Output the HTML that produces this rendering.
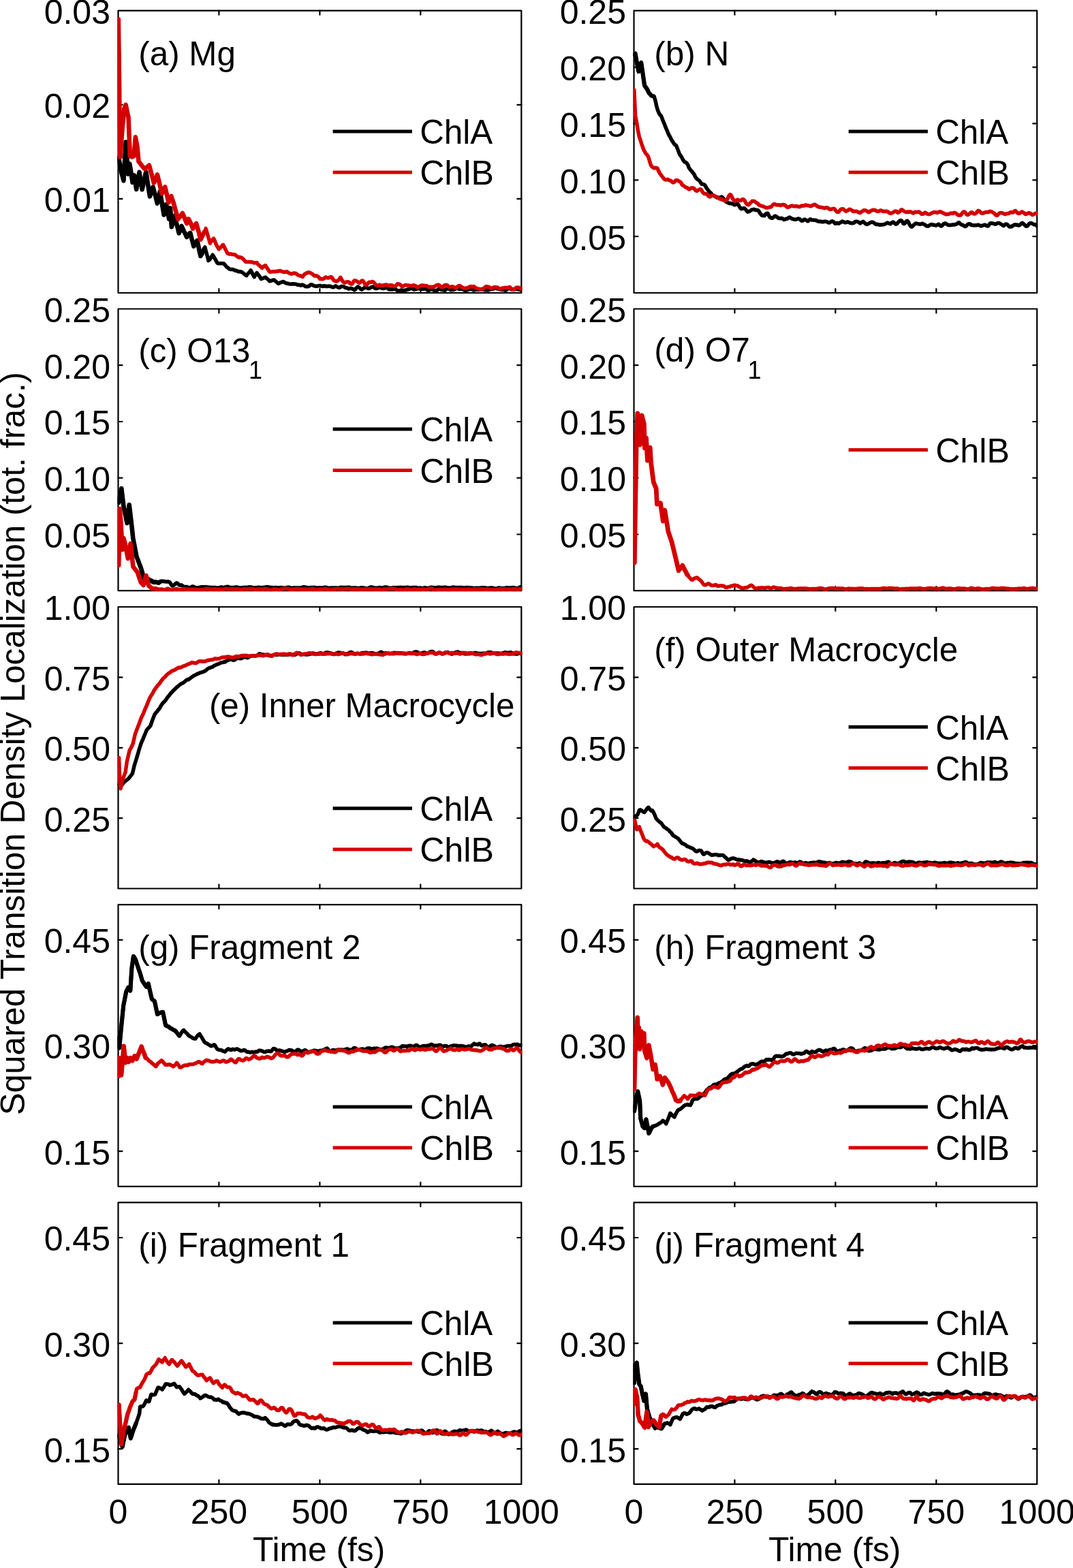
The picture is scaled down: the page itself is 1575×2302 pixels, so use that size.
<!DOCTYPE html><html><head><meta charset="utf-8"><title>Squared Transition Density Localization</title>
<style>html,body{margin:0;padding:0;background:#fff;}svg{display:block;}text{font-family:'Liberation Sans', Arial, Helvetica, sans-serif;}</style></head><body>
<svg xmlns="http://www.w3.org/2000/svg" width="1575" height="2302" viewBox="0 0 1575 2302">
<rect width="1575" height="2302" fill="#fff"/>
<g stroke="#000" stroke-width="2.2" fill="none" stroke-linecap="round">
<rect x="173.5" y="15.7" width="591.8" height="414.3" stroke-linejoin="round"/>
<path d="M321.4 430V424 M321.4 15.7V21.7 M469.4 430V424 M469.4 15.7V21.7 M617.3 430V424 M617.3 15.7V21.7 M173.5 291.9H179.5 M765.3 291.9H759.3 M173.5 153.8H179.5 M765.3 153.8H759.3"/>
</g>
<clipPath id="c0"><rect x="172.5" y="14.7" width="593.8" height="416.3"/></clipPath>
<g clip-path="url(#c0)" fill="none" stroke-width="5.5" stroke-linejoin="round" stroke-linecap="round">
<path stroke="#000" d="M173.8 232.2 L174.8 235.6 L175 236 L175.8 240.2 L176.8 245.8 L177.5 249.9 L177.8 251.3 L178.8 255.2 L179.8 259 L180.8 262.9 L181.4 265.3 L181.8 258.3 L182.8 241.1 L183.8 224 L184.7 208.6 L184.8 210 L185.8 224 L186.8 237.8 L187.8 251.5 L188.1 255.6 L188.8 250.8 L189.8 244.1 L190.3 240.6 L190.8 243.4 L191.8 249.6 L192.8 256.1 L193.8 262.8 L194.5 267.7 L194.8 266.7 L195.8 262.8 L196.8 258.7 L197.1 257.4 L197.8 262.3 L198.8 269.1 L199.8 275.7 L200.2 278 L200.8 274.3 L201.8 268.3 L202.8 262.5 L203.8 256.9 L204.6 252.7 L204.8 254.3 L205.8 260.8 L206.8 267.2 L207.8 273.3 L208.6 278.2 L208.8 277.4 L209.8 272.9 L210.8 268.5 L211.8 263.9 L212.8 259.2 L213.8 254.5 L214.3 252.3 L214.8 255.4 L215.8 261.7 L216.8 268.6 L217.8 275.2 L218.8 281.6 L219.8 287.6 L220 288.4 L220.8 285.8 L221.8 282.6 L222.8 279.4 L223.8 276.6 L224.6 274.6 L224.8 275.4 L225.8 279 L226.8 282.7 L227.8 286.4 L228.8 290.2 L229.8 294.2 L230.8 298.2 L230.9 298.6 L231.8 294.7 L232.8 290.1 L233.8 285.5 L234.8 281.2 L234.9 280.9 L235.8 286.4 L236.8 292.5 L237.8 298.5 L238.8 304.7 L239.8 310.7 L240.6 315.5 L240.8 314.7 L241.8 310.3 L242.8 305.8 L243.8 301.2 L244 300.1 L244.8 304.1 L245.8 309.1 L246.8 314.3 L247.8 319.9 L248 321.4 L248.8 315 L249.8 306.9 L250 305.4 L250.8 317.4 L251.8 332 L251.9 333.2 L252.8 329.8 L253.8 325.9 L254.8 322.4 L255.8 318.7 L256.3 317 L256.8 319.2 L257.8 323.1 L258.8 327.1 L259.8 330.8 L260.8 334.5 L261.8 338.6 L262.7 342.4 L262.8 342.3 L263.8 339.5 L264.8 336.7 L265.8 333.8 L266.5 331.9 L266.8 332.5 L267.8 334.6 L268.8 336.9 L269.8 339.3 L270.8 341.2 L271.8 343 L272.8 345.2 L273.8 347.4 L274.1 348 L274.8 347.2 L275.8 345.7 L276.8 344.3 L277.8 343.1 L278.8 342.1 L279.2 341.9 L279.8 344.2 L280.8 348.2 L281.8 352.1 L282.8 355.6 L283.8 359.4 L284.3 361.6 L284.8 360.8 L285.8 359.3 L286.8 357.4 L287.8 355.4 L288.8 353.9 L289.4 353.2 L289.8 354.8 L290.8 359.3 L291.8 364.1 L292.8 368.8 L293.8 373.4 L294.4 376 L294.8 375.1 L295.8 373.7 L296.8 372 L297.8 369.8 L298.8 367.4 L299.8 365.2 L300.8 362.8 L301.8 366.7 L302.8 370.4 L303.8 374 L304.8 377.9 L305.8 382.1 L305.9 382.6 L306.8 381.9 L307.8 381.1 L308.8 379.7 L309.8 378 L310.8 376.4 L311.8 374.9 L312.2 374.1 L312.8 375.1 L313.8 376.8 L314.8 378.5 L315.8 380.3 L316.8 382.1 L317.8 384 L318.6 385.6 L318.8 386 L319.8 386.5 L320.8 386.7 L321.8 386.7 L322.8 386.8 L323.8 386.8 L324.8 386.7 L325.8 386.8 L326.8 386.7 L327.8 386.8 L328.7 387.1 L328.8 387.3 L329.8 388.4 L330.8 389.6 L331.8 390.8 L332.8 391.9 L333.8 392.6 L334.8 393.3 L335.8 394.4 L336.3 394.9 L336.8 394.9 L337.8 395.1 L338.8 395.6 L339.8 395.6 L340.8 395.6 L341.8 395.6 L342.8 396 L343.8 396.4 L344.8 397 L345.2 397.3 L345.8 397.2 L346.8 397.3 L347.8 397.8 L348.8 398.3 L349.8 398.7 L350.8 398.9 L351.6 398.5 L351.8 398.6 L352.8 399.1 L353.8 399 L354.8 399.3 L355.8 400.1 L356.8 400.9 L357.8 401.7 L358.8 402.5 L359.8 403.3 L360.8 404.1 L361.7 404.6 L361.8 404.2 L362.8 403.1 L363.8 402.1 L364.8 400.9 L365.8 399.8 L366.8 398.5 L367.8 397.4 L368.1 396.9 L368.8 398.2 L369.8 400.1 L370.8 402.2 L371.8 404.1 L372.8 406 L373.2 406.7 L373.8 405.5 L374.8 403.8 L375.8 402.3 L376.8 400.9 L377 400.6 L377.8 401.7 L378.8 403 L379.8 404.3 L380.8 405.5 L381.8 407.2 L382.8 409 L383.3 409.6 L383.8 409.3 L384.8 408.9 L385.8 408.6 L386.8 408.1 L387.8 407.6 L388.8 407.4 L389.7 407 L389.8 407.2 L390.8 408.3 L391.8 409.1 L392.8 409.9 L393.8 410.7 L394.8 411.8 L395.8 412.8 L396 412.6 L396.8 412.3 L397.8 412.3 L398.8 412 L399.8 411.5 L400.8 411.1 L401.8 410.9 L402.4 410.9 L402.8 411.3 L403.8 412.2 L404.8 413.2 L405.8 413.9 L406.8 414.8 L407.8 415.9 L408.7 416.3 L408.8 416.2 L409.8 416 L410.8 415.3 L411.8 414.7 L412.8 414.4 L413.8 414.1 L414.8 413.7 L415.8 413.4 L416.8 413.9 L417.8 414.6 L418.8 415.2 L419.8 415.8 L420.8 415.9 L421.4 415.9 L421.8 416 L422.8 416.2 L423.8 416.6 L424.8 416.9 L425.8 417.1 L426.8 417.1 L427.8 416.9 L428.8 417 L429.8 416.7 L430.8 416.8 L431.8 417.1 L432.8 417.1 L433.8 417.1 L434.1 417.1 L434.8 417.2 L435.8 417.8 L436.8 418.2 L437.8 418.2 L438.8 418.1 L439.8 418.3 L440.8 418.9 L441.8 419.1 L442.8 418.3 L443.8 418.1 L444.8 418.5 L445.8 418.9 L446.8 419.6 L447.8 420.3 L448.8 420.6 L449.8 420.7 L450.8 420.7 L451.8 420.6 L452.8 420.5 L453.8 420 L454.8 418.9 L455.8 417.9 L456.8 417.7 L457.8 418 L458.8 418.3 L459.8 419.2 L460.8 419.5 L461.8 419.8 L462.8 420.1 L463.8 420.2 L464.8 420.2 L465.8 420 L466.8 419.8 L467.8 419.8 L468.8 419.4 L469.8 419.3 L470 419.5 L470.8 420 L471.8 420.1 L472.8 420.1 L473.8 420.4 L474.8 420.3 L475.8 419.7 L476.8 419.8 L477.8 420 L478.8 420.4 L479.8 420.5 L480.8 420.2 L481.8 420 L482.8 420.3 L483.8 420.2 L484.8 420.3 L485.8 420.8 L486.8 421 L487.8 421.6 L488.8 421.7 L489.8 421.5 L490.8 421 L491.8 420.1 L492.8 419.8 L493.8 420.4 L494.8 421.1 L495.8 421.6 L496.8 422 L497.8 422.3 L498.8 422.1 L499 421.8 L499.8 421.3 L500.8 420.5 L501.8 420.4 L502.8 420.6 L503.8 420.8 L504.8 420.8 L505.8 421.6 L506.8 422.4 L507.8 422.5 L508.8 422.6 L509.8 423 L510.8 423.5 L511.8 424.1 L512.8 423.9 L513.8 423.3 L514.8 423.2 L515.8 423.4 L516.8 424 L517.8 424.2 L518.8 424.7 L519.8 425.7 L520.8 425.7 L521.8 424.5 L522.8 423.1 L523.8 422.1 L524.8 421.2 L525.8 421.1 L526.8 421.7 L527.8 422.6 L528.8 423.4 L529.8 424.6 L530.8 425.2 L531.8 424.5 L532.8 423.8 L533.8 423.4 L534.8 422.4 L535.8 421.5 L536.8 421.4 L537.8 422.1 L538.7 422.9 L538.8 422.9 L539.8 423.2 L540.8 423.6 L541.8 423.5 L542.8 423 L543.8 422.4 L544.8 421.7 L545.8 421.4 L546.8 421.2 L547.8 421.1 L548.8 421.9 L549.8 423.1 L550.8 423.3 L551.8 423.4 L552.8 423.4 L553.8 423.2 L554.8 422.8 L555.8 422.5 L556.8 422.1 L557.8 422 L558.8 422.6 L559.8 423.1 L560.8 423.1 L561.8 423.1 L562.8 423.5 L563.8 423.3 L564.8 422.9 L565.8 422.7 L566.8 422.3 L567.8 422.3 L568.8 423 L569.8 424 L570.8 424.5 L571.8 425.1 L572.8 424.9 L573.8 424.5 L574.8 424.7 L575.8 425.1 L576.8 424.6 L577.8 424.3 L578 424.4 L578.8 424.1 L579.8 424 L580.8 424.8 L581.8 425.6 L582.8 426.1 L583.8 426.7 L584.8 427 L585.8 426.7 L586.8 426.6 L587.8 426.3 L588.8 425.9 L589.8 426 L590.8 426.3 L591.8 426.6 L592.8 426.5 L593.8 426.2 L594.8 426 L595.8 426.1 L596.8 425.7 L597.8 425.1 L598.8 425 L599.8 424.9 L600.8 424.4 L601.8 423.8 L602.8 423.4 L603.8 423 L604.8 423.1 L605.8 424 L606.8 424.9 L607.8 425.4 L608.8 424.9 L609.8 424.6 L610.8 424.5 L611.8 424.1 L612.8 423.6 L613.8 423.8 L614.8 423.7 L615.8 423.4 L616.8 424.1 L617.5 424.5 L617.8 424.4 L618.8 424.5 L619.8 424.4 L620.8 424.3 L621.8 424.2 L622.8 423.9 L623.8 423.6 L624.8 424 L625.8 424.7 L626.8 425.4 L627.8 426.4 L628.8 426.7 L629.8 426.2 L630.8 425.5 L631.8 424.8 L632.8 424.7 L633.8 424.9 L634.8 425.3 L635.8 425.5 L636.8 426.2 L637.8 426.8 L638.8 426.8 L639.8 426.4 L640.8 426.3 L641.8 426.2 L642.8 425 L643.8 424.1 L644.8 423.9 L645.8 424.2 L646.8 424.8 L647.8 425.5 L648.8 425.6 L649.8 425.4 L650.8 425.5 L651.8 426 L652.8 426.2 L653.8 426 L654.8 424.9 L655.8 423.8 L656.8 422.9 L657 422.9 L657.8 423.3 L658.8 423.9 L659.8 424.7 L660.8 425.5 L661.8 425.7 L662.8 425.5 L663.8 425.2 L664.8 425.5 L665.8 425.4 L666.8 425 L667.8 424.6 L668.8 423.7 L669.8 423.3 L670.8 423 L671.8 423 L672.8 423.8 L673.8 424.5 L674.8 424.5 L675.8 424.2 L676.8 424.2 L677.8 424.1 L678.8 424.2 L679.8 424.7 L680.8 425.7 L681.8 426.1 L682.8 426.2 L683.8 426.2 L684.8 426.1 L685.8 425.8 L686.8 425.5 L687.8 425.1 L688.8 424.9 L689.8 424.5 L690.8 424.3 L691.8 424.3 L692.8 424.7 L693.8 425.3 L694.8 426 L695.8 426.1 L696 425.7 L696.8 425.5 L697.8 425.5 L698.8 425.2 L699.8 425 L700.8 425.1 L701.8 425.3 L702.8 425.4 L703.8 425.1 L704.8 424.8 L705.8 425 L706.8 425.2 L707.8 424.9 L708.8 424.9 L709.8 425 L710.8 425.5 L711.8 425.7 L712.8 425.7 L713.8 425.6 L714.8 426.1 L715.8 426.1 L716.8 426 L717.8 425.6 L718.8 425.2 L719.8 424.7 L720.8 424 L721.8 424.1 L722.8 424.4 L723.8 424.2 L724.8 423.8 L725.8 423.2 L726.8 422.8 L727.8 423 L728.8 423.6 L729.8 423.9 L730.8 424.1 L731.8 424.3 L732.8 424.7 L733.8 425 L734.8 424.7 L735.6 424.9 L735.8 425.2 L736.8 425.4 L737.8 425.4 L738.8 425.5 L739.8 425.3 L740.8 425.8 L741.8 426.3 L742.8 426.1 L743.8 425.2 L744.8 424.5 L745.8 423.8 L746.8 423.3 L747.8 423.2 L748.8 423.4 L749.8 424.3 L750.8 425 L751.8 425.3 L752.8 425.1 L753.8 424.6 L754.8 424.3 L755.8 424.3 L756.8 424.4 L757.8 424.6 L758.8 424.5 L759.8 424.7 L760.8 425.1 L761.8 425.1 L762.8 425.4 L763.8 425.5 L764.8 425.2 L765 424.9"/>
<path stroke="#000" stroke-width="6.6" d="M173.8 232.2 L174.8 235.6 L175 236 L175.8 240.2 L176.8 245.8 L177.5 249.9 L177.8 251.3 L178.8 255.2 L179.8 259 L180.8 262.9 L181.4 265.3 L181.8 258.3 L182.8 241.1 L183.8 224 L184.7 208.6 L184.8 210 L185.8 224 L186.8 237.8 L187.8 251.5 L188.1 255.6 L188.8 250.8 L189.8 244.1 L190.3 240.6 L190.8 243.4 L191.8 249.6 L192.8 256.1 L193.8 262.8 L194.5 267.7 L194.8 266.7 L195.8 262.8 L196.8 258.7 L197.1 257.4 L197.8 262.3 L198.8 269.1 L199.8 275.7 L200.2 278 L200.8 274.3 L201.8 268.3 L202.8 262.5 L203.8 256.9 L204.6 252.7 L204.8 254.3 L205.8 260.8 L206.8 267.2 L207.8 273.3 L208.6 278.2 L208.8 277.4 L209.8 272.9 L210.8 268.5 L211.8 263.9 L212.8 259.2 L213.8 254.5 L214.3 252.3 L214.8 255.4 L215.8 261.7 L216.8 268.6 L217.8 275.2 L218.8 281.6 L219.8 287.6 L220 288.4 L220.8 285.8 L221.8 282.6 L222.8 279.4 L223.8 276.6 L224.6 274.6 L224.8 275.4 L225.8 279 L226.8 282.7 L227.8 286.4 L228.8 290.2 L229.8 294.2 L230.8 298.2 L230.9 298.6 L231.8 294.7 L232.8 290.1 L233.8 285.5 L234.8 281.2 L234.9 280.9 L235.8 286.4 L236.8 292.5 L237.8 298.5 L238.8 304.7 L239.8 310.7 L240.6 315.5 L240.8 314.7 L241.8 310.3 L242.8 305.8 L243.8 301.2 L244 300.1 L244.8 304.1 L245.8 309.1 L246.8 314.3 L247.8 319.9 L248 321.4 L248.8 315 L249.8 306.9 L250 305.4 L250.8 317.4 L251.8 332 L251.9 333.2 L252.8 329.8 L253.8 325.9 L254.8 322.4 L255.8 318.7 L256.3 317 L256.8 319.2 L257.8 323.1 L258.8 327.1 L259.8 330.8 L260.8 334.5 L261.8 338.6 L262.7 342.4 L262.8 342.3 L263.8 339.5 L264.8 336.7 L265.8 333.8 L266.5 331.9 L266.8 332.5 L267.8 334.6 L268.8 336.9 L269.8 339.3 L270.8 341.2 L271.8 343 L272.8 345.2 L273.8 347.4 L274.1 348 L274.8 347.2 L275.8 345.7 L276.8 344.3 L277.8 343.1 L278.8 342.1 L279.2 341.9 L279.8 344.2 L280.8 348.2 L281.8 352.1 L282.8 355.6 L283.8 359.4 L284.3 361.6 L284.8 360.8 L285.8 359.3 L286.8 357.4 L287.8 355.4 L288.8 353.9 L289.4 353.2 L289.8 354.8 L290.8 359.3 L291.8 364.1 L292.8 368.8 L293.8 373.4 L294.4 376 L294.8 375.1 L295.8 373.7 L296.8 372 L297.8 369.8 L298.8 367.4 L299.8 365.2"/>
<path stroke="#d40000" d="M173.8 28.2 L174.8 106.2 L175.1 129.8 L175.7 190.1 L175.8 195.5 L176.5 230.7 L176.8 226.5 L177.8 212.6 L178.8 198.8 L179.4 190.4 L179.8 186.2 L180.8 176.2 L181.8 166.3 L182.5 159.3 L182.8 158.4 L183.8 155.8 L184.6 153.8 L184.8 154.9 L185.8 159.6 L186.8 164.4 L187.8 169 L188.5 172 L188.8 179.4 L189.8 204.2 L190.8 228.9 L191.8 229.4 L192.8 230 L193.5 230.4 L193.8 230.3 L194.8 229.8 L195.8 229.5 L196.5 229.3 L196.8 225.8 L197.8 214.1 L198.8 202.4 L198.9 201.4 L199.8 206.3 L200.8 211.7 L201.5 215.5 L201.8 218.7 L202.8 229.6 L203.5 237.1 L203.8 237.4 L204.8 238.7 L205.8 239.9 L206.8 241.2 L207.8 242.6 L208 243 L208.8 244 L209.8 245.1 L210.8 246.3 L211.8 247.3 L212.8 248 L213.8 246.8 L214.8 245.9 L215.8 245.1 L216.8 244.4 L217.8 243.8 L218.8 242.9 L218.9 242.5 L219.8 245.7 L220.8 249.5 L221.8 253.2 L222.8 256.8 L223.8 260.6 L224.8 264.6 L225.7 268.3 L225.8 268.4 L226.8 266.3 L227.8 264.1 L228.8 261.8 L229.8 259.4 L230.8 256.8 L230.9 256.4 L231.8 260 L232.8 264 L233.8 268.1 L234.8 272.2 L235.8 276.2 L236.8 280.3 L237.7 284.2 L237.8 284.1 L238.8 282.1 L239.8 280 L240.8 278 L241.8 275.7 L242.3 274.4 L242.8 276.5 L243.8 281 L244.8 285.3 L245.8 289.7 L246.8 294.5 L247.4 297.4 L247.8 296.4 L248.8 294.1 L249.8 291.9 L250.8 289.4 L251.4 287.9 L251.8 289.2 L252.8 292.4 L253.8 295.2 L254.8 298.1 L255.1 299.4 L255.8 301.9 L256.8 305.6 L257.8 309.2 L258.8 312.7 L259.8 316.1 L260.8 319.7 L261.4 321.8 L261.8 321.1 L262.8 319.8 L263.8 318.6 L264.8 317.3 L265.8 315.9 L266.8 314.5 L267.8 313 L268.8 315.2 L269.8 317.4 L270.8 319.8 L271.8 322.4 L272.8 324.8 L273.8 327.1 L274.1 328.1 L274.8 326.6 L275.8 324.1 L276.7 321.5 L276.8 321.6 L277.8 323.6 L278.8 325.6 L279.8 327.6 L280.8 329.7 L281.8 332.1 L282.8 334.9 L283 335.7 L283.8 334.6 L284.8 333.2 L285.8 331.6 L286.8 330 L287.8 328.4 L288.1 327.9 L288.8 330.3 L289.8 333.7 L290.8 337.3 L291.8 341 L292.8 345.1 L293.8 349.2 L294.4 351.6 L294.8 351 L295.8 348.9 L296.8 346.9 L297.8 344.8 L298.8 342.8 L299.8 340.8 L300.8 338.6 L301.8 336.2 L302.1 335.4 L302.8 337.8 L303.8 341.3 L304.8 344.7 L305.8 348.2 L306.8 351.7 L307.8 355.1 L308.4 357.1 L308.8 356.3 L309.8 354.6 L310.8 353.2 L311.8 351.9 L312.8 350.8 L313.5 350.2 L313.8 350.6 L314.8 352.5 L315.8 355.1 L316.8 357.7 L317.8 359.9 L318.8 361.7 L319.8 363.5 L320.8 365.1 L321.1 365.7 L321.8 365.2 L322.8 364.2 L323.8 363.2 L324.8 362 L325.8 360.9 L326.8 360 L327.5 359.3 L327.8 359.9 L328.8 361.8 L329.8 363.8 L330.8 365.8 L331.8 367.8 L332.8 369.7 L333.8 371.7 L334.8 372.1 L335.8 372.7 L336.8 373.1 L337.8 373.1 L338.8 372.8 L339.8 373.1 L340.8 373.6 L341.8 373.6 L342.8 373.5 L343.8 373.7 L344.8 373.9 L345.2 374 L345.8 374.6 L346.8 375.4 L347.8 376.1 L348.8 377 L349.8 377.5 L350.8 377.9 L351.6 378 L351.8 377.5 L352.8 377.8 L353.8 378.1 L354.8 378.4 L355.8 379.3 L356.8 380.3 L357.8 381.2 L358.8 382.3 L359.8 383.5 L360.5 384.4 L360.8 384.5 L361.8 384.5 L362.8 384.4 L363.8 384.4 L364.8 384.4 L365.8 384.6 L366.8 384.7 L367.8 384.6 L368.8 384.7 L369.8 384.8 L370.6 384.9 L370.8 385 L371.8 385.6 L372.8 385.9 L373.8 385.8 L374.8 385.8 L375.8 386 L376.8 385.8 L377 385.7 L377.8 386.8 L378.8 388.1 L379.8 389.1 L380.8 389.9 L381.8 390.8 L382.8 391.9 L383.8 393 L384.6 393.5 L384.8 393.1 L385.8 392.3 L386.8 391.3 L387.8 390.5 L388.8 389.9 L389.7 389.7 L389.8 390.3 L390.8 391.8 L391.8 393.1 L392.8 394.5 L393.8 396.1 L394.8 397.6 L395.8 399.1 L396 399.3 L396.8 399.1 L397.8 399 L398.8 398.9 L399.8 398.8 L400.8 398.6 L401.8 398.6 L402.8 398.8 L403.8 398.7 L404.8 398.5 L405.8 398.5 L406.8 398.2 L407.8 398 L408.7 398.2 L408.8 398.2 L409.8 397.6 L410.8 397.4 L411.8 397.8 L412.8 398.3 L413.8 398.6 L414.8 398.8 L415.8 399.3 L416.8 399.6 L417.8 399.3 L418.8 399.2 L419.8 399 L420.8 398.9 L421.4 398.7 L421.8 399.4 L422.8 400.3 L423.8 400.6 L424.8 401 L425.8 401.6 L426.8 401.9 L427.8 402.2 L428.8 401.9 L429.8 401.4 L430.8 401.1 L431.8 401 L432.8 401.3 L433.8 401.2 L434.1 401.2 L434.8 401.7 L435.8 402.6 L436.8 403.6 L437.8 404 L438.8 404.4 L439.8 404.8 L440.8 404.9 L441.8 405.2 L442.8 405.6 L443.8 406.3 L444.3 406.4 L444.8 405.3 L445.8 403.8 L446.8 402.7 L447.8 402 L448.8 401.6 L449.8 400.8 L450 400.8 L450.8 400.6 L451.8 400.2 L452.8 399.8 L453.8 400 L454.8 400.4 L455.8 400.8 L456.8 401.3 L457.8 401.9 L458.8 402.5 L459.8 403.3 L460.8 404.4 L461.8 405.1 L462.8 404.8 L463.8 404.6 L464.8 405 L465.8 405.4 L466.8 406.1 L467.8 407 L468.8 408.3 L469.8 409.5 L470 408.9 L470.8 409 L471.8 409.5 L472.8 409.7 L473.8 409.6 L474.8 409.2 L475.8 408.7 L476.8 407.9 L477.8 407 L478.8 407.1 L479.8 407.8 L480.8 407.9 L481.8 408 L482.8 407.7 L483.8 407.2 L484.8 406.9 L485.8 406.6 L486.8 406.9 L487.8 408.1 L488.8 410 L489.8 411.3 L490.8 412.3 L491.8 412.4 L492.8 412.7 L493.8 413 L494.8 412.7 L495.8 412.1 L496.8 411.3 L497.8 410.2 L498.8 408.7 L499.4 407.5 L499.8 407.3 L500.8 408.9 L501.8 410.9 L502.8 412.7 L503.8 413.9 L504.8 414.7 L505.8 415.1 L506.8 414.8 L507.8 414.3 L508.8 414.1 L509.8 413.6 L510.8 413.8 L511.8 413.9 L512.8 414.6 L513.8 416.1 L514.8 416.6 L515.8 417 L516.8 416.9 L517.8 415.5 L518.8 413.4 L519.8 412.2 L520.8 411.7 L521.8 412.1 L522.8 412.5 L523.8 412.8 L524.8 413.4 L525.8 414.3 L526.8 415.3 L527.8 415.2 L528.8 414.6 L529.8 413.5 L530.8 412.3 L531.8 412 L532.8 412.4 L533.8 413.7 L534.8 415.5 L535.8 417.4 L536.8 418.5 L537.8 418.6 L538.7 418 L538.8 417.2 L539.8 416.5 L540.8 415.2 L541.8 414.2 L542.8 414.3 L543.8 414.4 L544.8 414.2 L545.8 413.7 L546.8 413.4 L547.8 413.9 L548.8 414.7 L549.8 415.9 L550.8 417.4 L551.8 418.6 L552.8 419.1 L553.8 419.3 L554.8 419 L555.8 418.6 L556.8 418.1 L557.8 418.5 L558.8 419 L559.8 419 L560.8 419.3 L561.8 419.3 L562.8 418.8 L563.8 418.5 L564.8 418.3 L565.8 418.2 L566.8 417.9 L567.8 418.2 L568.8 418.9 L569.8 419.3 L570.8 419.4 L571.8 419.1 L572.8 418.4 L573.8 418.6 L574.8 418.9 L575.8 419 L576.8 419.5 L577.8 420.2 L578 420.2 L578.8 420.5 L579.8 420.6 L580.8 420.1 L581.8 418.8 L582.8 417.3 L583.8 416.7 L584.8 416.9 L585.8 417.1 L586.8 417.5 L587.8 418.3 L588.8 419.4 L589.8 420.5 L590.8 420.5 L591.8 420 L592.8 419.6 L593.8 419 L594.8 418.4 L595.8 418.4 L596.8 418.6 L597.8 419 L598.8 419 L599.8 418.9 L600.8 419.1 L601.8 419.4 L602.8 419.6 L603.8 419.7 L604.8 419.5 L605.8 419.3 L606.8 418.8 L607.8 418.8 L608.8 419.3 L609.8 419.6 L610.8 420.3 L611.8 421.5 L612.8 421.9 L613.8 421.5 L614.8 420.9 L615.8 420.2 L616.8 419.8 L617.5 419.6 L617.8 419.3 L618.8 419 L619.8 419.2 L620.8 419.1 L621.8 419.1 L622.8 419.3 L623.8 419.4 L624.8 419.5 L625.8 419.5 L626.8 419.9 L627.8 420.6 L628.8 421 L629.8 421.2 L630.8 421.3 L631.8 421.1 L632.8 421.5 L633.8 421.5 L634.8 421.2 L635.8 421.3 L636.8 421 L637.8 420.3 L638.8 420 L639.8 419.4 L640.8 418.6 L641.8 418.4 L642.8 418.2 L643.8 418.2 L644.8 418.8 L645.8 419.7 L646.8 420.6 L647.8 421.4 L648.8 421.8 L649.8 421.5 L650.8 420.6 L651.8 419.3 L652.8 418.6 L653.8 418.4 L654.8 418.5 L655.8 418.5 L656.8 418.8 L657 419.7 L657.8 420.5 L658.8 421 L659.8 421.3 L660.8 421.4 L661.8 421.1 L662.8 420.7 L663.8 420.7 L664.8 420.9 L665.8 421.4 L666.8 421.8 L667.8 422.1 L668.8 422.5 L669.8 422.4 L670.8 421.5 L671.8 420.6 L672.8 419.8 L673.8 419.4 L674.8 419.5 L675.8 420 L676.8 420.7 L677.8 421.4 L678.8 422 L679.8 422.5 L680.8 423.1 L681.8 423.3 L682.8 423.2 L683.8 423 L684.8 422.8 L685.8 422.7 L686.8 422.6 L687.8 422.1 L688.8 421.1 L689.8 420.7 L690.8 420.6 L691.8 420.5 L692.8 420.9 L693.8 420.9 L694.8 420.6 L695.8 420.4 L696 420.9 L696.8 421.7 L697.8 422.3 L698.8 422.9 L699.8 423.3 L700.8 423.8 L701.8 423.9 L702.8 424.1 L703.8 424.5 L704.8 424.7 L705.8 424.6 L706.8 424.8 L707.8 424.4 L708.8 423.8 L709.8 423.4 L710.8 422.7 L711.8 422 L712.8 421 L713.8 420.6 L714.8 420.7 L715.8 420.9 L716.8 421 L717.8 421.4 L718.8 422.1 L719.8 422.8 L720.8 423.2 L721.8 423.3 L722.8 423 L723.8 422.2 L724.8 421.9 L725.8 421.6 L726.8 421.5 L727.8 421.7 L728.8 421.8 L729.8 421.9 L730.8 422.2 L731.8 423.1 L732.8 423.8 L733.8 424.2 L734.8 424.3 L735.6 424 L735.8 423.6 L736.8 423 L737.8 422.9 L738.8 422.9 L739.8 422.6 L740.8 422.4 L741.8 422.3 L742.8 422.2 L743.8 422.4 L744.8 422.4 L745.8 422.2 L746.8 421.7 L747.8 421.4 L748.8 421.8 L749.8 422.9 L750.8 423.9 L751.8 424.7 L752.8 425.3 L753.8 425.5 L754.8 425.3 L755.8 424.1 L756.8 422.9 L757.8 422.2 L758.8 422.1 L759.8 422 L760.8 422.1 L761.8 422.4 L762.8 422.9 L763.8 423.8 L764.8 424.1 L765 424"/>
<path stroke="#d40000" stroke-width="6.6" d="M173.8 28.2 L174.8 106.2 L175.1 129.8 L175.7 190.1 L175.8 195.5 L176.5 230.7 L176.8 226.5 L177.8 212.6 L178.8 198.8 L179.4 190.4 L179.8 186.2 L180.8 176.2 L181.8 166.3 L182.5 159.3 L182.8 158.4 L183.8 155.8 L184.6 153.8 L184.8 154.9 L185.8 159.6 L186.8 164.4 L187.8 169 L188.5 172 L188.8 179.4 L189.8 204.2 L190.8 228.9 L191.8 229.4 L192.8 230 L193.5 230.4 L193.8 230.3 L194.8 229.8 L195.8 229.5 L196.5 229.3 L196.8 225.8 L197.8 214.1 L198.8 202.4 L198.9 201.4 L199.8 206.3 L200.8 211.7 L201.5 215.5 L201.8 218.7 L202.8 229.6 L203.5 237.1 L203.8 237.4 L204.8 238.7 L205.8 239.9 L206.8 241.2 L207.8 242.6 L208 243 L208.8 244 L209.8 245.1 L210.8 246.3 L211.8 247.3 L212.8 248 L213.8 246.8 L214.8 245.9 L215.8 245.1 L216.8 244.4 L217.8 243.8 L218.8 242.9 L218.9 242.5 L219.8 245.7 L220.8 249.5 L221.8 253.2 L222.8 256.8 L223.8 260.6 L224.8 264.6 L225.7 268.3 L225.8 268.4 L226.8 266.3 L227.8 264.1 L228.8 261.8 L229.8 259.4 L230.8 256.8 L230.9 256.4 L231.8 260 L232.8 264 L233.8 268.1 L234.8 272.2 L235.8 276.2 L236.8 280.3 L237.7 284.2 L237.8 284.1 L238.8 282.1 L239.8 280 L240.8 278 L241.8 275.7 L242.3 274.4 L242.8 276.5 L243.8 281 L244.8 285.3 L245.8 289.7 L246.8 294.5 L247.4 297.4 L247.8 296.4 L248.8 294.1 L249.8 291.9 L250.8 289.4 L251.4 287.9 L251.8 289.2 L252.8 292.4 L253.8 295.2 L254.8 298.1 L255.1 299.4 L255.8 301.9 L256.8 305.6 L257.8 309.2 L258.8 312.7 L259.8 316.1 L260.8 319.7 L261.4 321.8 L261.8 321.1 L262.8 319.8 L263.8 318.6 L264.8 317.3 L265.8 315.9 L266.8 314.5 L267.8 313 L268.8 315.2 L269.8 317.4 L270.8 319.8 L271.8 322.4 L272.8 324.8 L273.8 327.1 L274.1 328.1 L274.8 326.6 L275.8 324.1 L276.7 321.5 L276.8 321.6 L277.8 323.6 L278.8 325.6 L279.8 327.6 L280.8 329.7 L281.8 332.1 L282.8 334.9 L283 335.7 L283.8 334.6 L284.8 333.2 L285.8 331.6 L286.8 330 L287.8 328.4 L288.1 327.9 L288.8 330.3 L289.8 333.7 L290.8 337.3 L291.8 341 L292.8 345.1 L293.8 349.2 L294.4 351.6 L294.8 351 L295.8 348.9 L296.8 346.9 L297.8 344.8 L298.8 342.8 L299.8 340.8"/>
</g>
<g font-size="50" text-anchor="end" fill="#000">
<text x="162" y="311.3">0.01</text>
<text x="162" y="173.2">0.02</text>
<text x="162" y="35.1">0.03</text>
</g>
<text x="203.24" y="96.00" font-size="50" textLength="142.64" lengthAdjust="spacingAndGlyphs">(a) Mg</text>
<path d="M488.6 192.9H604.9" stroke="#000" stroke-width="5.0"/>
<text x="616.19" y="211.30" font-size="50" textLength="107.00" lengthAdjust="spacingAndGlyphs">ChlA</text>
<path d="M488.6 253.1H604.9" stroke="#d40000" stroke-width="5.0"/>
<text x="616.15" y="271.30" font-size="50" textLength="108.69" lengthAdjust="spacingAndGlyphs">ChlB</text>
<g stroke="#000" stroke-width="2.2" fill="none" stroke-linecap="round">
<rect x="930.5" y="15.7" width="591.7" height="414.3" stroke-linejoin="round"/>
<path d="M1078.4 430V424 M1078.4 15.7V21.7 M1226.3 430V424 M1226.3 15.7V21.7 M1374.3 430V424 M1374.3 15.7V21.7 M930.5 347.1H936.5 M1522.2 347.1H1516.2 M930.5 264.3H936.5 M1522.2 264.3H1516.2 M930.5 181.4H936.5 M1522.2 181.4H1516.2 M930.5 98.6H936.5 M1522.2 98.6H1516.2"/>
</g>
<clipPath id="c1"><rect x="929.5" y="14.7" width="593.7" height="416.3"/></clipPath>
<g clip-path="url(#c1)" fill="none" stroke-width="5.5" stroke-linejoin="round" stroke-linecap="round">
<path stroke="#000" d="M930.8 80 L931.8 79.2 L932.5 78.6 L932.8 80.3 L933.8 86 L934.5 90 L934.8 91.6 L935.8 96.7 L936.8 101.9 L937.4 105 L937.8 103.6 L938.8 100.2 L939.8 96.8 L940.8 93.4 L941.2 92 L941.8 96.1 L942.8 103 L943.8 109.9 L944.8 116.7 L945.8 123.8 L946 125.3 L946.8 126.6 L947.8 128 L948.8 129.3 L949.8 130.8 L950.8 132.7 L951.8 134.9 L952.8 136.7 L953.6 137.5 L953.8 137.6 L954.8 139.1 L955.8 140.3 L956.8 140.6 L957.8 140.8 L958.8 141.1 L959.8 141.8 L960.8 143.8 L961.8 147.3 L962.8 151.1 L963 152.6 L963.8 156 L964.8 159.7 L965.8 162.6 L966.8 165 L967.8 167.1 L968.8 168.6 L969.8 169.4 L970.8 171 L971.8 173.5 L972.8 176.2 L973.8 178.7 L974.5 180.5 L974.8 180.8 L975.8 183.6 L976.8 186.4 L977.8 188.7 L978.8 190.9 L979.8 193.2 L980.8 195.9 L981.8 198.1 L982 198.5 L982.8 199.5 L983.8 201.3 L984.8 203.5 L985.8 205.5 L986.8 207.2 L987.8 208.5 L988.8 210.2 L989.8 211.6 L990.8 212.6 L991.7 213.2 L991.8 212.8 L992.8 214.3 L993.8 216.7 L994.8 219.4 L995.8 222.1 L996.8 224.6 L997.8 226.8 L998.8 228.2 L999.8 229.5 L1000.8 230.9 L1001 231.5 L1001.8 233.3 L1002.8 235 L1003.8 236.3 L1004.8 237.7 L1005.8 238.2 L1006.8 238.5 L1007.8 239.4 L1008.8 240.6 L1009.8 242.3 L1010.7 244.3 L1010.8 245.4 L1011.8 247 L1012.8 248.4 L1013.8 249.7 L1014.8 250.7 L1015.8 251.9 L1016.8 253.4 L1017.8 254.4 L1018.8 255.7 L1019.8 257.7 L1020 258.5 L1020.8 259.9 L1021.8 261.3 L1022.8 262.4 L1023.8 263.4 L1024.8 264.1 L1025.8 264.6 L1026.8 265.7 L1027.8 266.9 L1028.8 268.5 L1029.8 270 L1030.8 270.3 L1031.8 270.5 L1032.8 270.7 L1033.8 271.2 L1034.8 272 L1035.8 273.8 L1036.8 275.6 L1037.8 277.1 L1038.8 278.4 L1039.8 279.7 L1040.8 281 L1041.8 282.1 L1042.8 282.8 L1043 282.9 L1043.8 283.8 L1044.8 285.1 L1045.8 286.1 L1046.8 286.7 L1047.8 287.4 L1048.8 287.9 L1049.8 288.6 L1050.8 289.1 L1051.8 289.7 L1052.8 290.2 L1053.8 290.2 L1054.8 290 L1055.8 290.2 L1056.8 290.1 L1057.8 289.8 L1058.3 289.3 L1058.8 289 L1059.8 289.2 L1060.8 290.1 L1061.8 291.5 L1062.8 292.7 L1063.8 293.7 L1064.8 295.2 L1065.8 296.2 L1066.8 296.6 L1067.8 297 L1068.8 297.7 L1069.8 298.1 L1070.8 298.7 L1071.8 298.6 L1072.8 298.5 L1073.8 298.9 L1074.8 299.1 L1075.8 299.3 L1076.8 299.9 L1077.4 300.5 L1077.8 300.7 L1078.8 300.8 L1079.8 300.3 L1080.8 299.7 L1081.8 299.3 L1082.8 299.5 L1083.8 300.6 L1084.8 302.3 L1085.8 304 L1086.8 305.5 L1087.8 306.5 L1088.8 306.7 L1089.8 306.1 L1090.8 305.8 L1091.8 305.7 L1092.8 305.8 L1093.8 306.9 L1094.8 308 L1095.8 309.1 L1096.4 310 L1096.8 310.6 L1097.8 311 L1098.8 310.8 L1099.8 310.4 L1100.8 309.9 L1101.8 309.1 L1102.8 308.3 L1103.8 307.9 L1104.8 307.7 L1105.8 307.5 L1106.8 307.2 L1107.8 307.6 L1108.8 308.4 L1109.8 308.3 L1110.8 308.4 L1111.8 308.5 L1112.8 308.8 L1113.8 309.8 L1114.8 311.5 L1115.5 312.7 L1115.8 313.3 L1116.8 314.4 L1117.8 315.7 L1118.8 316.4 L1119.8 316.2 L1120.8 316.5 L1121.8 316.8 L1122.8 315.7 L1123.8 314.5 L1124.8 313.6 L1125.8 313.2 L1126.8 313.3 L1127.8 314.6 L1128.8 316.9 L1129.8 318.6 L1130.8 319.4 L1131.8 320 L1132.8 320.3 L1133.8 320.2 L1134.5 319.6 L1134.8 319.2 L1135.8 318.5 L1136.8 317.6 L1137.8 317 L1138.8 317.4 L1139.8 318.2 L1140.8 318.7 L1141.8 319.6 L1142.8 320.5 L1143.8 320.5 L1144.8 320.6 L1145.8 320.7 L1146.8 320.3 L1147.8 320.4 L1148.8 321 L1149.8 321.7 L1150.8 322.4 L1151.8 322.2 L1152.8 321.7 L1153.6 321.5 L1153.8 321.3 L1154.8 321.3 L1155.8 321.1 L1156.8 320 L1157.8 319.4 L1158.8 319.1 L1159.8 319.2 L1160.8 320.1 L1161.8 320.9 L1162.8 321.3 L1163.8 321.5 L1164.8 321.8 L1165.8 322.1 L1166.8 322.2 L1167.8 322.3 L1168.8 322 L1169.8 321.6 L1170.8 321.2 L1171.8 321.1 L1172.8 321.2 L1173.8 321.4 L1174.8 322.4 L1175.8 323.6 L1176.8 324.2 L1177.8 324.1 L1178.8 323.9 L1179.8 322.8 L1180.8 322.1 L1181.8 322.3 L1182.8 322.9 L1183.8 323.4 L1184.8 324.3 L1185.8 324.8 L1186.8 324.1 L1187.8 323 L1188.8 322.1 L1189.8 321.7 L1190.8 322.4 L1191.7 323.1 L1191.8 323.1 L1192.8 323 L1193.8 323.1 L1194.8 323.2 L1195.8 323.3 L1196.8 323.2 L1197.8 323.5 L1198.8 324 L1199.8 324.5 L1200.8 324.8 L1201.8 325.1 L1202.8 325.2 L1203.8 325.1 L1204.8 325.2 L1205.8 325.5 L1206.8 325.8 L1207.8 325.8 L1208.8 325.5 L1209.8 325.3 L1210.8 325.1 L1211.8 325.2 L1212.8 325.5 L1213.8 325.6 L1214.8 326.1 L1215.8 326.8 L1216.8 327.1 L1217.8 326.9 L1218.8 326.4 L1219.8 325.4 L1220 325.3 L1220.8 324.9 L1221.8 324.8 L1222.8 325.2 L1223.8 326 L1224.8 327.2 L1225.8 328.1 L1226.8 328.3 L1227.8 327.8 L1228.8 327.2 L1229.8 327.6 L1230.8 328.2 L1231.8 327.7 L1232.8 327 L1233.8 326.6 L1234.8 326.1 L1235.8 325.1 L1236.8 325.1 L1237.8 325.7 L1238.8 326 L1239.8 326.5 L1240.8 326.8 L1241.8 326.6 L1242.8 326.1 L1243.8 325.7 L1244.8 326 L1245.8 326.4 L1246.8 326.9 L1247.8 327.3 L1248.8 327.5 L1249.8 327.6 L1250.8 327.7 L1251.8 327.7 L1252.8 327.4 L1253.8 327 L1254.8 325.8 L1255.8 325.3 L1256.8 325.2 L1257.8 325.2 L1258.8 325.4 L1259.8 325.8 L1260.8 326.6 L1261.8 327.3 L1262.8 327.9 L1262.9 327.7 L1263.8 326.9 L1264.8 326.4 L1265.8 325.7 L1266.8 325.3 L1267.8 325.8 L1268.8 326.7 L1269.8 328.1 L1270.8 328.9 L1271.8 329.2 L1272.8 329.4 L1273.8 328.9 L1274.8 328.3 L1275.8 327.7 L1276.8 327.2 L1277.8 326.6 L1278.8 326.1 L1279.8 326.3 L1280.8 326.1 L1281.8 326.4 L1282.8 327.2 L1283.8 328 L1284.8 328.8 L1285.8 329.3 L1286.8 329.4 L1287.8 329.3 L1288.8 329.5 L1289.8 329.8 L1290.8 330 L1291.8 330.2 L1292.8 330.1 L1293.8 330.1 L1294.8 329.8 L1295.8 329.8 L1296.8 329.8 L1297.8 329.4 L1298.8 329.1 L1299.8 328.6 L1300.8 328.1 L1301.8 327.3 L1302.8 327.1 L1303.8 327.5 L1304.8 327.9 L1305.8 328.4 L1306.8 328.7 L1307.8 328 L1308.8 327.2 L1309.8 326.3 L1310.8 326 L1311.8 326.4 L1312.8 327.4 L1313.8 328.6 L1314.8 329.1 L1315.8 328.9 L1316.8 328.3 L1317.8 326.9 L1318.8 325.8 L1319.8 325 L1320.8 324 L1321.8 323.6 L1322.8 323.7 L1323.8 324.5 L1324.8 325.9 L1325.7 327.4 L1325.8 328 L1326.8 328.5 L1327.8 328.3 L1328.8 327.1 L1329.8 325.7 L1330.8 324.5 L1331.8 324.3 L1332.8 325.3 L1333.8 326.8 L1334.8 329 L1335.8 330.8 L1336.8 332.1 L1337.8 333.1 L1338.8 332.9 L1339.8 331.7 L1340.8 330.8 L1341.8 329.7 L1342.8 328.9 L1343.8 328.2 L1344.8 327.9 L1345.8 328.2 L1346.8 328.6 L1347.8 328.8 L1348.8 328.8 L1349.8 329.1 L1350.8 329.2 L1351.8 329.1 L1352.8 328.4 L1353.8 328.2 L1354.8 328.5 L1355.8 329.1 L1356.8 329.7 L1357.8 330.1 L1358.8 330.7 L1359.8 331.7 L1360.8 331.9 L1361.8 331.9 L1362.8 331.9 L1363.8 331.1 L1364.8 330.3 L1365.8 330 L1366.8 329.4 L1367.8 329.4 L1368.8 330 L1369.8 330.3 L1370.8 330.2 L1371.8 330.4 L1372.8 330.8 L1373.8 331 L1374.8 330.8 L1375.8 330.1 L1376.8 329.5 L1377.8 329.2 L1378.8 329.8 L1379.8 330.9 L1380.8 331.8 L1381.8 331.9 L1382.8 331.4 L1383.8 330 L1384.8 329 L1385.8 328.5 L1386.8 327.9 L1387.8 327.8 L1388.6 328.3 L1388.8 328.7 L1389.8 329.2 L1390.8 329.7 L1391.8 330.4 L1392.8 330.6 L1393.8 330.4 L1394.8 330.3 L1395.8 330.4 L1396.8 330.3 L1397.8 330 L1398.8 329.8 L1399.8 330.1 L1400.8 330.1 L1401.8 329.5 L1402.8 329.4 L1403.8 329 L1404.8 328.6 L1405.8 327.8 L1406.8 326.8 L1407.8 326.7 L1408.8 327.6 L1409.8 328.7 L1410.8 329.6 L1411.8 330.1 L1412.8 330.3 L1413.8 330.6 L1414.8 331.4 L1415.8 332.2 L1416.8 332.5 L1417.8 332.1 L1418.8 331.3 L1419.8 330 L1420.8 329.1 L1421.8 328.8 L1422.8 328.6 L1423.8 328.9 L1424.8 329.8 L1425.8 330.4 L1426.8 330.3 L1427.8 330.6 L1428.8 330.9 L1429.8 330.9 L1430.8 330.7 L1431.8 330.7 L1432.8 330.7 L1433.8 330.7 L1434.8 330.3 L1435.8 330.2 L1436.8 330.3 L1437.8 330.9 L1438.8 331.6 L1439.8 331.7 L1440.8 331.7 L1441.8 331.3 L1442.8 330.8 L1443.8 330.6 L1444.8 330.2 L1445.8 330.1 L1446.8 330.7 L1447.8 331.3 L1448.8 331.6 L1449.8 332 L1450.8 331.5 L1451.4 330.5 L1451.8 329.6 L1452.8 328.6 L1453.8 327.7 L1454.8 327.6 L1455.8 327.9 L1456.8 328.1 L1457.8 328 L1458.8 328.4 L1459.8 328.9 L1460.8 329.2 L1461.8 329 L1462.8 328.3 L1463.8 327.8 L1464.8 327.6 L1465.8 327.5 L1466.8 327.6 L1467.8 328.1 L1468.8 328.8 L1469.8 329.4 L1470.8 330 L1471.8 330.6 L1472.8 331.5 L1473.8 331.2 L1474.8 330 L1475.8 329.1 L1476.8 328.9 L1477.8 329.2 L1478.8 329.7 L1479.8 330.9 L1480.8 332 L1481.8 332.8 L1482.8 332.9 L1483.8 332.6 L1484.8 332.7 L1485.8 332 L1486.8 331.2 L1487.8 330.8 L1488.8 330.1 L1489.8 329.7 L1490.8 330 L1491.8 330.2 L1492.8 330 L1493.8 330.2 L1494.8 330.9 L1495.8 330.8 L1496.8 330.5 L1497.8 329.8 L1498.8 328.5 L1499.8 327.7 L1500.8 327.3 L1501.8 328.1 L1502.8 328.9 L1503.8 330 L1504.8 331 L1505.8 331.9 L1506.8 332.3 L1507.8 331.9 L1508.8 330.8 L1509.8 329.7 L1510.8 328.4 L1511.8 327.8 L1512.8 327.4 L1513.8 327.4 L1514.8 328.1 L1515.8 328.6 L1516.8 329 L1517.8 329.7 L1518.8 329.8 L1519.8 329.7 L1520.8 330.3 L1521.8 331.3 L1522 331.7"/>
<path stroke="#000" stroke-width="6.2" d="M930.8 80 L931.8 79.2 L932.5 78.6 L932.8 80.3 L933.8 86 L934.5 90 L934.8 91.6 L935.8 96.7 L936.8 101.9 L937.4 105 L937.8 103.6 L938.8 100.2 L939.8 96.8 L940.8 93.4 L941.2 92 L941.8 96.1 L942.8 103 L943.8 109.9 L944.8 116.7 L945.8 123.8 L946 125.3 L946.8 126.6 L947.8 128 L948.8 129.3 L949.8 130.8 L950.8 132.7 L951.8 134.9 L952.8 136.7 L953.6 137.5 L953.8 137.6 L954.8 139.1 L955.8 140.3 L956.8 140.6 L957.8 140.8 L958.8 141.1 L959.8 141.8"/>
<path stroke="#d40000" d="M930.8 132 L931.8 153.1 L932.6 170 L932.8 171 L933.8 176.2 L934.8 182 L935.8 187.8 L936.8 193.4 L937.8 198.4 L938.3 200.9 L938.8 202.2 L939.8 205.1 L940.8 208.1 L941.8 211.3 L942.8 214.2 L943.8 217.3 L944 217.8 L944.8 219.8 L945.8 221.6 L946.8 223.3 L947.8 225.1 L948.8 226.4 L949.8 227.4 L950.8 228.6 L951.8 230.7 L952.8 234 L953.8 237.5 L954.8 240.7 L955.5 242.6 L955.8 243.2 L956.8 244.4 L957.8 245.5 L958.8 246.1 L959.8 246.7 L960.8 246.8 L961.8 246.5 L962.8 246.2 L963.8 246.6 L964.8 247.1 L965 247.1 L965.8 249.1 L966.8 251.2 L967.8 253.3 L968.8 255 L969.8 256.1 L970.7 257.2 L970.8 257.9 L971.8 258.9 L972.8 260.2 L973.8 261.6 L974.8 262.8 L975.8 263.6 L976.8 263.8 L977.8 263.9 L978.8 263.6 L979.8 263.2 L980.8 263.7 L981.8 264.3 L982 264.6 L982.8 264.6 L983.8 265 L984.8 265.5 L985.8 266.2 L986.8 267.3 L987.8 267.9 L988.8 267.8 L989.8 267.3 L990.8 266.2 L991.7 265.1 L991.8 264.7 L992.8 264.6 L993.8 264.7 L994.8 265 L995.8 265.7 L996.8 266.3 L997.8 266.6 L998.8 267.3 L999.8 268.5 L1000.8 269.8 L1001 271 L1001.8 271.8 L1002.8 272.5 L1003.8 272.9 L1004.8 273.7 L1005.8 274.5 L1006.8 275.1 L1007.8 275.4 L1008.8 275.7 L1009.8 276.6 L1010.8 277.8 L1011.8 277.9 L1012.8 277.4 L1013.8 276.5 L1014.8 276 L1015.8 275.9 L1016.8 275.8 L1017.8 276.1 L1018.8 276.7 L1019.8 277.6 L1020 278.5 L1020.8 279.4 L1021.8 280.1 L1022.8 280.4 L1023.8 279.8 L1024.8 279.1 L1025.8 278.6 L1026.8 278.1 L1027.8 277.7 L1028.8 278.2 L1029.8 279.2 L1030.8 281.1 L1031.8 282.7 L1032.8 283.7 L1033.8 284.3 L1034.8 284.4 L1035.8 284.4 L1036.8 284.6 L1037.8 285.4 L1038.8 286.4 L1039.3 287.2 L1039.8 287.8 L1040.8 288.5 L1041.8 289 L1042.8 288.6 L1043.8 287.5 L1044.8 287 L1045.8 286.9 L1046.8 287.2 L1047.8 287.6 L1048.8 287.9 L1049.8 288.2 L1050.8 288.5 L1051.8 288.8 L1052.8 289.5 L1053.8 290.4 L1054.8 291 L1055.8 291.7 L1056.8 291.9 L1057.8 292 L1058.3 292.4 L1058.8 292.6 L1059.8 293 L1060.8 293.5 L1061.8 293.8 L1062.8 294 L1063.8 294.6 L1064.8 294.6 L1065.8 293.9 L1066.8 293.2 L1067.8 292 L1068.8 290 L1069.8 287.8 L1070.8 286.5 L1071.8 285.6 L1072.8 286.1 L1073.8 288 L1074.8 290.4 L1075.8 292.3 L1076.8 293.7 L1077.4 294.6 L1077.8 294.8 L1078.8 294.7 L1079.8 294.7 L1080.8 294.2 L1081.8 293.5 L1082.8 293.1 L1083.8 293.6 L1084.8 294.4 L1085.8 294.6 L1086.8 294.6 L1087.8 294.2 L1088.8 293.2 L1089.8 292.7 L1090.8 292.6 L1091.8 293.2 L1092.8 294.2 L1093.8 296 L1094.8 297.8 L1095.8 299.2 L1096.8 300.3 L1097.8 300.8 L1098.8 300.7 L1099.8 299.7 L1100.8 298.4 L1101.8 297.7 L1102.8 296.6 L1103.8 295.5 L1104.8 295.2 L1105.8 295.2 L1106.8 295.3 L1107.8 295.7 L1108.8 296.6 L1109.8 297.4 L1110.8 298 L1111.8 298.3 L1112.8 299.4 L1113.8 300.7 L1114.8 301.3 L1115.5 301.5 L1115.8 301.6 L1116.8 302.1 L1117.8 302.4 L1118.8 302.5 L1119.8 303 L1120.8 303.3 L1121.8 303.7 L1122.8 304.1 L1123.8 304.6 L1124.8 305 L1125.8 305.1 L1126.8 304.8 L1127.8 304.6 L1128.8 304.4 L1129.8 304 L1130.8 303.9 L1131.8 303.7 L1132.8 302.8 L1133.8 301.4 L1134.8 300.4 L1135.8 299.8 L1136.8 299.5 L1137.8 299.9 L1138.8 300.5 L1139.8 300.8 L1140.8 300.9 L1141.8 300.9 L1142.8 300.7 L1143.8 301 L1144.8 301.3 L1145.8 301.5 L1146.8 301.2 L1147.8 300.7 L1148.8 300.6 L1149.8 300.7 L1150.8 300.5 L1151.8 300.9 L1152.8 301.6 L1153.6 302.2 L1153.8 302.9 L1154.8 303.9 L1155.8 304.4 L1156.8 304.2 L1157.8 303.7 L1158.8 303.4 L1159.8 303 L1160.8 302.5 L1161.8 301.9 L1162.8 302 L1163.8 302.4 L1164.8 302.9 L1165.8 302.9 L1166.8 302.7 L1167.8 302.7 L1168.8 302.5 L1169.8 302.6 L1170.8 303.1 L1171.8 303.4 L1172.8 303.7 L1173.8 303.6 L1174.8 303.2 L1175.8 302.5 L1176.8 301.9 L1177.8 301.9 L1178.8 302.3 L1179.8 302.1 L1180.8 301.7 L1181.8 301.2 L1182.8 301 L1183.8 301.3 L1184.8 301.6 L1185.8 301.8 L1186.8 301.8 L1187.8 302.1 L1188.8 302.5 L1189.8 302.7 L1190.8 302.7 L1191.8 301.9 L1192.8 301.2 L1193.8 301 L1194.8 300.3 L1195.8 300.3 L1196.8 300.8 L1197.8 301.3 L1198.8 302.1 L1199.8 302.5 L1200 303.2 L1200.8 303.7 L1201.8 303.9 L1202.8 303.9 L1203.8 304.2 L1204.8 304.3 L1205.8 304.4 L1206.8 304.6 L1207.8 304.8 L1208.8 305.1 L1209.8 305.6 L1210.8 305.7 L1211.8 305.1 L1212.8 304.7 L1213.8 304.7 L1214.8 305.1 L1215.8 305.7 L1216.8 306.5 L1217.8 307.3 L1218.8 307.4 L1219.8 307.2 L1220.8 307 L1221.8 306.7 L1222.8 306.4 L1223.8 306.3 L1224.8 306.8 L1225.8 307.8 L1226.8 309.3 L1227.8 310.5 L1228.8 311.2 L1229.8 311.3 L1230.8 311.1 L1231.8 310.2 L1232.8 308.9 L1233.8 307.6 L1234.8 306.9 L1235.8 306.8 L1236.8 306.7 L1237.8 307 L1238.8 307.8 L1239.8 308.8 L1240.8 309.6 L1241.8 310.1 L1242.8 309.7 L1243.8 309.3 L1244.8 308.7 L1245.8 307.8 L1246.8 307.3 L1247.8 307.4 L1248.8 307.7 L1249.8 308.4 L1250.8 309.1 L1251.8 310.1 L1252.8 310.4 L1253.8 310.1 L1254.8 310.2 L1255.8 310.2 L1256.8 310.2 L1257.8 310.3 L1258.8 310.9 L1259.8 311.6 L1260.8 311.9 L1261.8 312.5 L1262.8 312.4 L1262.9 311.6 L1263.8 311.1 L1264.8 310.8 L1265.8 310.4 L1266.8 309.4 L1267.8 308.7 L1268.8 308.6 L1269.8 308.8 L1270.8 309.1 L1271.8 309.4 L1272.8 310.1 L1273.8 311.2 L1274.8 311.5 L1275.8 311.4 L1276.8 310.9 L1277.8 309.8 L1278.8 309.1 L1279.8 308.9 L1280.8 308.5 L1281.8 308.2 L1282.8 308.2 L1283.8 308.6 L1284.8 308.6 L1285.8 309.3 L1286.8 310 L1287.8 310.2 L1288.8 310.2 L1289.8 310 L1290.8 309.8 L1291.8 309.1 L1292.8 308.8 L1293.8 309.2 L1294.8 309.7 L1295.8 310 L1296.8 310.3 L1297.8 310.3 L1298.8 310.5 L1299.8 310.4 L1300.8 310.1 L1301.8 310.3 L1302.8 310.6 L1303.8 311.2 L1304.8 312.2 L1305.8 312.8 L1306.8 313 L1307.8 313.2 L1308.8 313.1 L1309.8 312.4 L1310.8 311.9 L1311.8 311.2 L1312.8 310.5 L1313.8 310.2 L1314.8 309.9 L1315.8 310.3 L1316.8 311.2 L1317.8 312.2 L1318.8 312.1 L1319.8 311.1 L1320.8 310.4 L1321.8 309.3 L1322.8 307.9 L1323.8 307.8 L1324.8 308.5 L1325.7 309.1 L1325.8 309.3 L1326.8 309.9 L1327.8 310.6 L1328.8 311 L1329.8 311.4 L1330.8 311.6 L1331.8 311.3 L1332.8 311 L1333.8 311.1 L1334.8 311.2 L1335.8 310.8 L1336.8 310.9 L1337.8 311.4 L1338.8 312 L1339.8 312.7 L1340.8 312.7 L1341.8 312 L1342.8 311.3 L1343.8 311.4 L1344.8 311.3 L1345.8 311.4 L1346.8 311.3 L1347.8 311 L1348.8 310.9 L1349.8 311.4 L1350.8 312.4 L1351.8 313.5 L1352.8 314.2 L1353.8 314.3 L1354.8 314.2 L1355.8 313.5 L1356.8 312.6 L1357.8 312.1 L1358.8 312.4 L1359.8 313.1 L1360.8 313.9 L1361.8 314.4 L1362.8 314.6 L1363.8 314.6 L1364.8 314.4 L1365.8 313.9 L1366.8 313.3 L1367.8 312.7 L1368.8 312.4 L1369.8 312 L1370.8 311.6 L1371.8 311.6 L1372.8 311.5 L1373.8 311.7 L1374.8 312 L1375.8 312.2 L1376.8 312 L1377.8 311.3 L1378.8 311.1 L1379.8 310.6 L1380.8 311.1 L1381.8 311.5 L1382.8 311.8 L1383.8 312.6 L1384.8 313 L1385.8 313.4 L1386.8 314 L1387.8 314.2 L1388.6 314.3 L1388.8 314.7 L1389.8 314.5 L1390.8 314.4 L1391.8 314.5 L1392.8 314.1 L1393.8 313.8 L1394.8 313.4 L1395.8 313 L1396.8 313 L1397.8 313.3 L1398.8 313.4 L1399.8 312.8 L1400.8 312.2 L1401.8 312.4 L1402.8 312.9 L1403.8 313.7 L1404.8 314.5 L1405.8 315.3 L1406.8 316 L1407.8 316.1 L1408.8 316 L1409.8 316 L1410.8 315.3 L1411.8 313.7 L1412.8 312.2 L1413.8 311.4 L1414.8 310.8 L1415.8 310.9 L1416.8 311.9 L1417.8 313.5 L1418.8 314.8 L1419.8 315.3 L1420.8 315.4 L1421.8 314.6 L1422.8 313.9 L1423.8 313.2 L1424.8 312.3 L1425.8 311.6 L1426.8 311.8 L1427.8 312.7 L1428.8 313.6 L1429.8 313.9 L1430.8 313.9 L1431.8 313.5 L1432.8 312.9 L1433.8 311.5 L1434.8 310.2 L1435.8 309.3 L1436.8 309.4 L1437.8 310.2 L1438.8 311.1 L1439.8 312.3 L1440.8 313 L1441.8 313.1 L1442.8 313 L1443.8 312.7 L1444.8 312.2 L1445.8 311.9 L1446.8 311.4 L1447.8 311.6 L1448.8 311.4 L1449.8 311.4 L1450.8 311.5 L1451.4 311.2 L1451.8 310.7 L1452.8 310.5 L1453.8 310.3 L1454.8 310.6 L1455.8 311 L1456.8 311.6 L1457.8 312.2 L1458.8 312.6 L1459.8 313.5 L1460.8 314.8 L1461.8 315.9 L1462.8 316.4 L1463.8 316.2 L1464.8 315.2 L1465.8 314 L1466.8 313.1 L1467.8 312.5 L1468.8 312.4 L1469.8 312.5 L1470.8 312.5 L1471.8 312.9 L1472.8 313.4 L1473.8 313.9 L1474.8 314.5 L1475.8 314.4 L1476.8 313.8 L1477.8 313.5 L1478.8 313.4 L1479.8 313.4 L1480.8 313.2 L1481.8 312.7 L1482.8 311.8 L1483.8 311.5 L1484.8 311.7 L1485.8 311.9 L1486.8 312 L1487.8 311.2 L1488.8 310.2 L1489.8 309.4 L1490.8 309.4 L1491.8 310.6 L1492.8 312.1 L1493.8 312.9 L1494.8 313.3 L1495.8 313.5 L1496.8 313.1 L1497.8 312.4 L1498.8 311.5 L1499.8 311 L1500.8 311.2 L1501.8 311.8 L1502.8 312.5 L1503.8 313.3 L1504.8 314.3 L1505.8 314.5 L1506.8 314 L1507.8 313.7 L1508.8 313.4 L1509.8 312.6 L1510.8 312.5 L1511.8 313 L1512.8 313.5 L1513.8 314.4 L1514.8 315.2 L1515.8 315.5 L1516.8 314.9 L1517.8 314.4 L1518.8 313.7 L1519.8 313.2 L1520.8 313.3 L1521.8 313.8 L1522 313.7"/>
</g>
<g font-size="50" text-anchor="end" fill="#000">
<text x="919" y="366.5">0.05</text>
<text x="919" y="283.7">0.10</text>
<text x="919" y="200.8">0.15</text>
<text x="919" y="118">0.20</text>
<text x="919" y="35.1">0.25</text>
</g>
<text x="960.23" y="96.20" font-size="50" textLength="110.01" lengthAdjust="spacingAndGlyphs">(b) N</text>
<path d="M1245.6 192.9H1361.9" stroke="#000" stroke-width="5.0"/>
<text x="1373.19" y="211.30" font-size="50" textLength="107.00" lengthAdjust="spacingAndGlyphs">ChlA</text>
<path d="M1245.6 253.1H1361.9" stroke="#d40000" stroke-width="5.0"/>
<text x="1373.15" y="271.30" font-size="50" textLength="108.69" lengthAdjust="spacingAndGlyphs">ChlB</text>
<g stroke="#000" stroke-width="2.2" fill="none" stroke-linecap="round">
<rect x="173.5" y="453.5" width="591.8" height="413.7" stroke-linejoin="round"/>
<path d="M321.4 867.2V861.2 M321.4 453.5V459.5 M469.4 867.2V861.2 M469.4 453.5V459.5 M617.3 867.2V861.2 M617.3 453.5V459.5 M173.5 784.5H179.5 M765.3 784.5H759.3 M173.5 701.7H179.5 M765.3 701.7H759.3 M173.5 619H179.5 M765.3 619H759.3 M173.5 536.2H179.5 M765.3 536.2H759.3"/>
</g>
<clipPath id="c2"><rect x="172.5" y="452.5" width="593.8" height="415.7"/></clipPath>
<g clip-path="url(#c2)" fill="none" stroke-width="5.5" stroke-linejoin="round" stroke-linecap="round">
<path stroke="#000" d="M174 738 L175 733.1 L176 728.2 L177 723.3 L178 718.5 L178.3 717 L179 722.9 L180 731.3 L181 739.6 L181.4 743 L182 745.9 L183 750.8 L184 755.7 L185 760.6 L186 765.5 L186.5 768 L187 763.8 L188 755.3 L189 746.9 L189.7 741 L190 743.5 L191 752 L192 760.4 L192.9 768 L193 768.9 L194 778.1 L195 787.3 L195.4 791 L196 794 L197 799 L198 804.2 L199 809.5 L200 814.7 L200.5 817.5 L201 818.6 L202 821 L203 823.5 L204 826.4 L205 829 L205.6 830.6 L206 831.4 L207 834.4 L208 837.8 L209 841.2 L210 844.9 L210.6 847.5 L211 848.2 L212 848.9 L213 849.2 L214 849.5 L215 850 L216 850.5 L217 851.1 L218 851 L218.3 850.5 L219 851 L220 851.9 L221 852.3 L222 852.4 L223 853.3 L224 854.1 L225 854.6 L225.9 854.8 L226 854.3 L227 854.2 L228 854.6 L229 854.6 L230 854.7 L231 855.2 L232 855.5 L233 855.6 L233.5 855.2 L234 854.6 L235 854.1 L236 853.6 L237 853 L238 853.2 L239 853.5 L240 853.6 L241 853.7 L241.1 853.4 L242 853.7 L243 853.9 L244 854.1 L245 854.1 L246 853.7 L247 854 L248 854.3 L249 854.8 L250 855.9 L251 857.8 L252 859.3 L252.5 859.8 L253 860.1 L254 860 L255 859.1 L256 858.2 L257 857.5 L258 856.5 L259 855.8 L260 856.1 L261 856.8 L262 857.7 L262.7 858.6 L263 858.9 L264 859.3 L265 859.2 L266 858.9 L267 859.1 L268 860.1 L269 861 L270 861.6 L271 861.6 L272 861.5 L273 861.4 L274 861.4 L275 861.8 L276 862.4 L277 862.8 L278 862.9 L279 862.6 L280 862.1 L281 861.6 L282 861 L283 861 L284 861.2 L285 861.7 L286 862.2 L287 862.6 L288 863 L289 863 L290 862.7 L291 862.7 L292 862.6 L293 862.3 L294 862.3 L295 862 L296 861.8 L297 861.9 L298 861.7 L299 861.7 L300 862 L301 862 L302 861.8 L303 861.8 L304 861.9 L305 862.1 L306 862.2 L307 862.2 L308 862.3 L309 862.6 L310 862.7 L311 862.5 L312 862.4 L313 862.4 L314 862.4 L315 862.4 L316 862.5 L317 862.8 L318 863.1 L319 863.2 L320 863 L321 862.9 L322 862.6 L323 862.3 L324 862.1 L325 862 L326 862.3 L327 862.5 L328 862.6 L329 862.5 L330 862.1 L331 862 L332 861.8 L333 861.5 L334 861.3 L335 861.5 L336 861.9 L337 862.3 L338 862.4 L339 862.4 L340 862.4 L341 862.5 L342 862.6 L343 862.5 L344 862.4 L345 862.2 L346 862.1 L347 862 L348 862.1 L349 862.3 L350 862.6 L351 862.8 L352 863 L353 863.1 L354 863 L355 862.9 L356 862.7 L357 862.6 L358 862.6 L359 862.4 L360 862.3 L361 862.4 L362 862.5 L363 862.5 L364 862.2 L365 861.9 L366 861.8 L367 861.9 L368 862.1 L369 862.1 L370 862.2 L371 862.6 L372 862.9 L373 862.9 L374 862.8 L375 862.9 L376 862.8 L377 862.7 L378 862.5 L379 862.3 L380 862.3 L381 862.4 L382 862.4 L383 862.7 L384 862.8 L385 862.7 L386 862.5 L387 862.4 L388 862.3 L389 862.2 L390 862 L391 861.8 L392 861.7 L393 861.6 L394 861.9 L395 862.1 L396 862.2 L397 862.3 L398 862.4 L399 862.5 L400 862.6 L401 862.7 L402 862.7 L403 862.7 L404 862.5 L405 862.6 L406 862.7 L407 862.9 L408 862.9 L409 862.8 L410 862.8 L411 862.6 L412 862.4 L413 862.5 L414 862.8 L415 862.9 L416 863.1 L417 863.2 L418 863.1 L419 863.1 L420 862.9 L421 862.6 L422 862.3 L423 862.3 L424 862.3 L425 862.5 L426 862.9 L427 863.3 L428 863.3 L429 863.3 L430 863.2 L431 863 L432 862.8 L433 862.9 L434 863 L435 862.9 L436 862.9 L437 863 L438 863 L439 863 L440 863 L441 862.9 L442 862.7 L443 862.5 L444 862.3 L445 862 L446 861.8 L447 861.8 L448 862.1 L449 862.3 L450 862.5 L451 862.6 L452 862.9 L453 863 L454 862.9 L455 862.7 L456 862.4 L457 862.4 L458 862.4 L459 862.4 L460 862.4 L461 862.3 L462 862.4 L463 862.6 L464 862.9 L465 862.9 L466 863 L467 863.1 L468 863.1 L469 863 L470 863 L471 863 L472 863 L473 863 L474 862.8 L475 862.5 L476 862.4 L477 862.3 L478 862.3 L479 862.4 L480 862.7 L481 862.9 L482 863.1 L483 863.3 L484 863.3 L485 863.2 L486 863.1 L487 863.1 L488 863 L489 863 L490 863.1 L491 863 L492 863 L493 862.9 L494 863 L495 863.3 L496 863.3 L497 863.1 L498 862.8 L499 862.5 L500 862.4 L501 862.3 L502 862.4 L503 862.5 L504 862.6 L505 862.6 L506 862.6 L507 862.6 L508 862.5 L509 862.5 L510 862.4 L511 862.2 L512 862.2 L513 862.3 L514 862.7 L515 863.1 L516 863.2 L517 863.2 L518 863 L519 863 L520 863 L521 862.9 L522 863 L523 863.1 L524 863.3 L525 863.5 L526 863.5 L527 863.4 L528 863.3 L529 863 L530 862.8 L531 862.7 L532 862.7 L533 863 L534 863.2 L535 863.3 L536 863.5 L537 863.8 L538 863.9 L539 863.9 L540 863.6 L541 863.2 L542 862.8 L543 862.3 L544 862 L545 862 L546 862.1 L547 862.3 L548 862.7 L549 863 L550 863.1 L551 863.2 L552 863.3 L553 863.2 L554 863.1 L555 862.9 L556 862.8 L557 862.5 L558 862.5 L559 863 L560 863.3 L561 863.2 L562 863 L563 862.5 L564 862.2 L565 862.1 L566 862.1 L567 862 L568 862.3 L569 862.7 L570 862.8 L571 863.1 L572 863.2 L573 863.2 L574 863.2 L575 863.2 L576 863 L577 862.8 L578 862.6 L579 862.7 L580 862.7 L581 862.7 L582 862.7 L583 862.7 L584 862.6 L585 862.5 L586 862.5 L587 862.4 L588 862.3 L589 862.5 L590 862.9 L591 862.9 L592 862.5 L593 862.4 L594 862.7 L595 862.7 L596 862.4 L597 862.3 L598 862.3 L599 862.5 L600 862.6 L601 862.7 L602 863.1 L603 863.2 L604 863 L605 862.7 L606 862.5 L607 862.6 L608 862.6 L609 862.5 L610 862.5 L611 862.5 L612 862.8 L613 863.1 L614 863.2 L615 863.3 L616 863.4 L617 863.5 L618 863.5 L619 863.6 L620 863.6 L621 863.5 L622 863.1 L623 862.8 L624 862.8 L625 862.9 L626 863.2 L627 863.4 L628 863.4 L629 863.3 L630 863 L631 862.8 L632 862.4 L633 862.2 L634 862.3 L635 862.4 L636 862.5 L637 862.6 L638 862.8 L639 863.1 L640 863 L641 862.7 L642 862.3 L643 862.2 L644 862.2 L645 862.3 L646 862.5 L647 862.6 L648 862.6 L649 862.5 L650 862.4 L651 862.4 L652 862.3 L653 862.2 L654 862.3 L655 862.5 L656 862.8 L657 863 L658 863.1 L659 863.1 L660 863.1 L661 863.1 L662 863.1 L663 862.8 L664 862.3 L665 862.1 L666 862.1 L667 862.3 L668 862.4 L669 862.6 L670 862.7 L671 862.6 L672 862.7 L673 862.6 L674 862.6 L675 862.5 L676 862.5 L677 862.6 L678 862.6 L679 862.7 L680 862.9 L681 862.9 L682 863.1 L683 863 L684 862.7 L685 862.5 L686 862.5 L687 862.7 L688 862.8 L689 862.8 L690 863 L691 863 L692 863 L693 863.1 L694 863.2 L695 863.4 L696 863.5 L697 863.6 L698 863.3 L699 863.2 L700 863.3 L701 863.2 L702 863.2 L703 863.2 L704 863.3 L705 863.1 L706 862.9 L707 862.8 L708 862.8 L709 862.8 L710 862.9 L711 862.9 L712 862.8 L713 863.1 L714 863.3 L715 863.4 L716 863.4 L717 863.4 L718 863.3 L719 863.1 L720 862.9 L721 862.9 L722 863 L723 863.1 L724 863.4 L725 863.8 L726 864 L727 864.2 L728 864.1 L729 863.9 L730 863.6 L731 863.2 L732 862.9 L733 863 L734 863.2 L735 863.4 L736 863.6 L737 863.5 L738 863.6 L739 863.7 L740 863.5 L741 863.4 L742 863.1 L743 862.8 L744 862.7 L745 862.8 L746 863 L747 863.1 L748 863.1 L749 863.1 L750 863 L751 862.8 L752 862.7 L753 862.6 L754 862.6 L755 862.9 L756 863.2 L757 863.5 L758 863.8 L759 863.7 L760 863.5 L761 863.1 L762 862.6 L763 862 L764 861.6 L765 861.4"/>
<path stroke="#000" stroke-width="6.6" d="M174 738 L175 733.1 L176 728.2 L177 723.3 L178 718.5 L178.3 717 L179 722.9 L180 731.3 L181 739.6 L181.4 743 L182 745.9 L183 750.8 L184 755.7 L185 760.6 L186 765.5 L186.5 768 L187 763.8 L188 755.3 L189 746.9 L189.7 741 L190 743.5 L191 752 L192 760.4 L192.9 768 L193 768.9 L194 778.1 L195 787.3 L195.4 791 L196 794 L197 799 L198 804.2 L199 809.5 L200 814.7 L200.5 817.5 L201 818.6 L202 821 L203 823.5 L204 826.4 L205 829 L205.6 830.6 L206 831.4 L207 834.4 L208 837.8 L209 841.2 L210 844.9 L210.6 847.5 L211 848.2 L212 848.9 L213 849.2 L214 849.5 L215 850 L216 850.5 L217 851.1 L218 851 L218.3 850.5 L219 851 L220 851.9 L221 852.3 L222 852.4 L223 853.3 L224 854.1 L225 854.6 L225.9 854.8 L226 854.3 L227 854.2 L228 854.6 L229 854.6 L230 854.7 L231 855.2 L232 855.5 L233 855.6 L233.5 855.2 L234 854.6 L235 854.1"/>
<path stroke="#d40000" d="M174.2 830 L175.2 774.7 L175.7 747 L176.2 752.8 L177.2 764.4 L177.6 769 L178.2 781 L179.2 801 L179.5 807 L180.2 800.7 L181.2 791.8 L181.4 790 L182.2 793.1 L183.2 796.9 L184 800 L184.2 801.1 L185.2 806.3 L186.2 811.6 L187.2 816.8 L187.8 820 L188.2 817.7 L189.2 811.9 L190.2 806.1 L191.2 800.3 L191.6 798 L192.2 803.4 L193.2 812.3 L194.2 821.3 L195.2 830.2 L195.4 832 L196.2 833 L197.2 834.3 L198.2 835.6 L199.2 836.8 L200.2 838.1 L201.2 839.4 L201.7 840 L202.2 841.5 L203.2 844.4 L204.2 847.4 L205.2 850.3 L206.2 853.2 L206.8 855 L207.2 855.4 L208.2 856.5 L209.2 857.5 L210.2 858.6 L210.6 859 L211.2 856.8 L212.2 853.1 L213.2 849.4 L214.2 845.7 L214.4 845 L215.2 848.1 L216.2 851.9 L217.2 855.8 L218.2 859.6 L218.3 860 L219.2 860.7 L220.2 861.5 L221.2 862.3 L222.2 863.1 L223.2 863.9 L223.3 864 L224.2 864.1 L225.2 864.2 L226.2 864.2 L227.2 864.3 L228.2 864.4 L229.2 864.5 L230.2 864.7 L231.2 864.7 L232.2 864.9 L233.2 865.1 L234.2 865.2 L235 865.2 L235.2 865.1 L236.2 864.9 L237.2 865.1 L238.2 865.2 L239.2 865.5 L240.2 865.8 L241.2 865.8 L242.2 865.7 L243.2 865.4 L244.2 864.9 L245.2 864.4 L246.2 864.2 L247.2 864.5 L248.2 864.9 L249.2 865.3 L250.2 866 L251.2 866.1 L252.2 866.2 L253.2 866.1 L254.2 865.6 L255.2 865.2 L256.2 865.2 L257.2 865.2 L258.2 864.7 L259.2 864.4 L260.2 864.7 L261.2 865.1 L262.2 865.5 L263.2 865.6 L264.2 865.6 L265.2 865.6 L266.2 865.5 L267.2 865.2 L268.2 864.7 L269.2 864.4 L270.2 864.5 L271.2 864.7 L272.2 864.8 L273.2 864.9 L274.2 865.1 L275.2 865.3 L276.2 865.3 L277.2 865.3 L278.2 865.5 L279.2 865.5 L280.2 865.3 L281.2 865.3 L282.2 865.2 L283.2 865.2 L284.2 865.3 L285.2 865.3 L286.2 865.5 L287.2 865.6 L288.2 865.7 L289.2 865.8 L290.2 865.8 L291.2 865.7 L292.2 865.8 L293.2 865.9 L294.2 865.8 L295.2 865.7 L296.2 865.9 L297.2 865.8 L298.2 865.7 L299.2 865.6 L300.2 865.1 L301.2 864.7 L302.2 864.5 L303.2 864.3 L304.2 864.4 L305.2 864.7 L306.2 864.8 L307.2 865 L308.2 865.2 L309.2 865.2 L310.2 865.1 L311.2 865 L312.2 865 L313.2 864.9 L314.2 865 L315.2 865.1 L316.2 865.1 L317.2 865.1 L318.2 865.2 L319.2 865.5 L320.2 865.6 L321.2 865.4 L322.2 865.1 L323.2 864.9 L324.2 865 L325.2 865.3 L326.2 865.4 L327.2 865.4 L328.2 865.3 L329.2 864.9 L330.2 864.5 L331.2 864.3 L332.2 864.4 L333.2 864.5 L334.2 864.7 L335.2 864.9 L336.2 864.9 L337.2 864.7 L338.2 864.8 L339.2 864.8 L340.2 864.7 L341.2 864.8 L342.2 864.9 L343.2 864.8 L344.2 864.8 L345.2 864.9 L346.2 864.9 L347.2 864.8 L348.2 864.7 L349.2 864.7 L350.2 864.9 L351.2 865.2 L352.2 865.5 L353.2 865.5 L354.2 865.5 L355.2 865.4 L356.2 865.2 L357.2 864.9 L358.2 864.8 L359.2 864.7 L360.2 864.9 L361.2 864.9 L362.2 864.8 L363.2 864.9 L364.2 864.9 L365.2 864.7 L366.2 864.4 L367.2 864.3 L368.2 864.6 L369.2 864.9 L370.2 864.8 L371.2 864.8 L372.2 864.8 L373.2 865.1 L374.2 865.3 L375.2 865.4 L376.2 865.3 L377.2 865.1 L378.2 864.9 L379.2 865 L380.2 864.9 L381.2 864.7 L382.2 864.9 L383.2 865.1 L384.2 865.2 L385.2 865.2 L386.2 865 L387.2 864.7 L388.2 864.7 L389.2 864.7 L390.2 864.7 L391.2 864.7 L392.2 864.7 L393.2 865.1 L394.2 865.5 L395.2 865.9 L396.2 866.1 L397.2 866.2 L398.2 866 L399.2 865.7 L400.2 865.3 L401.2 865.1 L402.2 864.9 L403.2 865 L404.2 865.1 L405.2 865.2 L406.2 865.4 L407.2 865.5 L408.2 865.7 L409.2 865.9 L410.2 865.7 L411.2 865.6 L412.2 865.3 L413.2 865 L414.2 864.7 L415.2 864.4 L416.2 864.2 L417.2 864 L418.2 863.9 L419.2 864 L420.2 864.1 L421.2 864.2 L422.2 864.3 L423.2 864.5 L424.2 864.8 L425.2 865.1 L426.2 865.2 L427.2 865.3 L428.2 865.4 L429.2 865.6 L430.2 865.3 L431.2 864.9 L432.2 864.9 L433.2 865 L434.2 864.9 L435.2 864.8 L436.2 864.8 L437.2 864.7 L438.2 864.7 L439.2 864.6 L440.2 864.6 L441.2 864.9 L442.2 865 L443.2 865.3 L444.2 865.3 L445.2 865.1 L446.2 865 L447.2 865 L448.2 865 L449.2 865.1 L450.2 865.2 L451.2 865.3 L452.2 865.3 L453.2 865.2 L454.2 865.1 L455.2 865.1 L456.2 865.2 L457.2 865 L458.2 864.8 L459.2 864.6 L460.2 864.7 L461.2 865 L462.2 865.3 L463.2 865.4 L464.2 865.5 L465.2 865.5 L466.2 865.5 L467.2 865.5 L468.2 865.3 L469.2 865.2 L470.2 865.2 L471.2 865.3 L472.2 865.2 L473.2 865.1 L474.2 865.1 L475.2 865 L476.2 864.7 L477.2 864.4 L478.2 864.3 L479.2 864.5 L480.2 864.8 L481.2 865.2 L482.2 865.4 L483.2 865.6 L484.2 865.7 L485.2 865.8 L486.2 865.7 L487.2 865.3 L488.2 865 L489.2 864.9 L490.2 864.9 L491.2 864.8 L492.2 864.9 L493.2 864.8 L494.2 864.6 L495.2 864.6 L496.2 864.5 L497.2 864.5 L498.2 864.8 L499.2 864.9 L500.2 864.8 L501.2 864.8 L502.2 865 L503.2 865.1 L504.2 865.1 L505.2 864.9 L506.2 864.7 L507.2 864.7 L508.2 864.6 L509.2 864.5 L510.2 864.4 L511.2 864.3 L512.2 864.4 L513.2 864.5 L514.2 864.8 L515.2 865.1 L516.2 865.1 L517.2 865.1 L518.2 865 L519.2 864.8 L520.2 864.7 L521.2 864.7 L522.2 864.7 L523.2 864.8 L524.2 864.9 L525.2 865 L526.2 865.1 L527.2 865.1 L528.2 865 L529.2 865.1 L530.2 865.3 L531.2 865.3 L532.2 865.1 L533.2 864.9 L534.2 865 L535.2 865 L536.2 864.9 L537.2 864.8 L538.2 864.9 L539.2 864.9 L540.2 864.9 L541.2 864.8 L542.2 864.8 L543.2 864.9 L544.2 864.9 L545.2 864.7 L546.2 864.7 L547.2 864.9 L548.2 865 L549.2 865 L550.2 865 L551.2 865.1 L552.2 865.2 L553.2 865.3 L554.2 865.2 L555.2 865 L556.2 865 L557.2 865 L558.2 865.3 L559.2 865.7 L560.2 865.9 L561.2 865.8 L562.2 865.6 L563.2 865.5 L564.2 865.3 L565.2 864.9 L566.2 864.9 L567.2 864.9 L568.2 864.9 L569.2 864.7 L570.2 864.6 L571.2 864.4 L572.2 864.3 L573.2 864.5 L574.2 864.6 L575.2 864.5 L576.2 864.3 L577.2 864.2 L578.2 864.4 L579.2 864.7 L580.2 865 L581.2 865.4 L582.2 865.6 L583.2 865.8 L584.2 865.8 L585.2 865.9 L586.2 865.8 L587.2 865.7 L588.2 865.5 L589.2 865.6 L590.2 865.8 L591.2 865.9 L592.2 865.9 L593.2 865.8 L594.2 865.5 L595.2 865.2 L596.2 864.9 L597.2 864.7 L598.2 864.7 L599.2 864.9 L600.2 865.2 L601.2 865.4 L602.2 865.7 L603.2 865.8 L604.2 865.8 L605.2 865.5 L606.2 865.2 L607.2 865 L608.2 864.9 L609.2 864.9 L610.2 865.2 L611.2 865.3 L612.2 865.4 L613.2 865.4 L614.2 865.3 L615.2 865.4 L616.2 865.4 L617.2 865.4 L618.2 865.3 L619.2 865.3 L620.2 865.3 L621.2 865.1 L622.2 865.1 L623.2 865.4 L624.2 865.6 L625.2 865.8 L626.2 865.6 L627.2 865.2 L628.2 865 L629.2 864.6 L630.2 864.2 L631.2 863.9 L632.2 863.8 L633.2 864.1 L634.2 864.4 L635.2 864.8 L636.2 865.4 L637.2 866 L638.2 866.4 L639.2 866.3 L640.2 866.2 L641.2 866.1 L642.2 865.9 L643.2 865.7 L644.2 865.5 L645.2 865.5 L646.2 865.5 L647.2 865.6 L648.2 865.8 L649.2 865.7 L650.2 865.5 L651.2 865.3 L652.2 865.3 L653.2 865.4 L654.2 865.4 L655.2 865.5 L656.2 865.6 L657.2 865.7 L658.2 865.7 L659.2 865.9 L660.2 865.9 L661.2 865.6 L662.2 865.2 L663.2 864.9 L664.2 865.1 L665.2 865.1 L666.2 865.2 L667.2 865.2 L668.2 865.1 L669.2 865.1 L670.2 865 L671.2 865 L672.2 865.1 L673.2 865.2 L674.2 865.4 L675.2 865.4 L676.2 865.5 L677.2 865.4 L678.2 865.3 L679.2 865.5 L680.2 865.4 L681.2 865.3 L682.2 865.3 L683.2 865.4 L684.2 865.5 L685.2 865.4 L686.2 865.3 L687.2 865 L688.2 865 L689.2 865.2 L690.2 865.5 L691.2 865.7 L692.2 865.5 L693.2 865.3 L694.2 865.4 L695.2 865.2 L696.2 865 L697.2 864.9 L698.2 865 L699.2 865.1 L700.2 865.3 L701.2 865.3 L702.2 865.1 L703.2 865 L704.2 864.9 L705.2 864.9 L706.2 864.9 L707.2 865 L708.2 865.2 L709.2 865.1 L710.2 865.1 L711.2 865.2 L712.2 865.3 L713.2 865.3 L714.2 865.2 L715.2 865.1 L716.2 865.2 L717.2 865.4 L718.2 865.5 L719.2 865.5 L720.2 865.4 L721.2 865.4 L722.2 865.5 L723.2 865.4 L724.2 865.5 L725.2 865.7 L726.2 866 L727.2 865.9 L728.2 865.8 L729.2 865.7 L730.2 865.5 L731.2 865.3 L732.2 865 L733.2 864.7 L734.2 864.6 L735.2 864.7 L736.2 864.8 L737.2 865.1 L738.2 865.2 L739.2 865.1 L740.2 865 L741.2 864.9 L742.2 864.9 L743.2 865.1 L744.2 865 L745.2 865 L746.2 865 L747.2 865.2 L748.2 865.2 L749.2 865.2 L750.2 865.3 L751.2 865.1 L752.2 865 L753.2 864.8 L754.2 864.8 L755.2 864.5 L756.2 864.6 L757.2 864.9 L758.2 865.1 L759.2 865.2 L760.2 865.2 L761.2 865.1 L762.2 865 L763.2 864.8 L764.2 864.6 L765 864.5"/>
<path stroke="#d40000" stroke-width="6.6" d="M174.2 830 L175.2 774.7 L175.7 747 L176.2 752.8 L177.2 764.4 L177.6 769 L178.2 781 L179.2 801 L179.5 807 L180.2 800.7 L181.2 791.8 L181.4 790 L182.2 793.1 L183.2 796.9 L184 800 L184.2 801.1 L185.2 806.3 L186.2 811.6 L187.2 816.8 L187.8 820 L188.2 817.7 L189.2 811.9 L190.2 806.1 L191.2 800.3 L191.6 798 L192.2 803.4 L193.2 812.3 L194.2 821.3 L195.2 830.2 L195.4 832 L196.2 833 L197.2 834.3 L198.2 835.6 L199.2 836.8 L200.2 838.1 L201.2 839.4 L201.7 840 L202.2 841.5 L203.2 844.4 L204.2 847.4 L205.2 850.3 L206.2 853.2 L206.8 855 L207.2 855.4 L208.2 856.5 L209.2 857.5 L210.2 858.6 L210.6 859 L211.2 856.8 L212.2 853.1 L213.2 849.4 L214.2 845.7 L214.4 845 L215.2 848.1 L216.2 851.9 L217.2 855.8 L218.2 859.6 L218.3 860 L219.2 860.7 L220.2 861.5 L221.2 862.3 L222.2 863.1 L223.2 863.9 L223.3 864 L224.2 864.1 L225.2 864.2 L226.2 864.2 L227.2 864.3 L228.2 864.4 L229.2 864.5"/>
</g>
<g font-size="50" text-anchor="end" fill="#000">
<text x="162" y="803.9">0.05</text>
<text x="162" y="721.1">0.10</text>
<text x="162" y="638.4">0.15</text>
<text x="162" y="555.6">0.20</text>
<text x="162" y="472.9">0.25</text>
</g>
<text x="203.35" y="531.70" font-size="50" textLength="164.01" lengthAdjust="spacingAndGlyphs">(c) O13</text>
<text x="365.10" y="555.80" font-size="36" textLength="20.02" lengthAdjust="spacingAndGlyphs">1</text>
<path d="M488.6 629.9H604.9" stroke="#000" stroke-width="5.0"/>
<text x="616.19" y="648.30" font-size="50" textLength="107.00" lengthAdjust="spacingAndGlyphs">ChlA</text>
<path d="M488.6 690.6H604.9" stroke="#d40000" stroke-width="5.0"/>
<text x="616.15" y="708.80" font-size="50" textLength="108.69" lengthAdjust="spacingAndGlyphs">ChlB</text>
<g stroke="#000" stroke-width="2.2" fill="none" stroke-linecap="round">
<rect x="930.5" y="453.5" width="591.7" height="413.7" stroke-linejoin="round"/>
<path d="M1078.4 867.2V861.2 M1078.4 453.5V459.5 M1226.3 867.2V861.2 M1226.3 453.5V459.5 M1374.3 867.2V861.2 M1374.3 453.5V459.5 M930.5 784.5H936.5 M1522.2 784.5H1516.2 M930.5 701.7H936.5 M1522.2 701.7H1516.2 M930.5 619H936.5 M1522.2 619H1516.2 M930.5 536.2H936.5 M1522.2 536.2H1516.2"/>
</g>
<clipPath id="c3"><rect x="929.5" y="452.5" width="593.7" height="415.7"/></clipPath>
<g clip-path="url(#c3)" fill="none" stroke-width="5.5" stroke-linejoin="round" stroke-linecap="round">
<path stroke="#d40000" d="M931.3 826 L932.3 761.4 L932.6 742 L933.3 701.8 L934.2 650 L934.3 647.3 L935.3 620.4 L935.8 607 L936.3 617.5 L937.3 638.6 L937.7 647 L938.3 648.9 L939.3 652.1 L939.6 653 L940.3 641 L941.3 623.8 L942.1 610 L942.3 610.7 L943.3 614.5 L944.3 618.2 L945.3 622 L946.3 652 L946.5 658 L947.3 652 L948.3 644.5 L948.5 643 L949.3 656.9 L950.3 674.3 L950.4 676 L951.3 671.5 L952.3 666.5 L953.3 661.5 L954.2 657 L954.3 658.7 L955.3 675.6 L955.5 679 L956.3 685.1 L957.3 692.7 L958.3 700.4 L959.3 708 L960.3 710.4 L961.3 712.7 L962.3 715.1 L963.1 717 L963.3 720.5 L964.3 738.2 L964.4 740 L965.3 739.7 L966.3 739.5 L967.3 739.2 L968.3 738.9 L969.3 738.6 L969.4 738.6 L970.3 744.7 L971.3 751.5 L972.3 758.2 L973.3 765 L974.3 758.6 L975.3 752.2 L975.8 749 L976.3 752.1 L977.3 758.3 L978.3 764.4 L979.3 770.6 L980.3 776.8 L980.9 780.5 L981.3 781.7 L982.3 784.7 L983.3 787.7 L984.3 790.6 L985.3 793.6 L986 795.7 L986.3 796.9 L987.3 801 L988.3 805 L989.3 809.1 L990.3 813.2 L991 816 L991.3 817.3 L992.3 821.5 L993.3 825.7 L994.3 830 L995.3 834.2 L996.1 837.6 L996.3 837.3 L997.3 836 L998.3 834.7 L999.3 833.3 L1000.3 832 L1001.3 830.7 L1001.8 830.1 L1002.3 831.2 L1003.3 833.2 L1004.3 835.2 L1005.3 837 L1006.3 838.7 L1007.3 840.7 L1008.3 843 L1008.8 843.8 L1009.3 844.1 L1010.3 845.5 L1011.3 846.9 L1012.3 848 L1013.3 849.2 L1014.3 850.3 L1015.3 851.2 L1016.3 851.5 L1016.4 851.1 L1017.3 850.4 L1018.3 849.8 L1019.3 849.1 L1020.3 848.7 L1021.3 848.5 L1022.3 848.1 L1023.3 847.9 L1024 848.5 L1024.3 849.2 L1025.3 849.9 L1026.3 850.5 L1027.3 851.4 L1028.3 852.3 L1029.3 853.2 L1030.3 854.6 L1031.3 856 L1032.3 857.4 L1033 858.1 L1033.3 858.6 L1034.3 858.7 L1035.3 858.7 L1036.3 858.7 L1037.3 858.1 L1038.3 857.3 L1039.3 856.9 L1040.3 856.9 L1041.3 857.3 L1042.3 858 L1043.3 859 L1044.3 859.5 L1045.3 859.6 L1046.3 859.6 L1047.3 859.5 L1048.3 859.3 L1049.3 859 L1050.3 858.5 L1051.3 858.8 L1052.3 859.7 L1053.3 860.2 L1054.3 860.4 L1055.3 860.2 L1056.3 860.1 L1057.3 860.1 L1058.3 860 L1059.3 860 L1060.3 860 L1061.3 860.2 L1062.3 860.5 L1063.3 860.9 L1064.3 861.8 L1064.7 862.2 L1065.3 862.3 L1066.3 862.4 L1067.3 862.3 L1068.3 861.9 L1069.3 861.4 L1070.3 861.5 L1071.3 861.4 L1072.3 860.8 L1073.3 860.2 L1074.3 860.3 L1075.3 860 L1076.3 859.6 L1077.3 859.4 L1077.4 859.2 L1078.3 859.1 L1079.3 859.5 L1080.3 859.8 L1081.3 859.7 L1082.3 859.7 L1083.3 860.2 L1084.3 861.3 L1085.3 861.8 L1086.3 862 L1087.3 862.7 L1088.3 863.3 L1089.3 863.3 L1090 863.4 L1090.3 863.5 L1091.3 863.3 L1092.3 863.1 L1093.3 863 L1094.3 862.6 L1095.3 862.7 L1096.3 862.5 L1097.3 862.1 L1098.3 861.4 L1099.3 860.9 L1100.3 860.3 L1101.3 859.7 L1102.3 859.4 L1102.8 859.3 L1103.3 859.4 L1104.3 860.2 L1105.3 861 L1106.3 862.1 L1107.3 863.1 L1108.3 863.6 L1109.3 863.6 L1110.3 863.9 L1111.3 864.2 L1112.3 863.5 L1113.3 863 L1114.3 863.1 L1115.3 863.4 L1115.5 863.4 L1116.3 862.9 L1117.3 862.8 L1118.3 862.8 L1119.3 863.1 L1120.3 862.9 L1121.3 863.1 L1122.3 863.5 L1123.3 863.3 L1124.3 862.9 L1125.3 862.7 L1126.3 862.6 L1127.3 862.4 L1128.3 862.5 L1129.3 863 L1130.3 863.4 L1131.3 863.8 L1132.3 863.9 L1133.3 863.1 L1134.3 862.4 L1135.3 862.1 L1136.3 862.2 L1137.3 862.4 L1138.3 862.8 L1139.3 863.4 L1140 863.6 L1140.3 863.3 L1141.3 863.3 L1142.3 863.4 L1143.3 863.6 L1144.3 863.6 L1145.3 863.4 L1146.3 863.5 L1147.3 864 L1148.3 864.4 L1149.3 864.4 L1150.3 864.5 L1151.3 864.7 L1152.3 864.6 L1153.3 864.5 L1154.3 864.3 L1155.3 864.2 L1156.3 864.4 L1157.3 864.3 L1158.3 864 L1159.3 863.8 L1160.3 863.6 L1161.3 863.6 L1162.3 863.9 L1163.3 864.2 L1164.3 864.4 L1165.3 864.6 L1166.3 864.5 L1167.3 864.5 L1168.3 864.5 L1169.3 864.4 L1170.3 864.2 L1171.3 864.1 L1172.3 864.1 L1173.3 864.2 L1174.3 863.9 L1175.3 863.8 L1176.3 863.9 L1177.3 863.9 L1178.3 864.1 L1179.3 864.1 L1180.3 863.9 L1181.3 863.7 L1182.3 863.9 L1183.3 864.1 L1184.3 864.2 L1185.3 864.3 L1186.3 864.4 L1187.3 864.5 L1188.3 864.7 L1189.3 864.8 L1190.3 864.7 L1191.3 864.6 L1192.3 864.4 L1193.3 864.5 L1194.3 864.6 L1195.3 864.5 L1196.3 864.4 L1197.3 864.4 L1198.3 864.5 L1199.3 864.4 L1200.3 864.1 L1201.3 864 L1202.3 863.9 L1203.3 863.6 L1204.3 863.4 L1205.3 863.5 L1206.3 863.8 L1207.3 863.9 L1208.3 864.3 L1209.3 864.8 L1210.3 865 L1211.3 865.1 L1212.3 865.1 L1213.3 864.9 L1214.3 864.5 L1215.3 864.1 L1216.3 863.8 L1217.3 863.8 L1218.3 863.7 L1219.3 863.6 L1220.3 863.5 L1221.3 863.5 L1222.3 863.6 L1223.3 863.7 L1224.3 863.9 L1225.3 863.9 L1226.3 864 L1227.3 864.1 L1228.3 864.2 L1229.3 864 L1230.3 863.9 L1231.3 863.8 L1232.3 863.9 L1233.3 864.1 L1234.3 864 L1235.3 864 L1236.3 864.1 L1237.3 864.1 L1238.3 864.3 L1239.3 864.6 L1240.3 864.8 L1241.3 865 L1242.3 865 L1243.3 864.8 L1244.3 864.4 L1245.3 864.1 L1246.3 864.1 L1247.3 864.5 L1248.3 864.6 L1249.3 864.4 L1250.3 864.3 L1251.3 864.4 L1252.3 864.5 L1253.3 864.6 L1254.3 864.5 L1255.3 864.5 L1256.3 864.5 L1257.3 864.4 L1258.3 864.2 L1259.3 864.1 L1260.3 864 L1261.3 863.9 L1262.3 863.9 L1263.3 863.8 L1264.3 863.8 L1265.3 863.9 L1266.3 863.9 L1267.3 864.3 L1268.3 864.6 L1269.3 864.7 L1270.3 864.6 L1271.3 864.5 L1272.3 864.4 L1273.3 864.5 L1274.3 864.7 L1275.3 864.7 L1276.3 864.7 L1277.3 864.6 L1278.3 864.5 L1279.3 864.6 L1280.3 864.6 L1281.3 864.5 L1282.3 864.5 L1283.3 864.5 L1284.3 864.6 L1285.3 864.6 L1286.3 864.5 L1287.3 864.4 L1288.3 864.6 L1289.3 864.6 L1290.3 864.6 L1291.3 864.4 L1292.3 864.3 L1293.3 864.2 L1294.3 864.2 L1295.3 863.8 L1296.3 863.5 L1297.3 863.5 L1298.3 863.5 L1299.3 863.6 L1300.3 863.8 L1301.3 864.1 L1302.3 864.1 L1303.3 863.8 L1304.3 863.5 L1305.3 863.5 L1306.3 863.5 L1307.3 863.4 L1308.3 863.5 L1309.3 863.6 L1310.3 863.8 L1311.3 863.8 L1312.3 863.9 L1313.3 864.1 L1314.3 864.2 L1315.3 864 L1316.3 863.9 L1317.3 863.9 L1318.3 864.1 L1319.3 864.6 L1320.3 865 L1321.3 865.1 L1322.3 865 L1323.3 864.8 L1324.3 864.7 L1325.3 864.4 L1326.3 864.5 L1327.3 864.7 L1328.3 864.6 L1329.3 864.5 L1330.3 864.3 L1331.3 864.3 L1332.3 864.4 L1333.3 864.5 L1334.3 864.3 L1335.3 864.1 L1336.3 864 L1337.3 864 L1338.3 864 L1339.3 864 L1340.3 863.9 L1341.3 863.9 L1342.3 863.9 L1343.3 864 L1344.3 864.1 L1345.3 864.2 L1346.3 864.1 L1347.3 863.9 L1348.3 863.7 L1349.3 863.4 L1350.3 863.5 L1351.3 863.8 L1352.3 864.1 L1353.3 864.3 L1354.3 864.6 L1355.3 864.6 L1356.3 864.5 L1357.3 864.5 L1358.3 864.5 L1359.3 864.4 L1360.3 864.1 L1361.3 863.8 L1362.3 863.7 L1363.3 863.6 L1364.3 863.6 L1365.3 863.6 L1366.3 863.6 L1367.3 863.7 L1368.3 863.8 L1369.3 863.9 L1370.3 864.1 L1371.3 864 L1372.3 863.9 L1373.3 863.9 L1374.3 864 L1375.3 864 L1376.3 864.1 L1377.3 864.3 L1378.3 864.4 L1379.3 864.2 L1380.3 863.9 L1381.3 863.7 L1382.3 863.4 L1383.3 863.1 L1384.3 863.1 L1385.3 863.4 L1386.3 863.7 L1387.3 864 L1388.3 864.2 L1389.3 864.3 L1390.3 864.4 L1391.3 864.2 L1392.3 863.9 L1393.3 863.9 L1394.3 863.9 L1395.3 864.1 L1396.3 864.1 L1397.3 864.4 L1398.3 864.6 L1399.3 864.7 L1400.3 864.7 L1401.3 864.7 L1402.3 864.7 L1403.3 864.5 L1404.3 864.2 L1405.3 863.9 L1406.3 863.6 L1407.3 863.6 L1408.3 863.8 L1409.3 863.9 L1410.3 864 L1411.3 864.2 L1412.3 864.2 L1413.3 864 L1414.3 864 L1415.3 864.1 L1416.3 864.2 L1417.3 864.4 L1418.3 864.5 L1419.3 864.7 L1420.3 864.9 L1421.3 864.9 L1422.3 864.7 L1423.3 864.2 L1424.3 863.6 L1425.3 863.3 L1426.3 863.4 L1427.3 863.7 L1428.3 863.9 L1429.3 864.1 L1430.3 864.4 L1431.3 864.6 L1432.3 864.4 L1433.3 864.1 L1434.3 863.9 L1435.3 863.8 L1436.3 863.8 L1437.3 864 L1438.3 864.2 L1439.3 864.5 L1440.3 864.9 L1441.3 865.1 L1442.3 865.2 L1443.3 864.9 L1444.3 864.9 L1445.3 864.9 L1446.3 864.6 L1447.3 864.4 L1448.3 864.5 L1449.3 864.6 L1450.3 864.7 L1451.3 864.6 L1452.3 864.6 L1453.3 864.4 L1454.3 864.1 L1455.3 863.7 L1456.3 863.5 L1457.3 863.4 L1458.3 863.4 L1459.3 863.6 L1460.3 863.8 L1461.3 863.9 L1462.3 864 L1463.3 864 L1464.3 864.1 L1465.3 864.2 L1466.3 864.1 L1467.3 864 L1468.3 863.8 L1469.3 863.6 L1470.3 863.6 L1471.3 863.5 L1472.3 863.7 L1473.3 863.6 L1474.3 863.6 L1475.3 863.8 L1476.3 864 L1477.3 864.2 L1478.3 864.2 L1479.3 864.1 L1480.3 864.2 L1481.3 864.4 L1482.3 864.6 L1483.3 864.7 L1484.3 864.6 L1485.3 864.7 L1486.3 864.8 L1487.3 864.8 L1488.3 864.8 L1489.3 864.7 L1490.3 864.6 L1491.3 864.6 L1492.3 864.5 L1493.3 864.4 L1494.3 864.2 L1495.3 864 L1496.3 864.1 L1497.3 864.2 L1498.3 864.2 L1499.3 864 L1500.3 863.9 L1501.3 863.8 L1502.3 863.6 L1503.3 863.5 L1504.3 863.9 L1505.3 864.3 L1506.3 864.5 L1507.3 864.5 L1508.3 864.4 L1509.3 864.3 L1510.3 864.1 L1511.3 863.9 L1512.3 863.8 L1513.3 863.8 L1514.3 863.7 L1515.3 863.4 L1516.3 863.4 L1517.3 863.7 L1518.3 863.9 L1519.3 864 L1520.3 864 L1521.3 863.9 L1522 864.1"/>
<path stroke="#d40000" stroke-width="6.8" d="M931.3 826 L932.3 761.4 L932.6 742 L933.3 701.8 L934.2 650 L934.3 647.3 L935.3 620.4 L935.8 607 L936.3 617.5 L937.3 638.6 L937.7 647 L938.3 648.9 L939.3 652.1 L939.6 653 L940.3 641 L941.3 623.8 L942.1 610 L942.3 610.7 L943.3 614.5 L944.3 618.2 L945.3 622 L946.3 652 L946.5 658 L947.3 652 L948.3 644.5 L948.5 643 L949.3 656.9 L950.3 674.3 L950.4 676 L951.3 671.5 L952.3 666.5 L953.3 661.5 L954.2 657 L954.3 658.7 L955.3 675.6 L955.5 679 L956.3 685.1 L957.3 692.7 L958.3 700.4 L959.3 708 L960.3 710.4 L961.3 712.7 L962.3 715.1 L963.1 717 L963.3 720.5 L964.3 738.2 L964.4 740 L965.3 739.7 L966.3 739.5 L967.3 739.2 L968.3 738.9 L969.3 738.6 L969.4 738.6 L970.3 744.7 L971.3 751.5 L972.3 758.2 L973.3 765 L974.3 758.6 L975.3 752.2 L975.8 749 L976.3 752.1 L977.3 758.3 L978.3 764.4 L979.3 770.6 L980.3 776.8 L980.9 780.5 L981.3 781.7 L982.3 784.7 L983.3 787.7 L984.3 790.6 L985.3 793.6 L986 795.7 L986.3 796.9 L987.3 801 L988.3 805 L989.3 809.1 L990.3 813.2 L991 816 L991.3 817.3 L992.3 821.5 L993.3 825.7 L994.3 830 L995.3 834.2 L996.1 837.6 L996.3 837.3 L997.3 836 L998.3 834.7 L999.3 833.3 L1000.3 832 L1001.3 830.7 L1001.8 830.1 L1002.3 831.2 L1003.3 833.2 L1004.3 835.2 L1005.3 837 L1006.3 838.7 L1007.3 840.7 L1008.3 843 L1008.8 843.8 L1009.3 844.1"/>
</g>
<g font-size="50" text-anchor="end" fill="#000">
<text x="919" y="803.9">0.05</text>
<text x="919" y="721.1">0.10</text>
<text x="919" y="638.4">0.15</text>
<text x="919" y="555.6">0.20</text>
<text x="919" y="472.9">0.25</text>
</g>
<text x="960.33" y="531.30" font-size="50" textLength="140.47" lengthAdjust="spacingAndGlyphs">(d) O7</text>
<text x="1097.45" y="556.30" font-size="36" textLength="20.02" lengthAdjust="spacingAndGlyphs">1</text>
<path d="M1245.6 660.4H1361.9" stroke="#d40000" stroke-width="5.0"/>
<text x="1373.15" y="678.60" font-size="50" textLength="108.69" lengthAdjust="spacingAndGlyphs">ChlB</text>
<g stroke="#000" stroke-width="2.2" fill="none" stroke-linecap="round">
<rect x="173.5" y="891" width="591.8" height="413.5" stroke-linejoin="round"/>
<path d="M321.4 1304.5V1298.5 M321.4 891V897 M469.4 1304.5V1298.5 M469.4 891V897 M617.3 1304.5V1298.5 M617.3 891V897 M173.5 1201.1H179.5 M765.3 1201.1H759.3 M173.5 1097.8H179.5 M765.3 1097.8H759.3 M173.5 994.4H179.5 M765.3 994.4H759.3"/>
</g>
<clipPath id="c4"><rect x="172.5" y="890" width="593.8" height="415.5"/></clipPath>
<g clip-path="url(#c4)" fill="none" stroke-width="5.5" stroke-linejoin="round" stroke-linecap="round">
<path stroke="#000" d="M174.6 1151.6 L175.6 1152.3 L176.6 1152.8 L177.6 1153.2 L178.1 1153.6 L178.6 1152.9 L179.6 1151.5 L180.6 1150.2 L181.6 1149 L182.2 1148.2 L182.6 1147.9 L183.6 1147.1 L184.6 1146.3 L185.6 1145.4 L186.6 1144.6 L187.6 1143.9 L188.3 1143.4 L188.6 1143.1 L189.6 1141.8 L190.6 1140.7 L191.6 1139.4 L192.6 1138 L193.6 1136.7 L194.4 1135.7 L194.6 1134.9 L195.6 1130.6 L196.6 1126.4 L197.4 1123 L197.6 1122.4 L198.6 1119.4 L199.6 1116.2 L200.5 1113.1 L200.6 1112.8 L201.6 1109.4 L202.6 1106 L203.5 1102.9 L203.6 1102.4 L204.6 1099 L205.6 1096 L206.6 1092.7 L207.6 1090.1 L208.6 1087.8 L209.6 1085.7 L210.6 1083.4 L210.7 1082.8 L211.6 1080.7 L212.6 1078.4 L213.6 1075.9 L214.6 1073.4 L214.7 1073 L215.6 1071.5 L216.6 1070.1 L217.6 1069.2 L218.6 1068.1 L219.6 1066.9 L220.6 1065.7 L220.8 1065.6 L221.6 1063.3 L222.6 1060.5 L223.6 1057.7 L224.6 1055 L225.6 1052.4 L226.6 1049.9 L226.9 1049.2 L227.6 1048.2 L228.6 1046.7 L229.6 1045.6 L230.6 1044.6 L231.6 1043.1 L232.6 1041.7 L233 1041.5 L233.6 1040.9 L234.6 1039.2 L235.6 1037.2 L236.6 1035.6 L237.6 1034.2 L238.6 1032.8 L239.1 1032.2 L239.6 1031.5 L240.6 1030.7 L241.6 1029.8 L242.6 1028.6 L243.6 1027.3 L244.6 1025.7 L245.2 1024.7 L245.6 1024.2 L246.6 1022.9 L247.6 1021.7 L248.6 1020.7 L249.6 1019.2 L250.6 1017.8 L251.3 1017.2 L251.6 1016.9 L252.6 1015.8 L253.6 1014.9 L254.6 1013.6 L255.6 1012.7 L256.6 1012 L257.6 1010.9 L258.4 1009.8 L258.6 1009.8 L259.6 1008.9 L260.6 1008 L261.6 1007.3 L262.6 1006.4 L263.6 1005.5 L264.6 1004.9 L265.6 1004 L266.6 1003.4 L267.6 1003.1 L268.6 1002.7 L269.6 1001.9 L270.6 1001.1 L271.6 1000.3 L272.6 999.4 L273.6 998.5 L274.6 997.9 L275.6 997.6 L276.6 997.3 L276.7 997.6 L277.6 997 L278.6 996.1 L279.6 995.5 L280.6 994.8 L281.6 994.1 L282.6 993.3 L283.6 992.5 L284.6 991.9 L285.6 991.6 L286.6 991.1 L286.9 990.8 L287.6 990.5 L288.6 990 L289.6 989.4 L290.6 989 L291.6 988.7 L292.6 988.2 L293.6 987.7 L294.6 987.4 L295.6 987.2 L296.6 986.9 L297 986.6 L297.6 986.5 L298.6 986.2 L299.6 985.8 L300.6 985.3 L301.6 984.5 L302.1 984.3 L302.6 983.9 L303.6 982.9 L304.6 982.1 L305.6 981.5 L306.6 980.9 L307.6 980.6 L308.6 980.2 L309.6 979.7 L310.6 979.4 L311.6 979.2 L312.3 978.9 L312.6 978.4 L313.6 977.7 L314.6 977.2 L315.6 976.9 L316.6 976.4 L317.6 975.7 L318.6 975.3 L319.6 975.2 L320.6 974.8 L321.6 974.2 L322.4 974 L322.6 973.8 L323.6 973.2 L324.6 972.8 L325.6 972.7 L326.6 972.5 L327.6 972.3 L328.6 971.8 L329.6 971.8 L330 972 L330.6 971.7 L331.6 970.8 L332.6 970.2 L333.6 969.7 L334.6 969.4 L335.6 968.8 L336.6 968.3 L337.6 968.1 L338.6 968.2 L339.6 968.3 L340.6 968.4 L341.4 968.8 L341.6 969.1 L342.6 969.2 L343.6 969.1 L344.6 968.7 L345.6 968 L346.6 967.2 L347.6 966.7 L348.6 966.5 L349.6 966.3 L350.6 966.3 L351.6 966.5 L352.6 966.7 L353.6 966.8 L354.6 966.6 L355.6 966 L356.6 965.4 L357.6 965 L358.6 964.4 L359.6 964.4 L360.5 964.4 L360.6 964.8 L361.6 965.4 L362.6 965.7 L363.6 965.6 L364.6 965.2 L365.6 964.5 L366.6 963.7 L367.6 963.3 L368.6 963 L369.6 962.9 L370.6 962.8 L371.6 962.6 L372.6 962.6 L373.6 962.9 L374.6 962.9 L375.6 962.9 L376.6 962.6 L377.6 962.2 L378.6 961.8 L379.5 961.1 L379.6 960.4 L380.6 959.7 L381.6 959.8 L382.6 960.5 L383.6 960.9 L384.6 961 L385.6 961 L386.6 961.1 L387.6 961.2 L388.6 961.5 L389.6 961.5 L390.6 961.6 L391.6 961.8 L392.6 961.7 L393.6 961.9 L394.6 962.3 L395.6 962.6 L396.6 962.6 L397.6 962.5 L398.6 962.4 L399.6 962.4 L400.6 962 L401.6 961.4 L402.6 961.1 L403.6 961.1 L404.6 961.1 L405.6 961.2 L406.6 961.1 L407.6 961.2 L408.6 960.9 L409.6 960.7 L410.6 960.9 L411.6 961.1 L412.6 961.1 L413.6 961.2 L414.6 961.3 L415.6 961.2 L416.6 961.1 L417.6 961.2 L418.6 961.3 L419.6 961.3 L420.6 961.3 L421.6 961.3 L422.6 961.3 L423.6 960.8 L424.6 960.7 L425.6 960.8 L426.6 960.6 L427.6 960.5 L428.6 961 L429.6 961.4 L430.6 961.5 L431.6 961.5 L432.6 961.3 L433.6 961 L434.6 960.5 L435.6 960 L436.6 959.4 L437.6 959.1 L438.6 958.7 L439.6 958.9 L440.6 959.7 L441.6 960.3 L442.6 960.6 L443.6 960.6 L444.6 960.4 L445.6 960.4 L446.6 960.4 L447.6 960.7 L448.6 961 L449.6 961.1 L450.6 961 L451.6 960.9 L452.6 960.6 L453.6 960.5 L454.6 960.4 L455.6 960.1 L456.6 959.8 L457.6 959.4 L458.6 959.1 L459.6 959 L460.6 959.3 L461.6 959.7 L462.6 960 L463.6 960.3 L464.6 960.1 L465.6 959.9 L466.6 959.9 L467.6 959.5 L468.6 959.1 L469.6 958.9 L470 958.7 L470.6 958.6 L471.6 959 L472.6 959.5 L473.6 959.9 L474.6 960 L475.6 959.6 L476.6 958.9 L477.6 958.4 L478.6 958 L479.6 958 L480.6 958 L481.6 958.2 L482.6 958.5 L483.6 958.4 L484.6 958.6 L485.6 959.1 L486.6 959.4 L487.6 959.7 L488.6 960 L489.6 960.3 L490.6 960.4 L491.6 960.2 L492.6 959.8 L493.6 959.1 L494.6 958.7 L495.6 958.3 L496.6 958.1 L497.6 958.2 L498.6 958.4 L499.6 958.3 L500.6 958.8 L501.6 959.3 L502.6 958.8 L503.6 958.7 L504.6 959.4 L505.6 960.3 L506.6 960.7 L507.6 960.6 L508.6 960.3 L509.6 960 L510.6 959.6 L511.6 959.1 L512.6 958.4 L513.6 957.9 L514.6 957.6 L515.6 957.5 L516.6 957.9 L517.6 958.6 L518.6 959.1 L519.6 959.5 L520.6 960 L521.6 959.8 L522.6 959.6 L523.6 959.4 L524.6 959.3 L525.6 959.4 L526.6 959.7 L527.6 959.7 L528.6 959.6 L529.6 959.4 L530.6 959 L531.6 958.7 L532.6 958.5 L533.6 958.7 L534.6 958.6 L535.6 958.5 L536.6 958.2 L537.6 958.1 L538.6 958.3 L539.6 958.7 L540.6 959.3 L541.6 959.2 L542.6 958.9 L543.6 958.8 L544.6 958.8 L545.6 958.6 L546.6 958.8 L547.6 959 L548.6 959.2 L549.6 959.5 L550.6 959.9 L551.6 960.1 L552.6 959.9 L553.6 959.7 L554.6 959.5 L555.6 959.2 L556.6 958.7 L557.6 958.2 L558.6 957.5 L559.6 957.3 L560.6 957.8 L561.6 958.5 L562.6 959.1 L563.6 959.3 L564.6 959.1 L565.6 958.8 L566.6 958.6 L567.6 958.8 L568.6 958.9 L569.6 959 L570.6 959.1 L571.6 959.4 L572.6 959.6 L573.6 959.4 L574.6 959.2 L575.6 959 L576.6 958.9 L577.6 958.7 L578.6 958.4 L579.6 958.3 L580.6 958.6 L581.6 958.9 L582.6 958.6 L583.6 958.5 L584.6 958.8 L585.6 958.8 L586.6 958.7 L587.6 958.8 L588.6 958.8 L589.6 958.7 L590.6 959.1 L591.6 959.6 L592.6 959.7 L593.6 959.5 L594.6 959.5 L595.6 959.5 L596.6 959.4 L597.6 959.4 L598.6 959.1 L599.6 958.7 L600.6 958.5 L601.6 958.7 L602.6 959.1 L603.6 959.1 L604.6 959 L605.6 958.9 L606.6 958.5 L607.6 957.8 L608.6 957.3 L609.6 957.1 L610.6 957 L611.6 957 L612.6 957.4 L613.6 958 L614.6 958.7 L615.6 959.4 L616.6 959.5 L617.6 959.2 L618.6 959.1 L619.6 959 L620.6 958.5 L621.6 958 L622.6 957.9 L623.6 958 L624.6 958.5 L625.6 958.9 L626.6 958.9 L627.6 958.9 L628.6 958.7 L629.6 958.3 L630.6 957.4 L631.6 956.7 L632.6 956.7 L633.6 956.6 L634.6 956.5 L635.6 956.9 L636.6 958 L637.6 958.9 L638.6 959.5 L639.6 959.6 L640.6 959.6 L641.6 959.4 L642.6 959.1 L643.6 958.6 L644.6 958.3 L645.6 958.3 L646.6 958.6 L647.6 959 L648.6 959.4 L649.6 959.7 L650.6 959.8 L651.6 959.2 L652.6 958.5 L653.6 958.1 L654.6 958 L655.6 957.8 L656.6 957.6 L657.6 957.7 L658.6 958.2 L659.6 959 L660.6 959.4 L661.6 959.8 L662.6 960.1 L663.6 960.1 L664.6 959.7 L665.6 959.2 L666.6 958.5 L667.6 958.1 L668.6 957.8 L669.6 957.6 L670.6 957.3 L671.6 956.9 L672.6 957.3 L673.6 958 L674.6 958.3 L675.6 958.5 L676.6 958.6 L677.6 958.4 L678.6 958.8 L679.6 959 L680.6 959.4 L681.6 959.7 L682.6 959.7 L683.6 959.9 L684.6 959.8 L685.6 959.6 L686.6 959.4 L687.6 959.1 L688.6 959 L689.6 958.9 L690.6 958.8 L691.6 959 L692.6 959.3 L693.6 959.4 L694.6 959.1 L695.6 958.7 L696.6 958.4 L697.6 958.4 L698.6 958.7 L699.6 958.8 L700.6 959.2 L701.6 959.3 L702.6 959.3 L703.6 959.6 L704.6 959.4 L705.6 959.4 L706.6 959.4 L707.6 959.4 L708.6 959.2 L709.6 959.2 L710.6 959.1 L711.6 959.5 L712.6 959.7 L713.6 959.1 L714.6 958.7 L715.6 958.1 L716.6 957.7 L717.6 957.7 L718.6 957.7 L719.6 957.8 L720.6 958 L721.6 958.1 L722.6 958.5 L723.6 958.7 L724.6 958.9 L725.6 959 L726.6 959.2 L727.6 958.9 L728.6 958.9 L729.6 958.9 L730.6 959.1 L731.6 959.4 L732.6 959.1 L733.6 959.2 L734.6 959.5 L735.6 959.4 L736.6 959.2 L737.6 959 L738.6 958.8 L739.6 958.4 L740.6 957.9 L741.6 957.7 L742.6 958 L743.6 958.2 L744.6 958.3 L745.6 958.2 L746.6 958.3 L747.6 958.1 L748.6 957.9 L749.6 957.7 L750.6 958.1 L751.6 958.6 L752.6 958.9 L753.6 959.3 L754.6 959.8 L755.6 960 L756.6 960 L757.6 960.1 L758.6 960.2 L759.6 959.9 L760.6 959.6 L761.6 959.1 L762.6 958.9 L763.6 959.2 L764.6 959.6 L765 959.6"/>
<path stroke="#d40000" d="M174.6 1112.5 L175.6 1141.2 L176.6 1152.4 L177.1 1157.7 L177.6 1155 L178.6 1150.2 L179.6 1145.6 L180.2 1143 L180.6 1142.4 L181.6 1140.1 L182.6 1137.5 L183.6 1134.9 L184.2 1133.3 L184.6 1130.2 L185.6 1123.1 L186.3 1118.2 L186.6 1116.8 L187.6 1112.5 L188.6 1108.3 L189.6 1104.1 L190.3 1101.2 L190.6 1100.9 L191.6 1099.2 L192.6 1097.4 L193.6 1095.3 L194.6 1093 L195.4 1091 L195.6 1089.7 L196.6 1085.4 L197.6 1081.1 L198.5 1077.1 L198.6 1077 L199.6 1074.5 L200.6 1071.8 L201.6 1069.1 L202.6 1066.6 L203.5 1064.4 L203.6 1064.2 L204.6 1061.4 L205.6 1058.6 L206.6 1055.8 L207.6 1053.3 L208.6 1051.3 L209.6 1049.3 L210.6 1047 L211.6 1044.5 L212.6 1041.9 L213.6 1039.6 L214.6 1037.5 L214.7 1037.4 L215.6 1034.9 L216.6 1032.6 L217.6 1030.1 L218.6 1027.6 L219.6 1025.2 L220.6 1023.3 L220.8 1023 L221.6 1021.5 L222.6 1020.1 L223.6 1018.7 L224.6 1016.8 L225.6 1014.8 L226.6 1012.9 L226.9 1012.6 L227.6 1011.6 L228.6 1010.1 L229.6 1008.8 L230.6 1007.3 L231.6 1006.2 L232.6 1005.1 L233 1004.7 L233.6 1004.1 L234.6 1002.8 L235.6 1001.4 L236.6 999.7 L237.6 998.4 L238.6 997.2 L239.6 996.1 L240.6 995 L241.1 994.7 L241.6 994.3 L242.6 993.4 L243.6 992.1 L244.6 991 L245.6 990.1 L246.6 989.3 L247.6 988.4 L248.6 987.8 L249.6 987.2 L250.6 986.4 L251.3 985.9 L251.6 985.6 L252.6 984.8 L253.6 984.6 L254.6 984.5 L255.6 984 L256.6 983.4 L257.6 982.8 L258.6 982.1 L259.6 981.4 L260.6 980.8 L261.5 980.2 L261.6 980.4 L262.6 980.6 L263.6 980.5 L264.6 980 L265.6 979.7 L266.6 979.4 L267.6 978.8 L268.6 978.1 L269.6 977.8 L270.6 977.7 L271.6 977.4 L272.6 976.8 L273.6 976.3 L274.6 975.7 L275.6 975.3 L276.6 974.9 L277.6 974.6 L278.6 974.3 L279.6 973.8 L280.6 973 L281.6 972.6 L281.8 972.8 L282.6 972.8 L283.6 972.9 L284.6 973.2 L285.6 973.3 L286.6 973.6 L287.6 973.6 L288.6 973.2 L289.6 972.6 L290.6 971.7 L291.6 971.1 L292 971 L292.6 970.8 L293.6 970.8 L294.6 970.8 L295.6 970.8 L296.6 971.1 L297.6 971.2 L298.6 970.9 L299.6 970.9 L300.6 970.9 L301.6 970.8 L302.1 970.7 L302.6 970.4 L303.6 969.8 L304.6 969.4 L305.6 969.4 L306.6 969.2 L307.6 969.1 L308.6 968.8 L309.6 968.7 L310.6 968.5 L311.6 968.5 L312.3 968.5 L312.6 968.4 L313.6 967.9 L314.6 967.2 L315.6 966.8 L316.6 967 L317.6 967.3 L318.6 967.2 L319.6 967.1 L320.6 967 L321.6 967 L322.6 966.6 L323.6 966.1 L324.6 965.6 L325.6 965.2 L326.6 965.1 L327.6 965 L328.6 965.2 L329.6 965.3 L330 964.9 L330.6 964.6 L331.6 964.6 L332.6 964.4 L333.6 964.2 L334.6 964 L335.6 964 L336.6 964.4 L337.6 964.7 L338.6 964.9 L339.6 965.4 L340.6 965.3 L341.6 965.2 L342.6 965.2 L343.6 965 L344.6 964.6 L345.6 964 L346.6 963.7 L347.6 963.5 L348.6 963.7 L349.6 964.1 L350.6 964.2 L351.6 963.7 L352.6 963 L353.6 963 L354.6 962.8 L355.6 962.6 L356.6 962.4 L357.6 962.3 L358.6 962.4 L359.6 962.4 L360.5 962.4 L360.6 962.2 L361.6 962.4 L362.6 962.8 L363.6 963 L364.6 963.1 L365.6 963.2 L366.6 963.2 L367.6 963.1 L368.6 962.8 L369.6 962.7 L370.6 962.7 L371.6 962.7 L372.6 962.8 L373.6 962.9 L374.6 962.7 L375.6 962.6 L376.6 962.5 L377.6 962.3 L378.6 962.1 L379.6 962.1 L380.6 962 L381.6 961.8 L382.6 962 L383.6 962.2 L384.6 962.4 L385.6 962.8 L386.6 962.8 L387.6 962.4 L388.6 961.9 L389.6 961.6 L390.6 961.3 L391.6 960.9 L392.6 960.7 L393.6 961 L394.6 961.6 L395.6 962.2 L396.6 962.9 L397.6 963.3 L398.6 963.3 L399.6 963 L400.6 962.3 L401.6 961.7 L402.6 961.3 L403.6 960.7 L404.6 960.3 L405.6 960 L406.6 960.1 L407.6 960.2 L408.6 960.5 L409.6 960.8 L410.6 960.7 L411.6 960.5 L412.6 960.6 L413.6 960.6 L414.6 960.6 L415.6 960.2 L416.6 960.1 L417.6 960.4 L418.6 960.5 L419.6 960.7 L420.6 960.7 L421.6 960.7 L422.6 960.5 L423.6 960.1 L424.6 959.8 L425.6 960 L426.6 960.5 L427.6 961.1 L428.6 961.4 L429.6 961.5 L430.6 961.5 L431.6 961 L432.6 960.2 L433.6 959.4 L434.6 958.8 L435.6 958.3 L436.6 958.4 L437.6 958.9 L438.6 959.4 L439.6 960 L440.6 960.8 L441.6 961.3 L442.6 961.3 L443.6 960.8 L444.6 960.6 L445.6 960.5 L446.6 960.3 L447.6 960.1 L448.6 960.1 L449.6 960 L450.6 959.6 L451.6 959.3 L452.6 959.1 L453.6 958.8 L454.6 958.8 L455.6 959 L456.6 959 L457.6 959.4 L458.6 959.9 L459.6 960 L460.6 960 L461.6 960.3 L462.6 960.4 L463.6 960.5 L464.6 960.3 L465.6 960.2 L466.6 960.3 L467.6 960.1 L468.6 960.2 L469.6 959.9 L470 959.6 L470.6 959.7 L471.6 960 L472.6 959.9 L473.6 959.6 L474.6 959.6 L475.6 960 L476.6 960.2 L477.6 960.1 L478.6 960.1 L479.6 959.8 L480.6 959.7 L481.6 959.7 L482.6 959.7 L483.6 959.6 L484.6 959.6 L485.6 959.8 L486.6 960 L487.6 960.2 L488.6 960.4 L489.6 960.6 L490.6 960.6 L491.6 960.3 L492.6 960.1 L493.6 959.9 L494.6 959.9 L495.6 960.4 L496.6 960.7 L497.6 960.4 L498.6 960.2 L499.6 959.8 L500.6 959.1 L501.6 958.7 L502.6 958.7 L503.6 959 L504.6 959.4 L505.6 959.7 L506.6 959.8 L507.6 960 L508.6 960.5 L509.6 960.8 L510.6 960.6 L511.6 960.3 L512.6 960 L513.6 959.7 L514.6 959.6 L515.6 959.6 L516.6 959.7 L517.6 959.7 L518.6 959.8 L519.6 960.1 L520.6 960.4 L521.6 960.3 L522.6 960.1 L523.6 959.5 L524.6 959.1 L525.6 959.3 L526.6 959.7 L527.6 959.9 L528.6 960 L529.6 960.4 L530.6 960.2 L531.6 959.7 L532.6 959.6 L533.6 960 L534.6 959.8 L535.6 959.4 L536.6 959.2 L537.6 959.1 L538.6 959.4 L539.6 959.8 L540.6 959.8 L541.6 960 L542.6 960.1 L543.6 960.2 L544.6 960.6 L545.6 960.8 L546.6 960.7 L547.6 960.4 L548.6 960.3 L549.6 960.1 L550.6 960 L551.6 960 L552.6 960.1 L553.6 960.1 L554.6 960.3 L555.6 960.5 L556.6 960.8 L557.6 960.8 L558.6 961 L559.6 961.1 L560.6 961.3 L561.6 961.5 L562.6 961.2 L563.6 960.5 L564.6 960.2 L565.6 960.1 L566.6 959.6 L567.6 958.9 L568.6 958.8 L569.6 959.2 L570.6 959.7 L571.6 959.7 L572.6 959.6 L573.6 959.7 L574.6 959.6 L575.6 959.7 L576.6 959.9 L577.6 959.8 L578.6 959.8 L579.6 959.6 L580.6 959.2 L581.6 959 L582.6 958.9 L583.6 958.8 L584.6 959.2 L585.6 959.6 L586.6 959.6 L587.6 959.4 L588.6 959.4 L589.6 959 L590.6 958.7 L591.6 958.8 L592.6 959.2 L593.6 959.4 L594.6 959.8 L595.6 960.1 L596.6 959.7 L597.6 959.6 L598.6 959.5 L599.6 959.1 L600.6 958.9 L601.6 959.4 L602.6 959.5 L603.6 959.4 L604.6 959.5 L605.6 959.4 L606.6 959.3 L607.6 959.5 L608.6 959.6 L609.6 959.8 L610.6 960.3 L611.6 960.6 L612.6 960.6 L613.6 960.1 L614.6 959.4 L615.6 959.3 L616.6 959.4 L617.6 959.6 L618.6 960.1 L619.6 960.4 L620.6 960.4 L621.6 960.5 L622.6 960.4 L623.6 960.3 L624.6 959.8 L625.6 959.4 L626.6 959.5 L627.6 959.6 L628.6 959 L629.6 958.4 L630.6 958.2 L631.6 958.2 L632.6 958.3 L633.6 958.2 L634.6 958.1 L635.6 958.4 L636.6 958.8 L637.6 959.3 L638.6 960 L639.6 960.3 L640.6 960.3 L641.6 959.6 L642.6 958.7 L643.6 958.4 L644.6 958 L645.6 958 L646.6 958.6 L647.6 959.5 L648.6 960.1 L649.6 960.1 L650.6 959.6 L651.6 959.4 L652.6 959.2 L653.6 958.6 L654.6 958.2 L655.6 958 L656.6 958.2 L657.6 958.6 L658.6 958.7 L659.6 958.7 L660.6 959.1 L661.6 959 L662.6 958.4 L663.6 958.3 L664.6 958.6 L665.6 959 L666.6 959.2 L667.6 959.3 L668.6 959.1 L669.6 958.8 L670.6 958.9 L671.6 958.8 L672.6 958.9 L673.6 959.5 L674.6 960.1 L675.6 960.1 L676.6 959.5 L677.6 959 L678.6 958.9 L679.6 958.5 L680.6 958.3 L681.6 958.6 L682.6 958.6 L683.6 958.5 L684.6 959 L685.6 959.6 L686.6 960 L687.6 960 L688.6 960 L689.6 959.8 L690.6 959.6 L691.6 959.5 L692.6 959.3 L693.6 959.1 L694.6 959.3 L695.6 959.8 L696.6 960.3 L697.6 960.6 L698.6 960.7 L699.6 960.7 L700.6 960.7 L701.6 960.4 L702.6 960.4 L703.6 960.6 L704.6 961.3 L705.6 961.6 L706.6 961.5 L707.6 961.2 L708.6 961 L709.6 960.4 L710.6 959.7 L711.6 959.7 L712.6 959.9 L713.6 959.7 L714.6 959.4 L715.6 959.3 L716.6 959.3 L717.6 959.4 L718.6 959.9 L719.6 960 L720.6 959.8 L721.6 959.3 L722.6 959 L723.6 958.7 L724.6 958.9 L725.6 959.2 L726.6 959.2 L727.6 959.7 L728.6 960.3 L729.6 960.6 L730.6 960.6 L731.6 960.4 L732.6 960.5 L733.6 960 L734.6 959.5 L735.6 959.5 L736.6 960 L737.6 960.2 L738.6 960.1 L739.6 960.1 L740.6 959.9 L741.6 959.5 L742.6 959.6 L743.6 959.9 L744.6 960 L745.6 960.1 L746.6 960.3 L747.6 960.4 L748.6 960.3 L749.6 960.2 L750.6 960 L751.6 959.9 L752.6 960 L753.6 959.7 L754.6 959.3 L755.6 958.6 L756.6 958 L757.6 957.8 L758.6 957.9 L759.6 958.3 L760.6 958.5 L761.6 958.5 L762.6 958.5 L763.6 958.6 L764.6 958.8 L765 958.9"/>
</g>
<g font-size="50" text-anchor="end" fill="#000">
<text x="162" y="1220.5">0.25</text>
<text x="162" y="1117.2">0.50</text>
<text x="162" y="1013.8">0.75</text>
<text x="162" y="910.4">1.00</text>
</g>
<text x="306.95" y="1053.40" font-size="50" textLength="448.44" lengthAdjust="spacingAndGlyphs">(e) Inner Macrocycle</text>
<path d="M488.6 1186.8H604.9" stroke="#000" stroke-width="5.0"/>
<text x="616.19" y="1205.20" font-size="50" textLength="107.00" lengthAdjust="spacingAndGlyphs">ChlA</text>
<path d="M488.6 1246.9H604.9" stroke="#d40000" stroke-width="5.0"/>
<text x="616.15" y="1265.10" font-size="50" textLength="108.69" lengthAdjust="spacingAndGlyphs">ChlB</text>
<g stroke="#000" stroke-width="2.2" fill="none" stroke-linecap="round">
<rect x="930.5" y="891" width="591.7" height="413.5" stroke-linejoin="round"/>
<path d="M1078.4 1304.5V1298.5 M1078.4 891V897 M1226.3 1304.5V1298.5 M1226.3 891V897 M1374.3 1304.5V1298.5 M1374.3 891V897 M930.5 1201.1H936.5 M1522.2 1201.1H1516.2 M930.5 1097.8H936.5 M1522.2 1097.8H1516.2 M930.5 994.4H936.5 M1522.2 994.4H1516.2"/>
</g>
<clipPath id="c5"><rect x="929.5" y="890" width="593.7" height="415.5"/></clipPath>
<g clip-path="url(#c5)" fill="none" stroke-width="5.5" stroke-linejoin="round" stroke-linecap="round">
<path stroke="#000" d="M931.7 1198.8 L932.7 1198.2 L933.7 1197.9 L934.7 1197.4 L935.7 1196.1 L936.7 1194.2 L937.7 1191.8 L938.3 1189.9 L938.7 1189.1 L939.7 1188.9 L940.7 1189.3 L941.7 1189.9 L942.7 1190.9 L943.7 1191.7 L944.7 1192 L945.7 1192.3 L946 1192.5 L946.7 1191.5 L947.7 1190.1 L948.7 1188.7 L949.7 1187.3 L950.7 1186.3 L951.7 1185.3 L952.7 1186.6 L953.7 1187.8 L954.7 1189.1 L955.7 1190.2 L956.7 1190.6 L957.4 1190.3 L957.7 1190 L958.7 1191.6 L959.7 1193.5 L960.7 1195.7 L961.7 1198 L962.7 1200.8 L963.1 1201.8 L963.7 1202.2 L964.7 1203.4 L965.7 1204.6 L966.7 1205.4 L967.7 1206.3 L968.7 1207.2 L969.7 1207.6 L970.7 1208.5 L971.7 1210 L972.6 1211.3 L972.7 1211.5 L973.7 1212.6 L974.7 1214.1 L975.7 1214.8 L976.7 1215.2 L977.7 1216 L978.7 1216.8 L979.7 1217.5 L980.7 1218.1 L981.7 1218.6 L982.1 1219.3 L982.7 1220.4 L983.7 1221.3 L984.7 1221.9 L985.7 1223 L986.7 1224.6 L987.7 1226.1 L988.7 1227 L989.7 1227.5 L990.7 1227.9 L991.7 1228.7 L992.7 1229.4 L993.7 1229.9 L994.7 1230.5 L995.7 1231.5 L996.7 1232.8 L997.7 1233.8 L998.7 1235.3 L999.7 1236.5 L1000.7 1237.5 L1001.2 1238.1 L1001.7 1238.5 L1002.7 1238.5 L1003.7 1238.8 L1004.7 1239.6 L1005.7 1240 L1006.7 1240.7 L1007.7 1241.7 L1008.7 1242.5 L1009.7 1242.8 L1010.7 1243.1 L1011.7 1243.6 L1012.7 1244 L1013.7 1244.6 L1014.7 1244.8 L1015.7 1245.1 L1016.7 1245.8 L1017.7 1246.4 L1018.7 1247.2 L1019.7 1248.1 L1020.7 1249.4 L1021.7 1250 L1022.7 1250 L1023.7 1249.8 L1024 1249.5 L1024.7 1248.9 L1025.7 1248.4 L1026.7 1248.4 L1027.7 1248.6 L1028.7 1248.8 L1029.7 1249.7 L1030.7 1251.5 L1031.7 1253.3 L1032.7 1254.2 L1033.7 1254 L1034.7 1253.2 L1035.7 1252.3 L1036.7 1251.9 L1037.7 1251.7 L1038.7 1251.8 L1039.3 1252.1 L1039.7 1252.4 L1040.7 1252.9 L1041.7 1253.5 L1042.7 1254.3 L1043.7 1255 L1044.7 1255.4 L1045.7 1255.3 L1046.7 1255 L1047.7 1254.9 L1048.7 1254.8 L1049.7 1254.7 L1050.7 1254.6 L1051.7 1254.7 L1052.7 1254.9 L1053.7 1255.4 L1054.5 1255.8 L1054.7 1255.6 L1055.7 1255.7 L1056.7 1255.5 L1057.7 1255.4 L1058.7 1255.4 L1059.7 1255.4 L1060.7 1255.4 L1061.7 1255.8 L1062.7 1256.7 L1063.7 1257.8 L1064.7 1258.8 L1065.7 1259.5 L1066.7 1260.3 L1067.7 1261.4 L1067.9 1261.9 L1068.7 1262.2 L1069.7 1262.4 L1070.7 1262.1 L1071.7 1261.5 L1072.7 1260.8 L1073.7 1260.4 L1074.7 1260.2 L1075.7 1259.9 L1076.7 1259.9 L1077.7 1260.4 L1078.7 1260.7 L1079.7 1261 L1080.7 1261.5 L1081.7 1261.9 L1082.7 1261.9 L1083.7 1262.2 L1084.7 1262.1 L1085.7 1262.3 L1086.7 1262.8 L1086.9 1262.4 L1087.7 1262.6 L1088.7 1262.8 L1089.7 1262.8 L1090.7 1263.1 L1091.7 1263.7 L1092.7 1264.1 L1093.7 1264.3 L1094.7 1264.2 L1095.7 1263.9 L1096.7 1264 L1097.7 1264.7 L1098.7 1265.1 L1099.7 1265.4 L1100.7 1265.7 L1101.7 1265.4 L1102.7 1264.7 L1103.7 1264 L1104.7 1263.5 L1105.7 1262.7 L1106 1262.2 L1106.7 1262.7 L1107.7 1263.2 L1108.7 1263.7 L1109.7 1264.7 L1110.7 1265.3 L1111.7 1265.6 L1112.7 1265.9 L1113.7 1265.9 L1114.7 1266 L1115.7 1265.4 L1116.7 1264.7 L1117.7 1264.7 L1118.7 1265 L1119.7 1265.4 L1120.7 1265.4 L1121.7 1265.9 L1122.7 1266.6 L1123.7 1266.8 L1124.7 1266.3 L1125 1266.2 L1125.7 1266.4 L1126.7 1266.2 L1127.7 1265.8 L1128.7 1265.5 L1129.7 1265.7 L1130.7 1266.2 L1131.7 1266.5 L1132.7 1266.9 L1133.7 1267.8 L1134.7 1267.8 L1135.7 1267 L1136.7 1266.5 L1137.7 1266.3 L1138.7 1265.8 L1139.7 1265.3 L1140.7 1265 L1141.7 1265.1 L1142.7 1265.8 L1143.7 1266.5 L1144.7 1266.5 L1145.7 1266.3 L1146.7 1265.9 L1147.7 1265.3 L1148.7 1264.6 L1149.7 1264.3 L1150.7 1264.9 L1151.7 1266 L1152.7 1267 L1153.6 1268 L1153.7 1268 L1154.7 1268.1 L1155.7 1268 L1156.7 1266.9 L1157.7 1266.3 L1158.7 1266.1 L1159.7 1265.7 L1160.7 1265.9 L1161.7 1266.1 L1162.7 1266.2 L1163.7 1266.4 L1164.7 1266.5 L1165.7 1266.4 L1166.7 1266 L1167.7 1266 L1168.7 1266.7 L1169.7 1267.1 L1170.7 1267 L1171.7 1266.6 L1172.7 1265.8 L1173.7 1265.2 L1174.7 1265.4 L1175.7 1265.6 L1176.7 1266.5 L1177.7 1267.4 L1178.7 1267.5 L1179.7 1267.6 L1180.7 1267.1 L1181.7 1266.7 L1182.7 1266.9 L1183.7 1267 L1184.7 1267.3 L1185.7 1267.4 L1186.7 1267.4 L1187.7 1267.4 L1188.7 1267.1 L1189.7 1266.8 L1190.7 1266.6 L1191.7 1266.6 L1192.7 1266.5 L1193.7 1266.7 L1194.7 1266.3 L1195.7 1266.2 L1196.7 1266.4 L1197.7 1266.4 L1198.7 1266.3 L1199.7 1265.9 L1200.7 1265.4 L1201.7 1264.8 L1202.7 1264.9 L1203.7 1265.3 L1204.7 1265.3 L1205.7 1265.4 L1206.7 1266 L1207.7 1266.3 L1208.7 1266.2 L1209.7 1266.3 L1210.7 1266.5 L1211.7 1266.6 L1212.7 1267.1 L1213.7 1267.5 L1214.7 1267.1 L1215.7 1266.9 L1216.7 1266.8 L1217.7 1266.6 L1218.7 1267.2 L1219.7 1267.5 L1220.7 1267.6 L1221.7 1267.8 L1222.7 1268 L1223.7 1267.9 L1224.7 1267.5 L1225 1267.1 L1225.7 1267 L1226.7 1266.7 L1227.7 1266.4 L1228.7 1266.6 L1229.7 1267.3 L1230.7 1267.6 L1231.7 1267.1 L1232.7 1266.8 L1233.7 1266.7 L1234.7 1266.2 L1235.7 1265.6 L1236.7 1265.5 L1237.7 1265.7 L1238.7 1265.8 L1239.7 1266.2 L1240.7 1266.2 L1241.7 1266.1 L1242.7 1266.1 L1243.7 1266 L1244.7 1265.3 L1245.7 1264.8 L1246.7 1264.9 L1247.7 1264.9 L1248.7 1265.1 L1249.7 1265.6 L1250.7 1266.3 L1251.7 1267 L1252.7 1267.4 L1253.7 1267.7 L1254.7 1267.7 L1255.7 1267.8 L1256.7 1268 L1257.7 1268.1 L1258.7 1268.3 L1259.7 1267.9 L1260.7 1267.2 L1261.7 1267 L1262.7 1267.4 L1263.7 1268.2 L1264.7 1269 L1265.7 1269.4 L1266.7 1269.6 L1267.7 1268.6 L1268.7 1267 L1269.7 1265.8 L1270.7 1265.1 L1271.7 1265.4 L1272.7 1265.5 L1273.7 1265.9 L1274.7 1266.5 L1275.7 1267 L1276.7 1267.2 L1277.7 1267.4 L1278.7 1267.4 L1279.7 1267.1 L1280.7 1267 L1281.7 1267 L1282.7 1266.9 L1283.7 1267.2 L1284.7 1267.6 L1285.7 1267.7 L1286.7 1267.4 L1287.7 1267 L1288.7 1266.6 L1289.7 1266.4 L1290.7 1266.9 L1291.7 1267.6 L1292.7 1267.4 L1293.7 1267.1 L1294.7 1267.1 L1295.7 1267 L1296.7 1266.8 L1297.7 1266.9 L1298.7 1267.1 L1299.7 1266.9 L1300.7 1266.3 L1301.7 1266 L1302.7 1265.6 L1303.7 1265.2 L1304.7 1265.6 L1305.7 1266.8 L1306.7 1267.9 L1307.7 1268.4 L1308.7 1268.4 L1309.7 1268.2 L1310.7 1267.6 L1311.7 1267.1 L1312.7 1266.6 L1313.7 1266.6 L1314.7 1267.2 L1315.7 1267.5 L1316.7 1267.6 L1317.7 1267.7 L1318.7 1267.7 L1319.7 1267.2 L1320.7 1266.6 L1321.7 1266 L1322.7 1265.3 L1323.7 1265 L1324.7 1264.8 L1325.7 1264.6 L1326.7 1264.5 L1327.7 1264.8 L1328.7 1265.6 L1329.7 1266.3 L1330.7 1266.3 L1331.7 1265.7 L1332.7 1265.4 L1333.7 1265.2 L1334.7 1265.2 L1335.7 1265.2 L1336.7 1265.3 L1337.7 1265.5 L1338.7 1265.6 L1339.7 1265.7 L1340.7 1266.1 L1341.7 1266.6 L1342.7 1267 L1343.7 1267.6 L1344.7 1268 L1345.7 1267.6 L1346.7 1266.9 L1347.7 1266.5 L1348.7 1266.2 L1349.7 1266.2 L1350.7 1266.3 L1351.7 1266.6 L1352.7 1266.8 L1353.7 1266.6 L1354.7 1266.4 L1355.7 1266.2 L1356.7 1266.3 L1357.7 1266.1 L1358.7 1265.9 L1359.7 1265.9 L1360.7 1265.8 L1361.7 1266 L1362.7 1266.4 L1363.7 1266.6 L1364.7 1266.5 L1365.7 1266.4 L1366.7 1267 L1367.7 1267.4 L1368.7 1267.1 L1369.7 1267 L1370.7 1266.8 L1371.7 1266.3 L1372.7 1266.2 L1373.7 1266.6 L1374.7 1266.9 L1375.7 1267 L1376.7 1267.4 L1377.7 1267.6 L1378.7 1267.4 L1379.7 1267.2 L1380.7 1267.3 L1381.7 1267.5 L1382.7 1267.4 L1383.7 1267 L1384.7 1266.9 L1385.7 1266.7 L1386.7 1266.5 L1387.7 1267 L1388.7 1267.3 L1389.7 1267.5 L1390.7 1267.5 L1391.7 1267.2 L1392.7 1266.6 L1393.7 1266.3 L1394.7 1266.3 L1395.7 1266.2 L1396.7 1266.3 L1397.7 1266.6 L1398.7 1267 L1399.7 1266.9 L1400.7 1267 L1401.7 1267.5 L1402.7 1267.7 L1403.7 1267.6 L1404.7 1267.3 L1405.7 1266.7 L1406.7 1266.9 L1407.7 1267.5 L1408.7 1267.5 L1409.7 1267.4 L1410.7 1267.2 L1411.7 1267.1 L1412.7 1266.8 L1413.7 1266.6 L1414.7 1266.3 L1415.7 1266 L1416.7 1265.8 L1417.7 1265.8 L1418.7 1266 L1419.7 1266.5 L1420.7 1267.4 L1421.7 1267.8 L1422.7 1267.8 L1423.7 1267.6 L1424.7 1267.5 L1425.7 1267.5 L1426.7 1267.6 L1427.7 1268 L1428.7 1268.6 L1429.7 1269 L1430.7 1269 L1431.7 1269 L1432.7 1269.1 L1433.7 1268.9 L1434.7 1268.7 L1435.7 1268.5 L1436.7 1268.1 L1437.7 1267.5 L1438.7 1266.8 L1439.7 1266.5 L1440.7 1266.7 L1441.7 1267.1 L1442.7 1267 L1443.7 1267.1 L1444.7 1267.5 L1445.7 1267.4 L1446.7 1267 L1447.7 1266.6 L1448.7 1266.3 L1449.7 1265.9 L1450.7 1265.9 L1451.7 1266.1 L1452.7 1266.2 L1453.7 1266.1 L1454.7 1266.2 L1455.7 1266.3 L1456.7 1266.4 L1457.7 1266.5 L1458.7 1265.9 L1459.7 1265.4 L1460.7 1265.5 L1461.7 1266 L1462.7 1266.9 L1463.7 1267.2 L1464.7 1267 L1465.7 1266.8 L1466.7 1266.4 L1467.7 1265.8 L1468.7 1265.3 L1469.7 1265.1 L1470.7 1265.4 L1471.7 1265.9 L1472.7 1266.4 L1473.7 1266.8 L1474.7 1267.2 L1475.7 1267.3 L1476.7 1267.4 L1477.7 1267 L1478.7 1266.5 L1479.7 1266.7 L1480.7 1266.7 L1481.7 1266.5 L1482.7 1266.3 L1483.7 1266.2 L1484.7 1266.2 L1485.7 1266.4 L1486.7 1266.4 L1487.7 1266.6 L1488.7 1266.9 L1489.7 1267.3 L1490.7 1267.6 L1491.7 1267.7 L1492.7 1267.6 L1493.7 1267.8 L1494.7 1267.7 L1495.7 1267.6 L1496.7 1267.9 L1497.7 1267.9 L1498.7 1267.8 L1499.7 1267.6 L1500.7 1267.3 L1501.7 1266.7 L1502.7 1266.5 L1503.7 1266.6 L1504.7 1266.7 L1505.7 1266.6 L1506.7 1266.3 L1507.7 1266.3 L1508.7 1266.4 L1509.7 1266.5 L1510.7 1266.5 L1511.7 1266.6 L1512.7 1266.7 L1513.7 1266.6 L1514.7 1266.9 L1515.7 1267.6 L1516.7 1268.2 L1517.7 1268.4 L1518.7 1268.6 L1519.7 1268.9 L1520.7 1269.1 L1521.7 1269.1 L1522 1269.1"/>
<path stroke="#d40000" d="M931.7 1204.4 L932.7 1209.2 L933.7 1214.1 L934.5 1217.6 L934.7 1217.7 L935.7 1216.7 L936.7 1215.5 L937.7 1214.2 L938.3 1213.8 L938.7 1215 L939.7 1217.8 L940.7 1220.5 L941.7 1222.9 L942.7 1225.3 L943.7 1227.9 L944 1229 L944.7 1230.6 L945.7 1232.6 L946.7 1233.8 L947.7 1234.5 L948.7 1235.1 L949.7 1235.3 L949.8 1234.8 L950.7 1235.4 L951.7 1236 L952.7 1236.6 L953.7 1237.8 L954.7 1238.5 L955.7 1239.1 L956.7 1240.1 L957.7 1241.2 L958.7 1242 L959.3 1242.7 L959.7 1242.4 L960.7 1241.7 L961.7 1241.4 L962.7 1241.1 L963.7 1240.4 L964.7 1239.6 L965 1239.1 L965.7 1240.3 L966.7 1242.3 L967.7 1243.6 L968.7 1244.6 L969.7 1244.8 L970.7 1245.5 L971.7 1246.4 L972.6 1247.3 L972.7 1247.3 L973.7 1248.3 L974.7 1249.7 L975.7 1251.1 L976.7 1252.4 L977.7 1253.5 L978.7 1254.5 L979.7 1255.4 L980.7 1256 L981.7 1256.7 L982.1 1256.9 L982.7 1257.2 L983.7 1258.2 L984.7 1258.5 L985.7 1258.5 L986.7 1259.6 L987.7 1260.6 L988.7 1260.9 L989.7 1261.2 L990.7 1260.8 L991.7 1260.2 L992.7 1259.4 L993.7 1258.9 L994.7 1259 L995.7 1259.4 L996.7 1260.3 L997.4 1261.1 L997.7 1261.3 L998.7 1261.8 L999.7 1262.2 L1000.7 1262.5 L1001.7 1262.5 L1002.7 1262.3 L1003.7 1261.9 L1004.7 1261.6 L1005.7 1261.8 L1006.7 1262.3 L1007.7 1263.2 L1008.7 1264.4 L1009.7 1264.8 L1010.7 1264.9 L1011.7 1264.8 L1012.7 1264.4 L1013.7 1264 L1014.7 1264 L1015.7 1264.5 L1016.4 1265.5 L1016.7 1266.5 L1017.7 1267.4 L1018.7 1267.9 L1019.7 1268 L1020.7 1267.8 L1021.7 1267.6 L1022.7 1267.4 L1023.7 1267.2 L1024.7 1267.8 L1025.7 1268.3 L1026.7 1268.6 L1027.7 1268.7 L1028.7 1268.7 L1029.7 1268.6 L1030.7 1268.5 L1031.7 1268.3 L1032.7 1267.7 L1033.7 1267.6 L1034.7 1267.8 L1035.7 1267.5 L1036.7 1266.8 L1037.7 1266.5 L1038.7 1266.6 L1039.3 1266.5 L1039.7 1266 L1040.7 1266.1 L1041.7 1266.3 L1042.7 1266.6 L1043.7 1266.6 L1044.7 1266.3 L1045.7 1266.8 L1046.7 1267.6 L1047.7 1267.8 L1048.7 1268.2 L1049.7 1268.4 L1050.7 1268.3 L1051.7 1268.4 L1052.7 1268.9 L1053.7 1269.3 L1054.7 1269.8 L1055.7 1270.1 L1056.7 1270.3 L1057.7 1270.5 L1058.7 1270.7 L1059.7 1270.2 L1060.7 1269.7 L1061.7 1269.6 L1062.7 1269.3 L1063.7 1269.1 L1064.7 1269.5 L1065.7 1269.3 L1066.7 1268.7 L1067.7 1268.3 L1068.7 1268.4 L1069.7 1268.3 L1070.7 1268.6 L1071.7 1269.5 L1072.7 1269.6 L1073.7 1269.5 L1074.7 1269.4 L1075.7 1269 L1076.7 1269 L1077.4 1269.3 L1077.7 1270 L1078.7 1270.2 L1079.7 1269.9 L1080.7 1269.6 L1081.7 1268.9 L1082.7 1268 L1083.7 1267.9 L1084.7 1268.9 L1085.7 1270.3 L1086.7 1271.4 L1087.7 1271.8 L1088.7 1271.7 L1089.7 1270.9 L1090.7 1269.7 L1091.7 1269.1 L1092.7 1269.1 L1093.7 1269.6 L1094.7 1270.3 L1095.7 1270.5 L1096.7 1270.3 L1097.7 1270.3 L1098.7 1270.5 L1099.7 1270.6 L1100.7 1270.7 L1101.7 1270.6 L1102.7 1270.6 L1103.7 1270.1 L1104.7 1270 L1105.7 1269.8 L1106.7 1269.5 L1107.7 1269.6 L1108.7 1270.2 L1109.7 1270.2 L1110.7 1269.5 L1111.7 1269.2 L1112.7 1269.3 L1113.7 1269.3 L1114.7 1269.2 L1115.5 1269.4 L1115.7 1270.1 L1116.7 1270.9 L1117.7 1271.1 L1118.7 1270.8 L1119.7 1270.9 L1120.7 1271 L1121.7 1270.8 L1122.7 1271 L1123.7 1271.3 L1124.7 1271 L1125.7 1271.3 L1126.7 1272 L1127.7 1272.6 L1128.7 1273.1 L1129.7 1273.4 L1130.7 1273.7 L1131.7 1273.1 L1132.7 1272 L1133.7 1270.6 L1134.7 1270.2 L1135.7 1270.2 L1136.7 1269.8 L1137.7 1269.6 L1138.7 1269.9 L1139.7 1270.7 L1140.7 1271.6 L1141.7 1272 L1142.7 1271.8 L1143.7 1272.2 L1144.7 1272 L1145.7 1271.7 L1146.7 1271.9 L1147.7 1271.5 L1148.7 1271 L1149.7 1270.7 L1150.7 1270.4 L1151.7 1270.2 L1152.7 1269.8 L1153.7 1269.6 L1154.7 1269.6 L1155.7 1268.9 L1156.7 1268.7 L1157.7 1269.1 L1158.7 1269.5 L1159.7 1269.2 L1160.7 1268.7 L1161.7 1268.2 L1162.7 1267.9 L1163.7 1268 L1164.7 1268.4 L1165.7 1269.2 L1166.7 1270 L1167.7 1271 L1168.7 1271.1 L1169.7 1270.2 L1170.7 1269.7 L1171.7 1268.8 L1172.7 1267.9 L1173.7 1267.6 L1174.7 1267.7 L1175.7 1268.2 L1176.7 1268.1 L1177.7 1268.3 L1178.7 1268.7 L1179.7 1268.8 L1180.7 1269.2 L1181.7 1269.4 L1182.7 1269.4 L1183.7 1269.6 L1184.7 1269.8 L1185.7 1269.9 L1186.7 1270 L1187.7 1270.2 L1188.7 1270 L1189.7 1269.8 L1190.7 1269.8 L1191.7 1269.7 L1192.7 1269.5 L1193.7 1269.4 L1194.7 1269.3 L1195.7 1269.5 L1196.7 1269.7 L1197.7 1269.3 L1198.7 1268.6 L1199.7 1269.2 L1200.7 1269.9 L1201.7 1270.1 L1202.7 1270.2 L1203.7 1270.3 L1204.7 1270.3 L1205.7 1270.4 L1206.7 1270.7 L1207.7 1270.6 L1208.7 1270.4 L1209.7 1270.6 L1210.7 1271.1 L1211.7 1271.3 L1212.7 1271.3 L1213.7 1270.6 L1214.7 1269.6 L1215.7 1268.7 L1216.7 1268.1 L1217.7 1267.8 L1218.7 1267.9 L1219.7 1268 L1220.7 1268.9 L1221.7 1270.1 L1222.7 1270.5 L1223.7 1270 L1224.7 1269.7 L1225.7 1269.6 L1226.7 1269.9 L1227.7 1269.9 L1228.7 1269.8 L1229.7 1269.6 L1230.7 1269.7 L1231.7 1269.6 L1232.7 1269.9 L1233.7 1270.3 L1234.7 1270 L1235.7 1270.1 L1236.7 1270.2 L1237.7 1269.6 L1238.7 1269.5 L1239.7 1269.6 L1240.7 1269.6 L1241.7 1269.6 L1242.7 1269.7 L1243.7 1270.3 L1244.7 1270.9 L1245.7 1270.6 L1246.7 1270.5 L1247.7 1270.4 L1248.7 1269.7 L1249.7 1268.9 L1250.7 1268.1 L1251.7 1267.7 L1252.7 1267.8 L1253.7 1268.2 L1254.7 1268.5 L1255.7 1269.6 L1256.7 1270.3 L1257.7 1270.6 L1258.7 1270.7 L1259.7 1270.1 L1260.7 1269.5 L1261.7 1268.9 L1262.7 1268.7 L1263.7 1269 L1264.7 1269.8 L1265.7 1270.6 L1266.7 1271 L1267.7 1271.9 L1268.7 1272.4 L1269.7 1271.7 L1270.7 1270.8 L1271.7 1270 L1272.7 1269.6 L1273.7 1269.5 L1274.7 1269.4 L1275.7 1269.8 L1276.7 1270.7 L1277.7 1271.7 L1278.7 1271.9 L1279.7 1271.6 L1280.7 1271.5 L1281.7 1271.4 L1282.7 1270.6 L1283.7 1269.9 L1284.7 1270 L1285.7 1270.5 L1286.7 1271.1 L1287.7 1271 L1288.7 1270.8 L1289.7 1270.7 L1290.7 1270.6 L1291.7 1270.8 L1292.7 1270.5 L1293.7 1270.4 L1294.7 1270.9 L1295.7 1271.4 L1296.7 1271.2 L1297.7 1270.7 L1298.7 1270.9 L1299.7 1271.1 L1300.7 1271.6 L1301.7 1272.3 L1302.7 1272.2 L1303.7 1271.4 L1304.7 1270.1 L1305.7 1268.9 L1306.7 1268 L1307.7 1267.9 L1308.7 1268.2 L1309.7 1268.6 L1310.7 1268.9 L1311.7 1269.3 L1312.7 1269.5 L1313.7 1269.4 L1314.7 1269.7 L1315.7 1269.5 L1316.7 1269.3 L1317.7 1269.1 L1318.7 1269.1 L1319.7 1269 L1320.7 1269.7 L1321.7 1270.6 L1322.7 1270.9 L1323.7 1270.8 L1324.7 1271.2 L1325.7 1271.3 L1326.7 1270.9 L1327.7 1270.6 L1328.7 1270.4 L1329.7 1270.2 L1330.7 1270.3 L1331.7 1270.5 L1332.7 1270.3 L1333.7 1270.3 L1334.7 1270.2 L1335.7 1270 L1336.7 1269.5 L1337.7 1269.4 L1338.7 1269.4 L1339.7 1269.7 L1340.7 1269.9 L1341.7 1270.6 L1342.7 1270.8 L1343.7 1270.8 L1344.7 1270.9 L1345.7 1270.9 L1346.7 1270.6 L1347.7 1269.9 L1348.7 1269.3 L1349.7 1269 L1350.7 1268.7 L1351.7 1268.5 L1352.7 1269 L1353.7 1269.5 L1354.7 1269.9 L1355.7 1270.5 L1356.7 1270.7 L1357.7 1270.5 L1358.7 1270.5 L1359.7 1270.5 L1360.7 1269.9 L1361.7 1269.2 L1362.7 1268.5 L1363.7 1268.2 L1364.7 1268.5 L1365.7 1269 L1366.7 1269.1 L1367.7 1268.8 L1368.7 1269 L1369.7 1269.4 L1370.7 1269.6 L1371.7 1269.6 L1372.7 1269.6 L1373.7 1269.3 L1374.7 1269.6 L1375.7 1270.5 L1376.7 1270.8 L1377.7 1271.1 L1378.7 1271.2 L1379.7 1271.1 L1380.7 1270.8 L1381.7 1270.6 L1382.7 1270.4 L1383.7 1270.4 L1384.7 1270.6 L1385.7 1270.8 L1386.7 1270.8 L1387.7 1270.8 L1388.7 1270.7 L1389.7 1270.4 L1390.7 1270.4 L1391.7 1270.4 L1392.7 1270.3 L1393.7 1270.6 L1394.7 1271.1 L1395.7 1271.3 L1396.7 1271 L1397.7 1270.8 L1398.7 1270.6 L1399.7 1270.5 L1400.7 1270.4 L1401.7 1270 L1402.7 1269.5 L1403.7 1269.6 L1404.7 1269.8 L1405.7 1270 L1406.7 1270.1 L1407.7 1270.1 L1408.7 1270.2 L1409.7 1270.4 L1410.7 1270.6 L1411.7 1270.4 L1412.7 1270.1 L1413.7 1269.9 L1414.7 1269.5 L1415.7 1268.9 L1416.7 1268.6 L1417.7 1268.3 L1418.7 1268.5 L1419.7 1269.2 L1420.7 1270.1 L1421.7 1270.8 L1422.7 1270.7 L1423.7 1270 L1424.7 1269.7 L1425.7 1269.6 L1426.7 1269.8 L1427.7 1269.9 L1428.7 1270 L1429.7 1270.1 L1430.7 1270.2 L1431.7 1270.2 L1432.7 1269.7 L1433.7 1269.4 L1434.7 1269.6 L1435.7 1269.6 L1436.7 1269.3 L1437.7 1269.3 L1438.7 1269.4 L1439.7 1269.4 L1440.7 1269.8 L1441.7 1270.5 L1442.7 1270.9 L1443.7 1270.9 L1444.7 1270.2 L1445.7 1269.5 L1446.7 1269 L1447.7 1268.7 L1448.7 1268.2 L1449.7 1267.9 L1450.7 1267.8 L1451.7 1268.3 L1452.7 1269.4 L1453.7 1270.3 L1454.7 1270.7 L1455.7 1270.7 L1456.7 1270.6 L1457.7 1270.4 L1458.7 1270.4 L1459.7 1270.4 L1460.7 1270.3 L1461.7 1270.6 L1462.7 1270.7 L1463.7 1270.6 L1464.7 1270.5 L1465.7 1270.1 L1466.7 1269.9 L1467.7 1269.7 L1468.7 1269.4 L1469.7 1269.2 L1470.7 1269.1 L1471.7 1269.1 L1472.7 1269.3 L1473.7 1269.8 L1474.7 1270.2 L1475.7 1270.3 L1476.7 1270.4 L1477.7 1270.5 L1478.7 1270.5 L1479.7 1270.2 L1480.7 1270 L1481.7 1269.7 L1482.7 1269.5 L1483.7 1269.7 L1484.7 1270.1 L1485.7 1270.5 L1486.7 1270.7 L1487.7 1270.6 L1488.7 1270.4 L1489.7 1270.4 L1490.7 1270.4 L1491.7 1270.2 L1492.7 1270.1 L1493.7 1270.3 L1494.7 1270.2 L1495.7 1269.9 L1496.7 1269.5 L1497.7 1269.2 L1498.7 1269.2 L1499.7 1269 L1500.7 1269.1 L1501.7 1269.5 L1502.7 1269.7 L1503.7 1269.8 L1504.7 1269.8 L1505.7 1269.9 L1506.7 1270.2 L1507.7 1270.6 L1508.7 1270.8 L1509.7 1270.8 L1510.7 1270.5 L1511.7 1270.4 L1512.7 1270.1 L1513.7 1270 L1514.7 1269.9 L1515.7 1270.1 L1516.7 1270.2 L1517.7 1270.1 L1518.7 1270.4 L1519.7 1270.8 L1520.7 1270.8 L1521.7 1270.7 L1522 1271"/>
</g>
<g font-size="50" text-anchor="end" fill="#000">
<text x="919" y="1220.5">0.25</text>
<text x="919" y="1117.2">0.50</text>
<text x="919" y="1013.8">0.75</text>
<text x="919" y="910.4">1.00</text>
</g>
<text x="960.25" y="970.60" font-size="50" textLength="445.94" lengthAdjust="spacingAndGlyphs">(f) Outer Macrocycle</text>
<path d="M1245.6 1067.3H1361.9" stroke="#000" stroke-width="5.0"/>
<text x="1373.19" y="1085.70" font-size="50" textLength="107.00" lengthAdjust="spacingAndGlyphs">ChlA</text>
<path d="M1245.6 1127.4H1361.9" stroke="#d40000" stroke-width="5.0"/>
<text x="1373.15" y="1145.60" font-size="50" textLength="108.69" lengthAdjust="spacingAndGlyphs">ChlB</text>
<g stroke="#000" stroke-width="2.2" fill="none" stroke-linecap="round">
<rect x="173.5" y="1328.2" width="591.8" height="413.6" stroke-linejoin="round"/>
<path d="M321.4 1741.8V1735.8 M321.4 1328.2V1334.2 M469.4 1741.8V1735.8 M469.4 1328.2V1334.2 M617.3 1741.8V1735.8 M617.3 1328.2V1334.2 M173.5 1690.1H179.5 M765.3 1690.1H759.3 M173.5 1535H179.5 M765.3 1535H759.3 M173.5 1379.9H179.5 M765.3 1379.9H759.3"/>
</g>
<clipPath id="c6"><rect x="172.5" y="1327.2" width="593.8" height="415.6"/></clipPath>
<g clip-path="url(#c6)" fill="none" stroke-width="5.5" stroke-linejoin="round" stroke-linecap="round">
<path stroke="#000" d="M174.1 1523.4 L175.1 1538.6 L176.1 1528.5 L177.1 1517.8 L178.1 1507.3 L179.1 1497.2 L180.1 1487.1 L181.1 1477.3 L181.2 1476.5 L182.1 1471.8 L183.1 1466.8 L184.1 1461.7 L185.1 1456.7 L185.2 1456 L186.1 1454.1 L187.1 1452.1 L188.1 1449.9 L188.3 1449.7 L189.1 1451.3 L190.1 1452.7 L191.1 1454.1 L191.3 1454.5 L192.1 1441.7 L193.1 1425.8 L193.4 1421.2 L194.1 1416.4 L195.1 1409.5 L195.9 1403.9 L196.1 1404 L197.1 1405.5 L198.1 1407.2 L199.1 1409.1 L199.5 1410.1 L200.1 1412.4 L201.1 1415.4 L202.1 1418.4 L203.1 1421.5 L204.1 1424.6 L204.6 1425.8 L205.1 1427.1 L206.1 1430.3 L207.1 1433.8 L208.1 1437.3 L208.6 1439.1 L209.1 1440.2 L210.1 1441.7 L211.1 1443.2 L212.1 1444.8 L213.1 1446.2 L214.1 1447.7 L214.7 1448.7 L215.1 1448 L216.1 1446.6 L217.1 1445.1 L217.8 1444.1 L218.1 1445.7 L219.1 1450.1 L220.1 1454.6 L221.1 1459 L222.1 1463.3 L222.8 1466.3 L223.1 1466.8 L224.1 1467.8 L225.1 1468.5 L226.1 1469.2 L226.9 1469.9 L227.1 1470.8 L228.1 1475.3 L229.1 1480.2 L230.1 1484.8 L231 1489 L231.1 1488.9 L232.1 1488.5 L233.1 1487.8 L234.1 1487.3 L235.1 1486.7 L236.1 1486.5 L237.1 1486.3 L238.1 1486.1 L239.1 1485.9 L240.1 1490.7 L241.1 1495.4 L242.1 1500.3 L243.1 1505 L243.2 1505.4 L244.1 1505.8 L245.1 1506.4 L246.1 1506.8 L247.1 1507.2 L248.1 1507.6 L249.1 1508.7 L250.1 1509.4 L251.1 1509.8 L251.3 1509.9 L252.1 1510.4 L253.1 1511 L254.1 1511.7 L255.1 1512.3 L256.1 1512.8 L256.4 1512.7 L257.1 1513.1 L258.1 1514.1 L259.1 1515.5 L260.1 1517.1 L261.1 1518.6 L262.1 1520 L263.1 1521.1 L263.5 1521.1 L264.1 1519.9 L265.1 1518.2 L266.1 1516.4 L267.1 1514.9 L268.1 1513.9 L269.1 1512.6 L269.6 1512.3 L270.1 1513.1 L271.1 1514.1 L272.1 1515 L273.1 1516.2 L274.1 1517 L275.1 1517.9 L276.1 1519.2 L276.7 1520.1 L277.1 1520.6 L278.1 1521 L279.1 1521.5 L280.1 1522.2 L281.1 1522.8 L282.1 1523.5 L283.1 1524 L284.1 1524.5 L285.1 1524.8 L286.1 1524.9 L286.9 1525 L287.1 1524.5 L288.1 1523.1 L289.1 1521.7 L290.1 1520.4 L291.1 1519.3 L292.1 1518.6 L293 1518 L293.1 1518.2 L294.1 1520 L295.1 1521.4 L296.1 1523 L297.1 1524.6 L298.1 1526.4 L299.1 1528.1 L300.1 1529.8 L301.1 1530.8 L302.1 1531.3 L303.1 1531.7 L304.1 1532.3 L305.1 1532.8 L306.1 1533.5 L307.1 1534.1 L308.1 1534.7 L309.1 1535.4 L310.1 1535.8 L310.2 1535.8 L311.1 1535.5 L312.1 1535 L313.1 1534.2 L314.1 1533.8 L315.1 1533.9 L315.3 1534.3 L316.1 1535.6 L317.1 1537.4 L318.1 1539.1 L319.1 1540.3 L320.1 1540.8 L321.1 1541.1 L322.1 1541.4 L323.1 1541.4 L324.1 1541.7 L324.5 1541.7 L325.1 1541.7 L326.1 1542.3 L327.1 1543 L328.1 1543.2 L329.1 1543.6 L330 1544.1 L330.1 1543.9 L331.1 1543.2 L332.1 1542.1 L333.1 1541.2 L334.1 1540.4 L335.1 1539.8 L336.1 1540.2 L337.1 1540.9 L338.1 1541.3 L339.1 1541.5 L340.1 1541.2 L341.1 1540.6 L341.4 1540.3 L342.1 1540.4 L343.1 1540.7 L344.1 1541 L345.1 1540.9 L346.1 1540.4 L347.1 1540 L348.1 1539.9 L349.1 1540.5 L350.1 1541 L351.1 1541.3 L352.1 1542.1 L353.1 1542.8 L354.1 1542.8 L355.1 1542.4 L356.1 1542.4 L357.1 1541.9 L358.1 1541.6 L359.1 1541.7 L360.1 1542.2 L360.5 1542.7 L361.1 1543.3 L362.1 1544 L363.1 1544.3 L364.1 1544.5 L365.1 1544.3 L366.1 1544.6 L367.1 1545.2 L368.1 1545 L369.1 1544.4 L370.1 1544.3 L371.1 1544.8 L372.1 1545 L373.1 1544.7 L374.1 1544.3 L375.1 1544.2 L376.1 1544.1 L377.1 1544.4 L378.1 1543.9 L379.1 1543.2 L379.5 1542.8 L380.1 1542.3 L381.1 1542.2 L382.1 1542.2 L383.1 1542.4 L384.1 1542.9 L385.1 1543.2 L386.1 1543.8 L387.1 1544.2 L388.1 1544.4 L389.1 1544.4 L390.1 1544.1 L391.1 1543.5 L392.1 1543.2 L393.1 1543.2 L394.1 1543.1 L395.1 1543 L396.1 1543.3 L397.1 1543.7 L398.1 1543.4 L398.6 1542.8 L399.1 1542.2 L400.1 1540.9 L401.1 1539.7 L402.1 1539.4 L403.1 1539.7 L404.1 1540.1 L405.1 1541.2 L406.1 1542.1 L407.1 1542.2 L408.1 1542.1 L409.1 1542.1 L410.1 1542 L411.1 1542.2 L412.1 1542.4 L413.1 1542.7 L414.1 1543.3 L415.1 1543.5 L416.1 1543.9 L417.1 1544.4 L418.1 1544.4 L419.1 1543.8 L420.1 1543.2 L421.1 1543.1 L422.1 1542.7 L423.1 1542.3 L424.1 1541.6 L425.1 1541.5 L426.1 1541.9 L427.1 1541.7 L428.1 1542 L429.1 1542.7 L430.1 1543.3 L431.1 1543.5 L432.1 1544 L433.1 1544.1 L434.1 1543.5 L435.1 1542.5 L436.1 1541.7 L436.7 1541.2 L437.1 1541.1 L438.1 1541.4 L439.1 1541.7 L440.1 1542.6 L441.1 1543.8 L442.1 1544.3 L443.1 1543.8 L444.1 1543.2 L445.1 1542.7 L446.1 1542.5 L447.1 1541.8 L448.1 1541.7 L449.1 1542.4 L450.1 1543.2 L451.1 1543.9 L452.1 1544.4 L453.1 1544.6 L454.1 1544.4 L455.1 1544 L456.1 1543.5 L457.1 1543.4 L458.1 1543.3 L459.1 1542.9 L460.1 1542.5 L461.1 1542.1 L462.1 1542.4 L463.1 1542.6 L464.1 1542.6 L465.1 1542.8 L466.1 1543.1 L467.1 1543.5 L468.1 1543.3 L469.1 1542.9 L470 1542.6 L470.1 1542.2 L471.1 1542.4 L472.1 1542.6 L473.1 1542.4 L474.1 1541.7 L475.1 1541.1 L476.1 1540.9 L477.1 1540.4 L478.1 1539.8 L479.1 1539.3 L480.1 1539 L481.1 1540 L482.1 1541.3 L483.1 1542.2 L484.1 1543.3 L485.1 1543.7 L486.1 1543.4 L487.1 1542.5 L488.1 1541.7 L489.1 1541.4 L490.1 1541.6 L491.1 1541.9 L492.1 1542.1 L493.1 1542.1 L494.1 1541.6 L495.1 1541.3 L496.1 1541.2 L497.1 1540.9 L498.1 1541.2 L499 1541.6 L499.1 1541.7 L500.1 1541.2 L501.1 1541 L502.1 1541.2 L503.1 1541.6 L504.1 1541.5 L505.1 1541 L506.1 1541.1 L507.1 1540.8 L508.1 1540.3 L509.1 1540 L510.1 1540.1 L511.1 1540.5 L512.1 1540.8 L513.1 1541.1 L514.1 1541.5 L515.1 1541.6 L516.1 1541.5 L517.1 1540.8 L518.1 1539.8 L519.1 1538.8 L520.1 1538.5 L521.1 1538.4 L522.1 1539 L523.1 1540 L524.1 1540.8 L525.1 1541.3 L526.1 1541.1 L527.1 1541.1 L528.1 1541 L529.1 1540.5 L530.1 1540.3 L531.1 1540.1 L532.1 1540 L533.1 1540.3 L534.1 1540.5 L535.1 1540.7 L536.1 1540.9 L537.1 1540.8 L538.1 1540 L538.7 1539.3 L539.1 1539 L540.1 1539.2 L541.1 1538.9 L542.1 1538.8 L543.1 1539.2 L544.1 1539.7 L545.1 1539.8 L546.1 1539.8 L547.1 1540 L548.1 1539.4 L549.1 1539.1 L550.1 1539.7 L551.1 1539.6 L552.1 1539.1 L553.1 1539.1 L554.1 1539.3 L555.1 1539.8 L556.1 1540 L557.1 1540.3 L558.1 1540.8 L559.1 1540.9 L560.1 1540.8 L561.1 1540.2 L562.1 1540.1 L563.1 1539.8 L564.1 1538.9 L565.1 1538.2 L566.1 1538 L567.1 1537.9 L568.1 1538.2 L569.1 1538.6 L570.1 1538.6 L571.1 1538.3 L572.1 1538.1 L573.1 1537.7 L574.1 1537.5 L575.1 1537.3 L576.1 1537.3 L577.1 1537.7 L578.1 1538.1 L579.1 1538.6 L580.1 1539.1 L581.1 1539.3 L582.1 1538.9 L583.1 1538.8 L584.1 1539.3 L585.1 1538.8 L586.1 1538.2 L587.1 1538.2 L588.1 1537.7 L589.1 1536.9 L590.1 1535.9 L591.1 1535.6 L592.1 1536.2 L593.1 1536.1 L594.1 1536.1 L595.1 1536 L596.1 1536.1 L597.1 1536.2 L598.1 1536.2 L599.1 1535.7 L600.1 1535.3 L601.1 1535.4 L602.1 1535.3 L603.1 1535.2 L604.1 1535.7 L605.1 1536.2 L606.1 1536.6 L607.1 1536.7 L608.1 1536 L609.1 1535 L610.1 1534.6 L611.1 1534.5 L612.1 1534.5 L613.1 1535.2 L614.1 1536.3 L615.1 1537.2 L616.1 1537.6 L617.1 1537.8 L617.5 1537.4 L618.1 1536.7 L619.1 1536.3 L620.1 1535.9 L621.1 1535.6 L622.1 1535.5 L623.1 1535.4 L624.1 1535.4 L625.1 1535.7 L626.1 1535.6 L627.1 1535.1 L628.1 1535.1 L629.1 1535.2 L630.1 1534.7 L631.1 1534.3 L632.1 1533.6 L633.1 1533.3 L634.1 1533.5 L635.1 1534.1 L636.1 1534.6 L637.1 1535.6 L638.1 1535.8 L639.1 1534.9 L640.1 1535 L641.1 1535.2 L642.1 1535.2 L643.1 1534.7 L644.1 1534.3 L645.1 1534.2 L646.1 1534.2 L647.1 1534.8 L648.1 1535.4 L649.1 1535.9 L650.1 1536.5 L651.1 1536.4 L652.1 1535.5 L653.1 1535.4 L654.1 1535.5 L655.1 1535.5 L656.1 1536.3 L657.1 1537 L658.1 1537.3 L659.1 1537.1 L660.1 1536.7 L661.1 1536.2 L662.1 1535.8 L663.1 1535.7 L664.1 1535.4 L665.1 1534.9 L666.1 1534.8 L667.1 1534.9 L668.1 1535.1 L669.1 1535.1 L670.1 1535 L671.1 1535.4 L672.1 1535.4 L673.1 1535.7 L674.1 1535.8 L675.1 1535.5 L676.1 1535.4 L677.1 1535.4 L678.1 1535.5 L679.1 1535.9 L680.1 1535.9 L681.1 1536.2 L682.1 1536.4 L683.1 1536.9 L684.1 1537.6 L685.1 1537.2 L686.1 1536.7 L687.1 1536.1 L688.1 1535.8 L689.1 1536.2 L690.1 1536.8 L691.1 1536.8 L692.1 1535.8 L693.1 1534.5 L694.1 1533.7 L695.1 1532.8 L696 1532.1 L696.1 1532.3 L697.1 1532.9 L698.1 1533.3 L699.1 1533.3 L700.1 1533.4 L701.1 1533.8 L702.1 1533.1 L703.1 1532.2 L704.1 1532.2 L705.1 1533.3 L706.1 1534.5 L707.1 1535 L708.1 1535.1 L709.1 1534.4 L710.1 1533.9 L711.1 1534 L712.1 1533.8 L713.1 1534.3 L714.1 1535.7 L715.1 1536.9 L716.1 1537.4 L717.1 1537.3 L718.1 1537.1 L719.1 1536.1 L720.1 1535.2 L721.1 1534.8 L722.1 1534.4 L723.1 1534.6 L724.1 1535 L725.1 1535.3 L726.1 1536.1 L727.1 1536.8 L728.1 1537.3 L729.1 1537.8 L730.1 1537.9 L731.1 1537.3 L732.1 1536.8 L733.1 1536.5 L734.1 1536.4 L735.1 1536.2 L736.1 1536.5 L737.1 1537 L738.1 1537.1 L739.1 1537 L740.1 1536.8 L741.1 1536.5 L742.1 1536.4 L743.1 1536.2 L744.1 1535.8 L745.1 1535.5 L746.1 1535.4 L747.1 1535.6 L748.1 1535.5 L749.1 1535.6 L750.1 1535.5 L751.1 1535.1 L752.1 1534.2 L753.1 1533.8 L754.1 1533.6 L755.1 1533.3 L756.1 1533.3 L757.1 1533.6 L758.1 1533.4 L759.1 1533.2 L760.1 1533.4 L761.1 1534.1 L762.1 1534.4 L763.1 1534.8 L764.1 1534.6 L765 1534"/>
<path stroke="#000" stroke-width="6.2" d="M174.1 1523.4 L175.1 1538.6 L176.1 1528.5 L177.1 1517.8 L178.1 1507.3 L179.1 1497.2 L180.1 1487.1 L181.1 1477.3 L181.2 1476.5 L182.1 1471.8 L183.1 1466.8 L184.1 1461.7 L185.1 1456.7 L185.2 1456 L186.1 1454.1 L187.1 1452.1 L188.1 1449.9 L188.3 1449.7 L189.1 1451.3 L190.1 1452.7 L191.1 1454.1 L191.3 1454.5 L192.1 1441.7 L193.1 1425.8 L193.4 1421.2 L194.1 1416.4 L195.1 1409.5 L195.9 1403.9 L196.1 1404 L197.1 1405.5 L198.1 1407.2 L199.1 1409.1 L199.5 1410.1 L200.1 1412.4 L201.1 1415.4 L202.1 1418.4 L203.1 1421.5 L204.1 1424.6 L204.6 1425.8 L205.1 1427.1 L206.1 1430.3 L207.1 1433.8 L208.1 1437.3 L208.6 1439.1 L209.1 1440.2 L210.1 1441.7 L211.1 1443.2 L212.1 1444.8 L213.1 1446.2 L214.1 1447.7 L214.7 1448.7 L215.1 1448 L216.1 1446.6 L217.1 1445.1 L217.8 1444.1 L218.1 1445.7 L219.1 1450.1 L220.1 1454.6 L221.1 1459 L222.1 1463.3 L222.8 1466.3 L223.1 1466.8 L224.1 1467.8 L225.1 1468.5 L226.1 1469.2 L226.9 1469.9 L227.1 1470.8 L228.1 1475.3 L229.1 1480.2 L230.1 1484.8 L231 1489 L231.1 1488.9 L232.1 1488.5 L233.1 1487.8 L234.1 1487.3 L235.1 1486.7 L236.1 1486.5 L237.1 1486.3 L238.1 1486.1 L239.1 1485.9 L240.1 1490.7 L241.1 1495.4 L242.1 1500.3 L243.1 1505 L243.2 1505.4 L244.1 1505.8 L245.1 1506.4 L246.1 1506.8 L247.1 1507.2 L248.1 1507.6 L249.1 1508.7 L250.1 1509.4 L251.1 1509.8 L251.3 1509.9 L252.1 1510.4 L253.1 1511 L254.1 1511.7 L255.1 1512.3 L256.1 1512.8 L256.4 1512.7 L257.1 1513.1 L258.1 1514.1 L259.1 1515.5"/>
<path stroke="#d40000" d="M174.1 1579.7 L175.1 1562.4 L175.6 1553.6 L176.1 1558.5 L177.1 1568.6 L178.1 1578.5 L179.1 1566.8 L180.1 1554.9 L181.1 1542.9 L181.7 1535.9 L182.1 1539.6 L183.1 1549.2 L184.1 1559 L184.2 1560.1 L185.1 1556.8 L186.1 1553.4 L186.3 1553 L187.1 1555.2 L188.1 1557.5 L188.8 1559.1 L189.1 1558.4 L190.1 1555.9 L191.1 1553.4 L191.3 1553.2 L192.1 1554.3 L193.1 1555.5 L194.1 1556.9 L194.4 1557.2 L195.1 1555.6 L196.1 1553.6 L197.1 1551.4 L197.4 1550.3 L198.1 1551.2 L199.1 1552.8 L200.1 1554.2 L200.5 1554.7 L201.1 1553.1 L202.1 1550.5 L203.1 1548.1 L203.5 1547 L204.1 1545.5 L205.1 1543 L206.1 1540.6 L207.1 1538.1 L207.6 1536.5 L208.1 1537.8 L209.1 1540.8 L210.1 1543.5 L210.7 1544.6 L211.1 1545.4 L212.1 1548.2 L213.1 1551.2 L213.7 1553 L214.1 1553.2 L215.1 1553.7 L216.1 1554.4 L217.1 1555.4 L218.1 1556.8 L218.8 1557.5 L219.1 1557.5 L220.1 1558.3 L221.1 1558.9 L222.1 1559.8 L223.1 1560.9 L223.9 1561.4 L224.1 1561.7 L225.1 1562.5 L226.1 1563.3 L227.1 1564.3 L228.1 1565.2 L228.9 1565.7 L229.1 1565.3 L230.1 1563.9 L231.1 1562.4 L232 1560.9 L232.1 1560.8 L233.1 1560.3 L234.1 1559.4 L235.1 1558.6 L236.1 1557.6 L237.1 1556.8 L238.1 1557.6 L239.1 1558.6 L240.1 1560 L241.1 1561.2 L242.1 1562.3 L243.1 1563.6 L243.2 1563.6 L244.1 1563.2 L245.1 1563.1 L246.1 1563.2 L247.1 1563.1 L248.1 1562.8 L248.3 1562.6 L249.1 1562.9 L250.1 1563.3 L251.1 1563.7 L252.1 1564.3 L253.1 1564.9 L254.1 1565.6 L254.3 1565.8 L255.1 1565.2 L256.1 1564.3 L257.1 1563.5 L258.1 1562.5 L259.1 1561.3 L259.4 1560.3 L260.1 1561.1 L261.1 1562.5 L262.1 1563.7 L263.1 1565.5 L263.5 1566.7 L264.1 1567 L265.1 1567 L266.1 1566.7 L267.1 1566.1 L268.1 1565.6 L269.1 1564.9 L269.6 1564.5 L270.1 1564.3 L271.1 1564.2 L272.1 1564 L273.1 1563.8 L274.1 1564.1 L275.1 1564.2 L276.1 1563.6 L276.7 1563 L277.1 1562.8 L278.1 1562.7 L279.1 1562.5 L280.1 1562.4 L281.1 1562.4 L282.1 1562.5 L283.1 1562.6 L284.1 1562.2 L285.1 1561.7 L286.1 1561.4 L286.9 1561.1 L287.1 1560.9 L288.1 1560.7 L289.1 1560.1 L290.1 1559.2 L291.1 1558.8 L292.1 1558.8 L293.1 1559.3 L294.1 1559.9 L295.1 1560.7 L296.1 1561.4 L297 1561.7 L297.1 1561.3 L298.1 1560.1 L299.1 1559.1 L300.1 1558.4 L301.1 1557.7 L302.1 1556.8 L303.1 1556.5 L304.1 1556.8 L305.1 1557 L305.2 1556.9 L306.1 1557 L307.1 1557.5 L308.1 1558 L309.1 1558.3 L310.1 1558.7 L311.1 1558.9 L312.1 1558.8 L313.1 1558.7 L314.1 1558.8 L315.1 1558.4 L316.1 1558.1 L317.1 1557.7 L317.4 1557 L318.1 1557.2 L319.1 1557.7 L320.1 1557.9 L321.1 1558.4 L322.1 1558.9 L323.1 1558.9 L324.1 1558.5 L325.1 1558.3 L326.1 1557.6 L327.1 1557 L328.1 1557 L329.1 1557.4 L330 1557.8 L330.1 1558.2 L331.1 1558.9 L332.1 1559 L333.1 1558.8 L334.1 1558.5 L335.1 1558.1 L336.1 1557.6 L337.1 1556.7 L338.1 1555.7 L339.1 1555 L340.1 1555.6 L341.1 1556.5 L341.4 1556.8 L342.1 1557.4 L343.1 1558.2 L344.1 1559 L345.1 1559.7 L346.1 1559.7 L347.1 1558.7 L348.1 1556.9 L349.1 1555.4 L350.1 1554.5 L351.1 1554.4 L352.1 1555.2 L353.1 1555.9 L354.1 1556.4 L355.1 1556.7 L356.1 1557.1 L357.1 1557.1 L358.1 1556.4 L359.1 1555.6 L360.1 1554.6 L360.5 1553.9 L361.1 1553.6 L362.1 1553.7 L363.1 1554.1 L364.1 1554.9 L365.1 1555.5 L366.1 1555.1 L367.1 1554.6 L368.1 1554.1 L369.1 1553.5 L370.1 1552.4 L371.1 1551.5 L372.1 1550.7 L373.1 1549.9 L374.1 1549.9 L375.1 1550.9 L376.1 1552.2 L377.1 1553.1 L378.1 1553.3 L379.1 1553.6 L379.5 1554.1 L380.1 1554.3 L381.1 1554 L382.1 1554.1 L383.1 1553.6 L384.1 1552.4 L385.1 1552.2 L386.1 1552.9 L387.1 1553.1 L388.1 1553.1 L389.1 1552.6 L390.1 1552.2 L391.1 1551.8 L392.1 1551.3 L393.1 1551.4 L394.1 1552 L395.1 1552.3 L396.1 1552.7 L397.1 1553.4 L398.1 1553.8 L398.6 1553.6 L399.1 1553.2 L400.1 1553.3 L401.1 1552.4 L402.1 1551 L403.1 1549.5 L404.1 1548.4 L405.1 1547.4 L406.1 1546.9 L407.1 1546.4 L408.1 1546.2 L409.1 1546.8 L410.1 1548 L411.1 1549.2 L412.1 1549.9 L413.1 1550.1 L414.1 1550.1 L415.1 1549.9 L416.1 1549.7 L417.1 1549.7 L417.6 1549.4 L418.1 1549.6 L419.1 1550.6 L420.1 1551.5 L421.1 1551.8 L422.1 1551.8 L423.1 1551.7 L424.1 1551 L425.1 1549.7 L426.1 1548.7 L427.1 1548 L428.1 1547.6 L429.1 1547.4 L430.1 1547.3 L431.1 1547.2 L432.1 1547.1 L433.1 1546.8 L434.1 1547.2 L435.1 1547.7 L436.1 1548.2 L436.7 1548.6 L437.1 1548.7 L438.1 1547.9 L439.1 1547.3 L440.1 1547.8 L441.1 1548.9 L442.1 1549.7 L443.1 1550 L444.1 1549.7 L445.1 1548.6 L446.1 1546.7 L447.1 1545.5 L448.1 1545.1 L449.1 1544.8 L450.1 1545 L451.1 1545.5 L452.1 1545.8 L453.1 1545.4 L454.1 1544.8 L455.1 1544.6 L456.1 1544.5 L457.1 1544 L458.1 1543.3 L459.1 1543.2 L460.1 1543.7 L461.1 1543.5 L462.1 1543.7 L463.1 1544.9 L464.1 1546.4 L465.1 1547.1 L466.1 1547.2 L467.1 1547.1 L468.1 1546.9 L469.1 1546.2 L470 1545.3 L470.1 1544.6 L471.1 1543.6 L472.1 1543.4 L473.1 1543.2 L474.1 1542.9 L475.1 1542.2 L476.1 1541.9 L477.1 1541.8 L478.1 1542 L479.1 1542.6 L480.1 1542.8 L481.1 1542.9 L482.1 1543.2 L483.1 1543.4 L484.1 1543.4 L485.1 1543.7 L486.1 1544 L487.1 1544.1 L488.1 1544.2 L489.1 1544.2 L490.1 1544.5 L491.1 1544.7 L492.1 1544.7 L493.1 1544.4 L494.1 1543.5 L495.1 1542.2 L496.1 1541.6 L497.1 1541.5 L498.1 1541.5 L499.1 1541.9 L499.4 1542.1 L500.1 1542 L501.1 1542.1 L502.1 1541.9 L503.1 1542.3 L504.1 1542.6 L505.1 1542.7 L506.1 1542.7 L507.1 1543 L508.1 1543.7 L509.1 1544.4 L510.1 1545 L511.1 1545.4 L512.1 1545.4 L513.1 1545.2 L514.1 1544.7 L515.1 1543.7 L516.1 1543.4 L517.1 1543.7 L518.1 1544 L519.1 1543.6 L520.1 1542.7 L521.1 1542.5 L522.1 1542.6 L523.1 1542 L524.1 1540.9 L525.1 1540.4 L526.1 1540.6 L527.1 1541.2 L528.1 1541.5 L529.1 1541.7 L530.1 1541.9 L531.1 1542.6 L532.1 1542.9 L533.1 1542.9 L534.1 1543.1 L535.1 1543.1 L536.1 1543 L537.1 1543 L538.1 1543.2 L538.7 1543.4 L539.1 1543.2 L540.1 1543.3 L541.1 1544 L542.1 1544.9 L543.1 1545.3 L544.1 1545.4 L545.1 1545.1 L546.1 1544.5 L547.1 1544.3 L548.1 1544.3 L549.1 1544.5 L550.1 1544.7 L551.1 1544.2 L552.1 1543.4 L553.1 1542.9 L554.1 1541.8 L555.1 1541.4 L556.1 1541.5 L557.1 1540.9 L558.1 1541.1 L559.1 1541.6 L560.1 1541.8 L561.1 1542.2 L562.1 1542.8 L563.1 1543.9 L564.1 1544.8 L565.1 1545.1 L566.1 1545.1 L567.1 1544.5 L568.1 1543.3 L569.1 1542.3 L570.1 1541.4 L571.1 1540.8 L572.1 1540.5 L573.1 1540.4 L574.1 1540.6 L575.1 1541 L576.1 1541.5 L577.1 1542.3 L578.1 1542.5 L579.1 1542.2 L580.1 1541.5 L581.1 1540.6 L582.1 1540 L583.1 1539.9 L584.1 1540 L585.1 1540.5 L586.1 1541.8 L587.1 1543 L588.1 1543.4 L589.1 1543.2 L590.1 1542.8 L591.1 1542.6 L592.1 1542.5 L593.1 1542.6 L594.1 1542.7 L595.1 1542.7 L596.1 1542.5 L597.1 1541.8 L598.1 1541.7 L599.1 1542.3 L600.1 1542.6 L601.1 1542.1 L602.1 1541.4 L603.1 1540.1 L604.1 1539.6 L605.1 1539.4 L606.1 1539.9 L607.1 1540.9 L608.1 1541.8 L609.1 1541.8 L610.1 1541.5 L611.1 1540.9 L612.1 1540.4 L613.1 1540.2 L614.1 1540.3 L615.1 1540.6 L616.1 1540.9 L617.1 1541.2 L617.5 1541 L618.1 1540.7 L619.1 1540.2 L620.1 1539.9 L621.1 1540.3 L622.1 1540.9 L623.1 1541.1 L624.1 1541.3 L625.1 1541.3 L626.1 1540.7 L627.1 1540.1 L628.1 1539.9 L629.1 1540.2 L630.1 1540.2 L631.1 1540.1 L632.1 1539.9 L633.1 1539.7 L634.1 1539.5 L635.1 1539.6 L636.1 1539.9 L637.1 1541 L638.1 1542.1 L639.1 1542.9 L640.1 1543.3 L641.1 1543 L642.1 1541.7 L643.1 1540.5 L644.1 1539.6 L645.1 1538.7 L646.1 1538.1 L647.1 1538.6 L648.1 1539.6 L649.1 1541.1 L650.1 1542.5 L651.1 1543.2 L652.1 1543.2 L653.1 1542.8 L654.1 1542.6 L655.1 1542.6 L656.1 1541.9 L657.1 1540.9 L658.1 1540.7 L659.1 1540.4 L660.1 1540 L661.1 1539.3 L662.1 1539 L663.1 1539.8 L664.1 1540.9 L665.1 1541.5 L666.1 1541.6 L667.1 1541.5 L668.1 1541.7 L669.1 1541.3 L670.1 1540.7 L671.1 1540.6 L672.1 1541.1 L673.1 1541.8 L674.1 1541.8 L675.1 1541.3 L676.1 1540.7 L677.1 1540.2 L678.1 1539.9 L679.1 1539.9 L680.1 1540.4 L681.1 1541 L682.1 1541 L683.1 1540.7 L684.1 1540.7 L685.1 1540.6 L686.1 1540.2 L687.1 1539.8 L688.1 1539.7 L689.1 1539.8 L690.1 1540.2 L691.1 1540.9 L692.1 1541.3 L693.1 1541.3 L694.1 1541.6 L695.1 1541.6 L696.1 1541.6 L696.2 1541.7 L697.1 1541.9 L698.1 1541.7 L699.1 1541.6 L700.1 1542 L701.1 1542.3 L702.1 1542.4 L703.1 1542.8 L704.1 1542.9 L705.1 1542.9 L706.1 1542.7 L707.1 1542.4 L708.1 1541.8 L709.1 1541.2 L710.1 1540.5 L711.1 1539.5 L712.1 1538.4 L713.1 1537.9 L714.1 1538 L715.1 1538.6 L716.1 1539.6 L717.1 1540.2 L718.1 1540.8 L719.1 1540.9 L720.1 1540.7 L721.1 1540.9 L722.1 1541 L723.1 1540 L724.1 1539.1 L725.1 1538.9 L726.1 1539 L727.1 1539 L728.1 1538.6 L729.1 1538.4 L730.1 1538.2 L731.1 1538.4 L732.1 1538.5 L733.1 1538.2 L734.1 1538.4 L735.1 1538.7 L736.1 1539 L737.1 1539.3 L738.1 1539.7 L739.1 1539.7 L740.1 1540 L741.1 1540.9 L742.1 1541.7 L743.1 1542.2 L744.1 1542.7 L745.1 1542.7 L746.1 1542.6 L747.1 1542.4 L748.1 1541.4 L749.1 1540.2 L750.1 1540 L751.1 1540.4 L752.1 1541.3 L753.1 1542.1 L754.1 1542.1 L755.1 1541.4 L756.1 1540.3 L757.1 1539.4 L758.1 1538.4 L759.1 1538.5 L760.1 1539.5 L761.1 1540.8 L762.1 1542.5 L763.1 1543.8 L764.1 1544.7 L765 1545.2"/>
<path stroke="#d40000" stroke-width="6.6" d="M174.1 1579.7 L175.1 1562.4 L175.6 1553.6 L176.1 1558.5 L177.1 1568.6 L178.1 1578.5 L179.1 1566.8 L180.1 1554.9 L181.1 1542.9 L181.7 1535.9 L182.1 1539.6 L183.1 1549.2 L184.1 1559 L184.2 1560.1 L185.1 1556.8 L186.1 1553.4 L186.3 1553 L187.1 1555.2 L188.1 1557.5 L188.8 1559.1 L189.1 1558.4 L190.1 1555.9 L191.1 1553.4 L191.3 1553.2 L192.1 1554.3 L193.1 1555.5 L194.1 1556.9 L194.4 1557.2 L195.1 1555.6 L196.1 1553.6 L197.1 1551.4 L197.4 1550.3 L198.1 1551.2 L199.1 1552.8 L200.1 1554.2 L200.5 1554.7 L201.1 1553.1 L202.1 1550.5 L203.1 1548.1 L203.5 1547 L204.1 1545.5 L205.1 1543 L206.1 1540.6 L207.1 1538.1 L207.6 1536.5 L208.1 1537.8 L209.1 1540.8 L210.1 1543.5 L210.7 1544.6 L211.1 1545.4 L212.1 1548.2 L213.1 1551.2 L213.7 1553 L214.1 1553.2"/>
</g>
<g font-size="50" text-anchor="end" fill="#000">
<text x="162" y="1709.5">0.15</text>
<text x="162" y="1554.4">0.30</text>
<text x="162" y="1399.3">0.45</text>
</g>
<text x="203.24" y="1407.90" font-size="50" textLength="326.24" lengthAdjust="spacingAndGlyphs">(g) Fragment 2</text>
<path d="M488.6 1625H604.9" stroke="#000" stroke-width="5.0"/>
<text x="616.19" y="1643.40" font-size="50" textLength="107.00" lengthAdjust="spacingAndGlyphs">ChlA</text>
<path d="M488.6 1685H604.9" stroke="#d40000" stroke-width="5.0"/>
<text x="616.15" y="1703.20" font-size="50" textLength="108.69" lengthAdjust="spacingAndGlyphs">ChlB</text>
<g stroke="#000" stroke-width="2.2" fill="none" stroke-linecap="round">
<rect x="930.5" y="1328.2" width="591.7" height="413.6" stroke-linejoin="round"/>
<path d="M1078.4 1741.8V1735.8 M1078.4 1328.2V1334.2 M1226.3 1741.8V1735.8 M1226.3 1328.2V1334.2 M1374.3 1741.8V1735.8 M1374.3 1328.2V1334.2 M930.5 1690.1H936.5 M1522.2 1690.1H1516.2 M930.5 1535H936.5 M1522.2 1535H1516.2 M930.5 1379.9H936.5 M1522.2 1379.9H1516.2"/>
</g>
<clipPath id="c7"><rect x="929.5" y="1327.2" width="593.7" height="415.6"/></clipPath>
<g clip-path="url(#c7)" fill="none" stroke-width="5.5" stroke-linejoin="round" stroke-linecap="round">
<path stroke="#000" d="M931.1 1631.1 L932.1 1623.5 L933.1 1616 L934.1 1611.3 L935.1 1606.7 L936.1 1602.3 L936.2 1602.3 L937.1 1606.7 L938.1 1611.4 L939.1 1616.2 L939.2 1616.7 L940.1 1639.6 L940.2 1642.2 L941.1 1645.2 L942.1 1648.5 L943.1 1652.3 L943.3 1653.4 L944.1 1654.2 L945.1 1655.3 L946.1 1656.3 L946.3 1656.2 L947.1 1651.5 L948.1 1645.4 L948.4 1643.3 L949.1 1646.8 L950.1 1651.7 L951.1 1657 L952.1 1662.2 L952.4 1663.9 L953.1 1662.6 L954.1 1660.4 L955.1 1658.5 L956.1 1656.6 L956.5 1655.7 L957.1 1654.8 L958.1 1654 L959.1 1653.6 L960.1 1653.3 L961.1 1652.8 L961.6 1652.8 L962.1 1652.6 L963.1 1652 L964.1 1651.7 L965.1 1651.1 L966.1 1650.3 L967.1 1649.7 L967.7 1649.4 L968.1 1649.2 L969.1 1648.7 L970.1 1647.9 L971.1 1647.2 L972.1 1646.3 L972.8 1645.2 L973.1 1645.2 L974.1 1646 L975.1 1646.7 L976.1 1647.7 L977.1 1648.9 L977.8 1649.8 L978.1 1649.1 L979.1 1646.6 L980.1 1644.2 L981.1 1641.8 L982.1 1639.1 L983.1 1636.4 L983.9 1634.3 L984.1 1634.6 L985.1 1635.5 L986.1 1636.6 L987.1 1637.8 L988.1 1638.5 L989.1 1639.4 L990 1640 L990.1 1639.4 L991.1 1637.1 L992.1 1635.2 L993.1 1633.5 L994.1 1631.6 L995.1 1629.7 L996.1 1629.3 L997.1 1629 L998.1 1628.5 L999.1 1627.8 L1000.1 1627 L1001.1 1626.3 L1002.1 1625.6 L1002.2 1625.3 L1003.1 1624.4 L1004.1 1623.4 L1005.1 1622.8 L1006.1 1622.3 L1007.1 1622.1 L1008.1 1622.1 L1009.1 1621.6 L1009.3 1621.4 L1010.1 1621.9 L1011.1 1622.2 L1012.1 1622.4 L1013.1 1622.3 L1013.4 1622.6 L1014.1 1621.5 L1015.1 1619.2 L1016.1 1616.5 L1016.5 1615.2 L1017.1 1614.6 L1018.1 1614 L1019.1 1613.5 L1020.1 1613.2 L1021.1 1612.9 L1021.5 1613.1 L1022.1 1613.3 L1023.1 1613.3 L1024.1 1613.1 L1025.1 1612.4 L1026.1 1611.4 L1027.1 1610.4 L1028.1 1609.5 L1029.1 1608.9 L1030.1 1608.6 L1031.1 1608.4 L1031.7 1607.9 L1032.1 1607.4 L1033.1 1606.1 L1034.1 1604.8 L1035.1 1603.7 L1036.1 1602.3 L1037.1 1600.8 L1038.1 1599.6 L1039.1 1598.9 L1040.1 1598 L1041.1 1596.9 L1041.9 1596.6 L1042.1 1596.7 L1043.1 1596.2 L1044.1 1595.7 L1045.1 1595.2 L1046.1 1594.1 L1047.1 1592.9 L1048.1 1592.5 L1049.1 1592.2 L1050.1 1592 L1051.1 1592.3 L1052 1592.3 L1052.1 1592.2 L1053.1 1591.5 L1054.1 1590.7 L1055.1 1590 L1056.1 1589.7 L1057.1 1589.5 L1058.1 1588.9 L1059.1 1588.1 L1060.1 1587.4 L1061.1 1587 L1062.1 1586.2 L1062.2 1585.6 L1063.1 1584.8 L1064.1 1584.4 L1065.1 1583.9 L1066.1 1583.8 L1067.1 1583.4 L1068.1 1582.5 L1069.1 1581.5 L1070.1 1580.4 L1071.1 1579.2 L1072.1 1578.1 L1072.4 1578 L1073.1 1577.4 L1074.1 1576.6 L1075.1 1576.5 L1076.1 1576.3 L1077.1 1576.1 L1078.1 1575.7 L1079.1 1575.2 L1080.1 1574.8 L1081.1 1574.3 L1082.1 1573.5 L1083.1 1572.5 L1084.1 1571.8 L1085 1571.2 L1085.1 1570.9 L1086.1 1570.3 L1087.1 1569.6 L1088.1 1569.2 L1089.1 1569.2 L1090.1 1568.6 L1091.1 1567.5 L1092.1 1566.5 L1093.1 1565.8 L1094.1 1565.3 L1095.1 1564.9 L1096.1 1564.4 L1096.4 1564.8 L1097.1 1565.1 L1098.1 1565.3 L1099.1 1565.2 L1100.1 1564.4 L1101.1 1563.1 L1102.1 1562.2 L1103.1 1562 L1104.1 1562 L1105.1 1561.7 L1106.1 1561.9 L1107.1 1562.5 L1108.1 1562.7 L1109.1 1563 L1110.1 1562.7 L1111.1 1562.4 L1112.1 1562.1 L1113.1 1561.6 L1114.1 1560.9 L1115.1 1560.1 L1115.5 1559.6 L1116.1 1559.2 L1117.1 1558.8 L1118.1 1558.2 L1119.1 1558.3 L1120.1 1558.6 L1121.1 1558.3 L1122.1 1558.1 L1123.1 1557.4 L1124.1 1556.3 L1125.1 1555.5 L1126.1 1555.6 L1127.1 1556 L1128.1 1555.6 L1129.1 1555.6 L1130.1 1555.9 L1131.1 1555.8 L1132.1 1556 L1133.1 1556.6 L1134.1 1556.9 L1134.5 1556.7 L1135.1 1555.1 L1136.1 1553.2 L1137.1 1551.7 L1138.1 1550.7 L1139.1 1550.3 L1140.1 1550.2 L1141.1 1550.6 L1142.1 1550.7 L1143.1 1550.3 L1144.1 1550.5 L1145.1 1550.9 L1146.1 1550.9 L1147.1 1551 L1148.1 1551.1 L1149.1 1550.8 L1150.1 1550.4 L1151.1 1549.7 L1152.1 1548.7 L1153.1 1547.9 L1153.6 1547.5 L1154.1 1547 L1155.1 1547 L1156.1 1547.1 L1157.1 1546.5 L1158.1 1545.9 L1159.1 1545.9 L1160.1 1545.7 L1161.1 1546 L1162.1 1546.8 L1163.1 1547.5 L1164.1 1547.8 L1165.1 1547.9 L1166.1 1547.6 L1167.1 1546.9 L1168.1 1546.4 L1169.1 1546.2 L1170.1 1546.3 L1171.1 1546.4 L1172.1 1546.4 L1172.6 1546.4 L1173.1 1546.6 L1174.1 1546.6 L1175.1 1547 L1176.1 1547.3 L1177.1 1547 L1178.1 1546.5 L1179.1 1546.4 L1180.1 1546.2 L1181.1 1545.2 L1182.1 1544.3 L1183.1 1543.8 L1184.1 1543.4 L1185.1 1543.9 L1186.1 1544.9 L1187.1 1545.6 L1188.1 1546.3 L1189.1 1546.1 L1190.1 1544.9 L1191.1 1544.1 L1191.7 1543.6 L1192.1 1543.6 L1193.1 1544.2 L1194.1 1544.4 L1195.1 1544.5 L1196.1 1544.7 L1197.1 1544.7 L1198.1 1544 L1199.1 1543 L1200.1 1542.2 L1201.1 1541.8 L1202.1 1541.4 L1203.1 1541.3 L1204.1 1541.7 L1205.1 1542.2 L1206.1 1542.9 L1207.1 1543.8 L1208.1 1544.1 L1209.1 1543.5 L1210.1 1543 L1211.1 1542.7 L1212.1 1542.1 L1213.1 1542.2 L1214.1 1542.6 L1215.1 1542.7 L1216.1 1542.2 L1217.1 1541.5 L1218.1 1541.3 L1219.1 1541.4 L1220.1 1541.2 L1221.1 1540.7 L1222.1 1540 L1223.1 1539.6 L1224.1 1539.3 L1225 1539.6 L1225.1 1540.3 L1226.1 1540.8 L1227.1 1541.9 L1228.1 1542.9 L1229.1 1543.3 L1230.1 1543.4 L1231.1 1543.2 L1232.1 1542.5 L1233.1 1542.1 L1234.1 1542.4 L1235.1 1542.2 L1236.1 1541.5 L1237.1 1540.8 L1238.1 1540.8 L1239.1 1541.2 L1240.1 1541.7 L1241.1 1542.2 L1242.1 1542.3 L1243.1 1542.3 L1244.1 1542 L1245.1 1541.3 L1246.1 1540.3 L1247.1 1539.7 L1248.1 1539 L1249.1 1538.8 L1250.1 1538.9 L1251.1 1539.2 L1252.1 1540 L1253.1 1541.4 L1254.1 1542.6 L1255.1 1543.2 L1256.1 1543.5 L1257.1 1543.3 L1258.1 1543.1 L1259.1 1543.2 L1259.4 1543.2 L1260.1 1542.5 L1261.1 1542.2 L1262.1 1542.2 L1263.1 1542.2 L1264.1 1541.9 L1265.1 1541.5 L1266.1 1540.9 L1267.1 1539.9 L1268.1 1539.1 L1269.1 1538.6 L1270.1 1538.6 L1271.1 1539.1 L1272.1 1540.1 L1273.1 1541 L1274.1 1542 L1275.1 1542.8 L1276.1 1542.8 L1277.1 1542.5 L1278.1 1542.3 L1279.1 1542.2 L1280.1 1541.5 L1281.1 1541 L1282.1 1540.6 L1283.1 1540.6 L1284.1 1540.4 L1285.1 1540.2 L1286.1 1540.5 L1287.1 1540.7 L1288.1 1540.7 L1289.1 1540.7 L1290.1 1541.1 L1291.1 1541 L1292.1 1540.2 L1293.1 1539.7 L1294.1 1539.8 L1295.1 1540.1 L1296.1 1540 L1297.1 1539.5 L1298.1 1539.7 L1298.7 1540.1 L1299.1 1540 L1300.1 1539.7 L1301.1 1539.1 L1302.1 1538.4 L1303.1 1537.9 L1304.1 1537.7 L1305.1 1538 L1306.1 1538.4 L1307.1 1538.6 L1308.1 1539 L1309.1 1539.7 L1310.1 1539.6 L1311.1 1539.3 L1312.1 1539.3 L1313.1 1539.5 L1314.1 1539 L1315.1 1538.7 L1316.1 1538.2 L1317.1 1537.6 L1318.1 1537.3 L1319.1 1537.3 L1320.1 1537.6 L1321.1 1537.7 L1322.1 1537.7 L1323.1 1537.1 L1324.1 1536.3 L1325.1 1535.9 L1326.1 1535.7 L1327.1 1536 L1328.1 1536.9 L1329.1 1537.8 L1330.1 1538.6 L1331.1 1539.5 L1332.1 1539.8 L1333.1 1539.5 L1334.1 1539.5 L1335.1 1539.7 L1336.1 1540 L1337.1 1539.7 L1338 1538.8 L1338.1 1538.4 L1339.1 1538.8 L1340.1 1539.5 L1341.1 1539.6 L1342.1 1539.6 L1343.1 1539.8 L1344.1 1540 L1345.1 1540 L1346.1 1540 L1347.1 1539.7 L1348.1 1539.1 L1349.1 1539 L1350.1 1539.1 L1351.1 1539.7 L1352.1 1540.2 L1353.1 1540.4 L1354.1 1540.7 L1355.1 1540.4 L1356.1 1540.3 L1357.1 1539.9 L1358.1 1539.6 L1359.1 1539.5 L1360.1 1539.3 L1361.1 1539.3 L1362.1 1539.6 L1363.1 1539.9 L1364.1 1539.9 L1365.1 1539.6 L1366.1 1538.9 L1367.1 1538.1 L1368.1 1537.8 L1369.1 1537.4 L1370.1 1537.4 L1371.1 1537.8 L1372.1 1538.7 L1373.1 1539.1 L1374.1 1539.2 L1375.1 1539.3 L1376.1 1539 L1377.1 1539.1 L1377.5 1538.8 L1378.1 1538.2 L1379.1 1537.5 L1380.1 1537.6 L1381.1 1538.1 L1382.1 1538.6 L1383.1 1539 L1384.1 1539.3 L1385.1 1539.6 L1386.1 1539.7 L1387.1 1539.1 L1388.1 1538.8 L1389.1 1538.6 L1390.1 1538.3 L1391.1 1537.8 L1392.1 1538.2 L1393.1 1539 L1394.1 1539.8 L1395.1 1540.3 L1396.1 1541.2 L1397.1 1541.8 L1398.1 1541.7 L1399.1 1541.4 L1400.1 1541 L1401.1 1540.4 L1402.1 1540.4 L1403.1 1540.8 L1404.1 1541.1 L1405.1 1541.4 L1406.1 1542 L1407.1 1542.6 L1408.1 1543.1 L1409.1 1543.2 L1410.1 1542.7 L1411.1 1541.8 L1412.1 1541 L1413.1 1540.3 L1414.1 1540.5 L1415.1 1540.9 L1416.1 1541.1 L1416.9 1541.1 L1417.1 1540.5 L1418.1 1540.2 L1419.1 1540.4 L1420.1 1540.8 L1421.1 1541.4 L1422.1 1541.6 L1423.1 1541.3 L1424.1 1541.1 L1425.1 1540.4 L1426.1 1539.4 L1427.1 1538.6 L1428.1 1539.2 L1429.1 1539.8 L1430.1 1539.3 L1431.1 1538.8 L1432.1 1538.6 L1433.1 1538.5 L1434.1 1538.5 L1435.1 1538.8 L1436.1 1539.5 L1437.1 1540.1 L1438.1 1540.5 L1439.1 1540.7 L1440.1 1541 L1441.1 1541.2 L1442.1 1541 L1443.1 1540.9 L1444.1 1541 L1445.1 1540.8 L1446.1 1540.4 L1447.1 1540.1 L1448.1 1540.1 L1449.1 1540.3 L1450.1 1540.6 L1451.1 1540.6 L1452.1 1540.7 L1453.1 1540.7 L1454.1 1540.5 L1455.1 1540.9 L1456.1 1540.9 L1456.2 1540.9 L1457.1 1540.6 L1458.1 1540.7 L1459.1 1540.9 L1460.1 1540.5 L1461.1 1540.2 L1462.1 1540 L1463.1 1539.6 L1464.1 1539.1 L1465.1 1538.7 L1466.1 1538.8 L1467.1 1538.4 L1468.1 1537.8 L1469.1 1537.7 L1470.1 1538.3 L1471.1 1538.5 L1472.1 1538.7 L1473.1 1539.1 L1474.1 1539.6 L1475.1 1539.1 L1476.1 1537.8 L1477.1 1537.3 L1478.1 1537.4 L1479.1 1537.5 L1480.1 1538.3 L1481.1 1538.9 L1482.1 1539.7 L1483.1 1540.2 L1484.1 1540.6 L1485.1 1540.8 L1486.1 1540.5 L1487.1 1540.2 L1488.1 1539.6 L1489.1 1538.7 L1490.1 1538.3 L1491.1 1538.3 L1492.1 1538.8 L1493.1 1539 L1494.1 1539.6 L1495.1 1539.5 L1495.6 1539.2 L1496.1 1538.5 L1497.1 1537.3 L1498.1 1536.8 L1499.1 1536.4 L1500.1 1535.8 L1501.1 1535.8 L1502.1 1537 L1503.1 1537.9 L1504.1 1538 L1505.1 1538 L1506.1 1538 L1507.1 1538.3 L1508.1 1538.4 L1509.1 1538.3 L1510.1 1538.1 L1511.1 1538.2 L1512.1 1538 L1513.1 1538 L1514.1 1538.1 L1515.1 1538.1 L1516.1 1537.9 L1517.1 1537.9 L1518.1 1537.8 L1519.1 1538.2 L1520.1 1538.6 L1521.1 1538.5 L1522 1538.3"/>
<path stroke="#000" stroke-width="6.2" d="M931.1 1631.1 L932.1 1623.5 L933.1 1616 L934.1 1611.3 L935.1 1606.7 L936.1 1602.3 L936.2 1602.3 L937.1 1606.7 L938.1 1611.4 L939.1 1616.2 L939.2 1616.7 L940.1 1639.6 L940.2 1642.2 L941.1 1645.2 L942.1 1648.5 L943.1 1652.3 L943.3 1653.4 L944.1 1654.2 L945.1 1655.3 L946.1 1656.3 L946.3 1656.2 L947.1 1651.5 L948.1 1645.4 L948.4 1643.3 L949.1 1646.8 L950.1 1651.7 L951.1 1657 L952.1 1662.2 L952.4 1663.9 L953.1 1662.6 L954.1 1660.4 L955.1 1658.5 L956.1 1656.6 L956.5 1655.7 L957.1 1654.8 L958.1 1654 L959.1 1653.6"/>
<path stroke="#d40000" d="M931.1 1598.6 L932.1 1551.1 L933.1 1531 L933.6 1521 L934.1 1514.9 L935.1 1502 L935.7 1493.9 L936.1 1504.5 L936.7 1520.8 L937.1 1515.8 L937.7 1508.4 L938.1 1517 L939.1 1538.3 L939.2 1540.3 L940.1 1529 L941.1 1516.7 L941.3 1514.1 L942.1 1520.8 L943.1 1529.2 L943.3 1530.7 L944.1 1525.3 L945.1 1518.6 L945.3 1517.1 L946.1 1538.2 L946.3 1543.4 L947.1 1545.7 L948.1 1549 L949.1 1552.4 L949.4 1553.3 L950.1 1549 L951.1 1542.8 L952.1 1536.5 L952.4 1534.4 L953.1 1538.2 L954.1 1543.5 L955.1 1548.8 L955.5 1550.9 L956.1 1554.8 L957.1 1561.3 L958.1 1567.6 L958.5 1569.9 L959.1 1568.4 L960.1 1566.3 L961.1 1564 L961.6 1562.8 L962.1 1565.8 L963.1 1572.6 L964.1 1580.1 L964.6 1584.3 L965.1 1584.3 L966.1 1583.3 L967.1 1582.1 L968.1 1581 L968.7 1580 L969.1 1580.9 L970.1 1583.8 L971.1 1586.9 L972.1 1590.1 L972.8 1592.5 L973.1 1591.8 L974.1 1588.3 L975.1 1584.7 L975.8 1582.1 L976.1 1582.4 L977.1 1583.8 L978.1 1585.2 L979.1 1586.7 L979.9 1587.7 L980.1 1587.9 L981.1 1589.6 L982.1 1591.6 L983.1 1593.6 L983.9 1595.1 L984.1 1595.6 L985.1 1597.9 L986.1 1600.5 L987.1 1602.9 L988 1604.7 L988.1 1604.7 L989.1 1607.1 L990.1 1609.6 L991.1 1612.2 L992.1 1615.1 L993.1 1615.7 L994.1 1616.2 L995.1 1616.7 L996.1 1616.6 L997.1 1616.5 L998.1 1616.5 L998.2 1615.9 L999.1 1614.7 L1000.1 1613.6 L1001.1 1612.5 L1002.1 1611.3 L1003.1 1610 L1004.1 1608.9 L1004.3 1608.6 L1005.1 1609.3 L1006.1 1610.2 L1007.1 1610.8 L1008.1 1611.9 L1009.1 1613.1 L1009.3 1613.4 L1010.1 1612.5 L1011.1 1611.2 L1012.1 1609.8 L1013.1 1608.5 L1013.4 1608 L1014.1 1608.1 L1015.1 1608.4 L1016.1 1608.2 L1017.1 1608.2 L1018.1 1608.5 L1019.1 1608.8 L1019.5 1609.1 L1020.1 1608.8 L1021.1 1608.4 L1022.1 1608.1 L1023.1 1607.4 L1024.1 1606.6 L1025.1 1606 L1026.1 1605.3 L1026.6 1605.2 L1027.1 1605.6 L1028.1 1606.2 L1029.1 1606.6 L1030.1 1606.5 L1031.1 1606.6 L1032.1 1607.1 L1033.1 1607.4 L1034.1 1607.8 L1034.8 1608.1 L1035.1 1607.4 L1036.1 1605.5 L1037.1 1603.6 L1038.1 1601.4 L1038.8 1599.8 L1039.1 1599.5 L1040.1 1599 L1041.1 1598.6 L1042.1 1598.6 L1043.1 1598.2 L1044.1 1597.5 L1045.1 1597 L1046.1 1596.2 L1047 1595.7 L1047.1 1595.8 L1048.1 1595.3 L1049.1 1595.3 L1050.1 1595.8 L1051.1 1596.1 L1052.1 1596.4 L1053.1 1596.9 L1054.1 1597.2 L1055.1 1596.4 L1056.1 1595.2 L1057.1 1593.7 L1058.1 1592.1 L1059.1 1591 L1060.1 1590.1 L1061.1 1589.5 L1062.1 1589 L1062.2 1589 L1063.1 1589 L1064.1 1588.8 L1065.1 1588.8 L1066.1 1588.8 L1067.1 1588.5 L1068.1 1588.2 L1069.1 1587.8 L1070.1 1587.6 L1071.1 1587.2 L1072.1 1586.6 L1072.4 1585.8 L1073.1 1584.5 L1074.1 1583.4 L1075.1 1582.5 L1076.1 1582 L1077.1 1581.9 L1078.1 1581.3 L1079.1 1580.1 L1080.1 1578.7 L1080.5 1578.2 L1081.1 1578.2 L1082.1 1578.3 L1083.1 1578.7 L1084.1 1579.2 L1085 1580.1 L1085.1 1580.5 L1086.1 1579.9 L1086.9 1579.4 L1087.1 1579.8 L1088.1 1579.6 L1089.1 1579 L1090.1 1577.8 L1091.1 1577 L1092.1 1576.2 L1093.1 1575 L1094.1 1574.3 L1095.1 1574.5 L1096.1 1574.8 L1097.1 1574.6 L1098.1 1574.1 L1099.1 1574 L1100.1 1573.9 L1101.1 1573.3 L1102.1 1572.5 L1103.1 1571.5 L1104.1 1570.4 L1105.1 1569.9 L1106 1570.2 L1106.1 1570.7 L1107.1 1570.6 L1108.1 1569.8 L1109.1 1569.1 L1110.1 1568.9 L1111.1 1568.8 L1112.1 1568.3 L1113.1 1567.6 L1114.1 1566.9 L1115.1 1566.2 L1116.1 1565.3 L1117.1 1564.6 L1118.1 1564.5 L1119.1 1564.4 L1120.1 1564 L1121.1 1564 L1122.1 1563.5 L1123.1 1562.8 L1124.1 1562.8 L1125 1563.4 L1125.1 1564 L1126.1 1564.1 L1127.1 1564.9 L1128.1 1565.9 L1129.1 1566.2 L1130.1 1565.9 L1131.1 1564.9 L1132.1 1563.7 L1133.1 1562.7 L1134.1 1561.4 L1135.1 1560.6 L1136.1 1559.8 L1137.1 1558.8 L1138.1 1558.9 L1139.1 1559.6 L1140.1 1560.2 L1141.1 1560.4 L1142.1 1560.2 L1143.1 1559.5 L1144 1558.7 L1144.1 1558.8 L1145.1 1558.1 L1146.1 1557.6 L1147.1 1557.4 L1148.1 1557.5 L1149.1 1557.9 L1150.1 1557.9 L1151.1 1557.8 L1152.1 1557.7 L1153.1 1557.2 L1154.1 1556.3 L1155.1 1555.6 L1156.1 1555.5 L1157.1 1555.5 L1158.1 1556.1 L1159.1 1557.4 L1160.1 1558.3 L1161.1 1558.7 L1162.1 1558.6 L1163.1 1558.3 L1164.1 1557.4 L1165.1 1556.1 L1166.1 1554.9 L1167.1 1554.7 L1168.1 1555.4 L1169.1 1556.4 L1170.1 1557.4 L1171.1 1558.2 L1172.1 1558.5 L1173.1 1558.7 L1174.1 1558.5 L1175.1 1557.8 L1176.1 1557.7 L1177.1 1557.7 L1178.1 1558 L1179.1 1558.1 L1180.1 1557.5 L1181.1 1557.1 L1182.1 1557.2 L1183.1 1556.8 L1184.1 1556.2 L1185.1 1556 L1186.1 1556 L1187.1 1555.2 L1188.1 1553.8 L1189.1 1552.7 L1190.1 1551.6 L1191.1 1550.5 L1192.1 1549.8 L1193.1 1550.2 L1194.1 1551.1 L1195.1 1551.9 L1196.1 1552.3 L1197.1 1551.9 L1198.1 1551.3 L1199.1 1550.5 L1200.1 1549.8 L1201.1 1549.4 L1201.2 1549.4 L1202.1 1549.4 L1203.1 1550 L1204.1 1550.6 L1205.1 1550.9 L1206.1 1550.7 L1207.1 1550.3 L1208.1 1550.1 L1209.1 1549.6 L1210.1 1548.8 L1211.1 1548 L1212.1 1547.8 L1213.1 1547.9 L1214.1 1548.2 L1215.1 1548.4 L1216.1 1547.7 L1217.1 1546.5 L1218.1 1545.3 L1219.1 1544.6 L1220.1 1544.6 L1221.1 1544.9 L1222.1 1545.6 L1223.1 1546.2 L1224.1 1546.5 L1225 1546.7 L1225.1 1546.4 L1226.1 1546.2 L1227.1 1546.3 L1228.1 1546.3 L1229.1 1546.1 L1230.1 1545.8 L1231.1 1545.4 L1232.1 1545.5 L1233.1 1545.8 L1234.1 1545.9 L1235.1 1545.5 L1236.1 1545 L1237.1 1544.4 L1238.1 1543.8 L1239.1 1543.2 L1240.1 1543.1 L1241.1 1543.4 L1242.1 1543.3 L1243.1 1542.4 L1244.1 1541.7 L1245.1 1541.9 L1246.1 1541.9 L1247.1 1541.6 L1248.1 1542 L1249.1 1542.5 L1250.1 1542.5 L1251.1 1542.4 L1252.1 1542.6 L1253.1 1543 L1254.1 1543.6 L1255.1 1544 L1256.1 1544.5 L1257.1 1544.8 L1258.1 1544.7 L1259.1 1544.6 L1259.4 1543.9 L1260.1 1543.7 L1261.1 1543.2 L1262.1 1542.7 L1263.1 1542.2 L1264.1 1541.9 L1265.1 1542 L1266.1 1542.2 L1267.1 1542.1 L1268.1 1542.3 L1269.1 1542.7 L1270.1 1542.6 L1271.1 1542.1 L1272.1 1541.6 L1273.1 1540.7 L1274.1 1539.5 L1275.1 1538.6 L1276.1 1538.3 L1277.1 1537.7 L1278.1 1536.9 L1279.1 1536.7 L1280.1 1537.6 L1281.1 1538.7 L1282.1 1539.5 L1283.1 1539.4 L1284.1 1538.3 L1285.1 1537.2 L1286.1 1536.3 L1287.1 1535.3 L1288.1 1535.1 L1289.1 1535 L1290.1 1534.8 L1291.1 1535.4 L1292.1 1536 L1293.1 1536.4 L1294.1 1536.3 L1295.1 1535.5 L1296.1 1534.4 L1297.1 1533.9 L1298.1 1533.6 L1298.7 1533.2 L1299.1 1533.1 L1300.1 1533.4 L1301.1 1534.2 L1302.1 1534.8 L1303.1 1535.2 L1304.1 1535.2 L1305.1 1535.3 L1306.1 1535.5 L1307.1 1535.4 L1308.1 1535.6 L1309.1 1535.9 L1310.1 1535.3 L1311.1 1534.7 L1312.1 1534.3 L1313.1 1534.1 L1314.1 1534.7 L1315.1 1535.4 L1316.1 1535.3 L1317.1 1535.1 L1318.1 1535.1 L1319.1 1534.3 L1320.1 1533.2 L1321.1 1532.4 L1322.1 1532.1 L1323.1 1532.6 L1324.1 1533.3 L1325.1 1533.6 L1326.1 1533.5 L1327.1 1533.4 L1328.1 1533.4 L1329.1 1533.7 L1330.1 1534.5 L1331.1 1534.8 L1332.1 1534.8 L1333.1 1534.9 L1334.1 1535.1 L1335.1 1534.9 L1336.1 1534.5 L1337.1 1533.8 L1338 1532.4 L1338.1 1531.8 L1339.1 1531.8 L1340.1 1531.8 L1341.1 1531.6 L1342.1 1531.7 L1343.1 1531.7 L1344.1 1531.4 L1345.1 1531.7 L1346.1 1532.1 L1347.1 1532.3 L1348.1 1532.3 L1349.1 1531.7 L1350.1 1531 L1351.1 1530.3 L1352.1 1529.5 L1353.1 1529.4 L1354.1 1530 L1355.1 1531.3 L1356.1 1532.4 L1357.1 1533 L1358.1 1533 L1359.1 1532.4 L1360.1 1531.3 L1361.1 1530.4 L1362.1 1530 L1363.1 1529.9 L1364.1 1529.6 L1365.1 1530 L1366.1 1530.9 L1367.1 1531.5 L1368.1 1531.8 L1369.1 1531.8 L1370.1 1531.6 L1371.1 1531.1 L1372.1 1530.6 L1373.1 1529.8 L1374.1 1529 L1375.1 1528.7 L1376.1 1529 L1377.1 1529.4 L1377.5 1529.7 L1378.1 1530.2 L1379.1 1530.5 L1380.1 1530.2 L1381.1 1529.8 L1382.1 1529.2 L1383.1 1528.7 L1384.1 1528.5 L1385.1 1528.7 L1386.1 1529.2 L1387.1 1529.9 L1388.1 1530.6 L1389.1 1531.1 L1390.1 1531.7 L1391.1 1531.9 L1392.1 1531.9 L1393.1 1531.6 L1394.1 1531.2 L1395.1 1531.1 L1396.1 1530.7 L1397.1 1529.9 L1398.1 1528.9 L1399.1 1528 L1400.1 1528.4 L1401.1 1529.2 L1402.1 1529.7 L1403.1 1529.6 L1404.1 1529.4 L1405.1 1528.9 L1406.1 1528 L1407.1 1527 L1408.1 1526.5 L1409.1 1526.9 L1410.1 1527.4 L1411.1 1528.2 L1412.1 1528.2 L1413.1 1528.3 L1414.1 1528.5 L1415.1 1528.8 L1416.1 1528.9 L1416.9 1528.9 L1417.1 1529.7 L1418.1 1530 L1419.1 1529.8 L1420.1 1529.4 L1421.1 1529.2 L1422.1 1529.3 L1423.1 1529.7 L1424.1 1529.9 L1425.1 1530.2 L1426.1 1530.2 L1427.1 1529.7 L1428.1 1529.5 L1429.1 1528.9 L1430.1 1528.5 L1431.1 1528 L1432.1 1527.8 L1433.1 1528.3 L1434.1 1529.5 L1435.1 1530.8 L1436.1 1531.6 L1437.1 1531.6 L1438.1 1531.1 L1439.1 1530.2 L1440.1 1529.6 L1441.1 1529.8 L1442.1 1530.4 L1443.1 1530.7 L1444.1 1531.5 L1445.1 1532 L1446.1 1531.6 L1447.1 1530.8 L1448.1 1529.8 L1449.1 1529 L1450.1 1528.5 L1451.1 1529.1 L1452.1 1530.2 L1453.1 1531.1 L1454.1 1532 L1455.1 1532.5 L1456.1 1532.6 L1456.2 1532.3 L1457.1 1532.8 L1458.1 1532.9 L1459.1 1532.9 L1460.1 1533.2 L1461.1 1533.1 L1462.1 1532.3 L1463.1 1531.4 L1464.1 1530.4 L1465.1 1530.3 L1466.1 1531.2 L1467.1 1532.2 L1468.1 1533.2 L1469.1 1534.3 L1470.1 1534.5 L1471.1 1534.2 L1472.1 1532.9 L1473.1 1531.7 L1474.1 1530.7 L1475.1 1530 L1476.1 1529.6 L1477.1 1529.1 L1478.1 1528.8 L1479.1 1529 L1480.1 1529.5 L1481.1 1529.9 L1482.1 1529.8 L1483.1 1529.7 L1484.1 1529.5 L1485.1 1529.3 L1486.1 1529.4 L1487.1 1529.8 L1488.1 1530 L1489.1 1530.1 L1490.1 1530.4 L1491.1 1531.1 L1492.1 1531.7 L1493.1 1531.7 L1494.1 1531.1 L1495.1 1530.4 L1495.6 1529.4 L1496.1 1528 L1497.1 1526.6 L1498.1 1526 L1499.1 1526.7 L1500.1 1528.2 L1501.1 1529.4 L1502.1 1530.1 L1503.1 1530.3 L1504.1 1530.5 L1505.1 1530.3 L1506.1 1529.8 L1507.1 1529.2 L1508.1 1529 L1509.1 1528.6 L1510.1 1528.6 L1511.1 1528.8 L1512.1 1529.1 L1513.1 1529.5 L1514.1 1530 L1515.1 1530.3 L1516.1 1530.2 L1517.1 1530 L1518.1 1529.4 L1519.1 1529.2 L1520.1 1529.5 L1521.1 1529.8 L1522 1529.7"/>
<path stroke="#d40000" stroke-width="6.6" d="M931.1 1598.6 L932.1 1551.1 L933.1 1531 L933.6 1521 L934.1 1514.9 L935.1 1502 L935.7 1493.9 L936.1 1504.5 L936.7 1520.8 L937.1 1515.8 L937.7 1508.4 L938.1 1517 L939.1 1538.3 L939.2 1540.3 L940.1 1529 L941.1 1516.7 L941.3 1514.1 L942.1 1520.8 L943.1 1529.2 L943.3 1530.7 L944.1 1525.3 L945.1 1518.6 L945.3 1517.1 L946.1 1538.2 L946.3 1543.4 L947.1 1545.7 L948.1 1549 L949.1 1552.4 L949.4 1553.3 L950.1 1549 L951.1 1542.8 L952.1 1536.5 L952.4 1534.4 L953.1 1538.2 L954.1 1543.5 L955.1 1548.8 L955.5 1550.9 L956.1 1554.8 L957.1 1561.3 L958.1 1567.6 L958.5 1569.9 L959.1 1568.4 L960.1 1566.3 L961.1 1564 L961.6 1562.8 L962.1 1565.8 L963.1 1572.6 L964.1 1580.1 L964.6 1584.3 L965.1 1584.3 L966.1 1583.3 L967.1 1582.1 L968.1 1581 L968.7 1580 L969.1 1580.9 L970.1 1583.8 L971.1 1586.9 L972.1 1590.1 L972.8 1592.5 L973.1 1591.8 L974.1 1588.3 L975.1 1584.7 L975.8 1582.1 L976.1 1582.4 L977.1 1583.8 L978.1 1585.2 L979.1 1586.7 L979.9 1587.7 L980.1 1587.9 L981.1 1589.6 L982.1 1591.6 L983.1 1593.6 L983.9 1595.1 L984.1 1595.6 L985.1 1597.9 L986.1 1600.5 L987.1 1602.9 L988 1604.7 L988.1 1604.7 L989.1 1607.1 L990.1 1609.6 L991.1 1612.2 L992.1 1615.1 L993.1 1615.7 L994.1 1616.2 L995.1 1616.7 L996.1 1616.6 L997.1 1616.5 L998.1 1616.5 L998.2 1615.9 L999.1 1614.7"/>
</g>
<g font-size="50" text-anchor="end" fill="#000">
<text x="919" y="1709.5">0.15</text>
<text x="919" y="1554.4">0.30</text>
<text x="919" y="1399.3">0.45</text>
</g>
<text x="960.24" y="1408.20" font-size="50" textLength="325.92" lengthAdjust="spacingAndGlyphs">(h) Fragment 3</text>
<path d="M1245.6 1625H1361.9" stroke="#000" stroke-width="5.0"/>
<text x="1373.19" y="1643.40" font-size="50" textLength="107.00" lengthAdjust="spacingAndGlyphs">ChlA</text>
<path d="M1245.6 1685H1361.9" stroke="#d40000" stroke-width="5.0"/>
<text x="1373.15" y="1703.20" font-size="50" textLength="108.69" lengthAdjust="spacingAndGlyphs">ChlB</text>
<g stroke="#000" stroke-width="2.2" fill="none" stroke-linecap="round">
<rect x="173.5" y="1765.3" width="591.8" height="413.6" stroke-linejoin="round"/>
<path d="M321.4 2178.9V2172.9 M321.4 1765.3V1771.3 M469.4 2178.9V2172.9 M469.4 1765.3V1771.3 M617.3 2178.9V2172.9 M617.3 1765.3V1771.3 M173.5 2127.2H179.5 M765.3 2127.2H759.3 M173.5 1972.1H179.5 M765.3 1972.1H759.3 M173.5 1817H179.5 M765.3 1817H759.3"/>
</g>
<clipPath id="c8"><rect x="172.5" y="1764.3" width="593.8" height="415.6"/></clipPath>
<g clip-path="url(#c8)" fill="none" stroke-width="5.5" stroke-linejoin="round" stroke-linecap="round">
<path stroke="#000" d="M174.6 2107.3 L175.6 2111.5 L176.6 2115.4 L177.1 2117.5 L177.6 2118.9 L178.6 2121.4 L179.6 2123.8 L179.7 2124 L180.6 2119.4 L181.6 2114.7 L182.6 2109.9 L183.2 2107 L183.6 2106.1 L184.6 2103.8 L185.6 2101.4 L186.3 2100 L186.6 2099.4 L187.6 2097.7 L188.6 2096 L188.8 2095.7 L189.6 2100 L190.6 2105.2 L191.6 2110.3 L191.8 2111.6 L192.6 2109.3 L193.6 2106 L194.6 2102.8 L195.6 2099.8 L196.4 2097.5 L196.6 2097.2 L197.6 2094.9 L198.6 2092.3 L199.6 2089.7 L200.5 2087.2 L200.6 2087 L201.6 2084.3 L202.6 2081.4 L203.6 2078.4 L204.6 2075.5 L205.6 2065.2 L206.6 2064.8 L207.6 2064.9 L208.6 2064.9 L209.6 2064.6 L210.6 2064 L210.7 2063.7 L211.6 2062 L212.6 2060.3 L213.6 2058.4 L214.6 2056.1 L214.7 2055.9 L215.6 2056.2 L216.6 2056.6 L217.6 2057.3 L218.6 2057.8 L218.8 2057.8 L219.6 2055 L220.6 2051.4 L221.6 2048.1 L221.8 2047.3 L222.6 2047.2 L223.6 2047.5 L224.6 2047.7 L225.6 2047.7 L226.6 2047.3 L227.6 2047.2 L227.9 2046.9 L228.6 2044.9 L229.6 2042.5 L230.6 2040.2 L231.6 2037.8 L232 2036.9 L232.6 2037 L233.6 2037.4 L234.6 2038 L235.6 2038.2 L236.6 2038.6 L237.6 2039.5 L238.1 2040.1 L238.6 2039.3 L239.6 2037.8 L240.6 2036.2 L241.6 2034.7 L242.6 2033 L243.2 2031.8 L243.6 2031.8 L244.6 2032.1 L245.6 2032 L246.6 2032.1 L247.6 2032.4 L248.6 2033 L249.3 2033.7 L249.6 2033.6 L250.6 2033.4 L251.6 2033 L252.6 2032.6 L253.6 2032.1 L254.6 2031.6 L255.4 2031.2 L255.6 2031.3 L256.6 2032.5 L257.6 2034 L258.6 2035.6 L259.4 2036.5 L259.6 2036.2 L260.6 2036 L261.6 2036 L262.6 2036.1 L263.5 2035.8 L263.6 2035.9 L264.6 2037.5 L265.6 2038.8 L266.6 2040 L267.6 2041.6 L268.6 2043.5 L269.6 2045 L270.6 2046.4 L271.6 2045.5 L272.6 2044.7 L273.6 2043.8 L274.6 2042.5 L275.6 2041.4 L276.6 2040.2 L276.7 2040.4 L277.6 2041.3 L278.6 2042.2 L279.6 2043 L280.6 2044.2 L281.6 2045.6 L282.6 2046.4 L282.8 2046.5 L283.6 2046.7 L284.6 2046.4 L285.6 2046.5 L286.6 2047 L287.6 2047.7 L287.9 2048.3 L288.6 2048.8 L289.6 2048.9 L290.6 2049.3 L291.6 2050.2 L292.6 2051.2 L293.6 2052.1 L294 2052.9 L294.6 2052.8 L295.6 2052.1 L296.6 2051.5 L297.6 2050.8 L298.6 2050 L299.6 2049.1 L300.1 2048.6 L300.6 2048.5 L301.6 2048.5 L302.6 2048.8 L303.6 2049.3 L304.6 2049.9 L305.6 2050.6 L306.6 2050.8 L307.6 2051.1 L308.6 2051.3 L309.2 2050.9 L309.6 2050.9 L310.6 2051.7 L311.6 2052.1 L312.6 2052.8 L313.6 2053.9 L314.3 2054.9 L314.6 2054.9 L315.6 2055 L316.6 2055 L317.6 2055.2 L318.6 2055.2 L319.6 2054.8 L320.4 2054.2 L320.6 2054.4 L321.6 2055 L322.6 2055.7 L323.6 2056.4 L324.6 2056.7 L325.6 2056.9 L326.6 2057.8 L327 2058.7 L327.6 2058.9 L328.6 2058.9 L329.6 2058.8 L330 2058.7 L330.6 2059.2 L331.6 2060 L331.9 2059.7 L332.6 2059.7 L333.6 2060.3 L334.6 2061.5 L335.6 2063 L336.6 2064.8 L337.6 2066.5 L338.6 2067.5 L339.6 2068.9 L340.6 2070.1 L341.6 2070.6 L342.6 2070.8 L343.6 2071.3 L344.6 2071.6 L345.6 2071.5 L346.6 2072 L347.6 2073.2 L348.6 2074.4 L349.6 2075.3 L350.6 2076 L351 2075.7 L351.6 2075.3 L352.6 2074.8 L353.6 2074.4 L354.6 2074.2 L355.6 2074 L356.6 2074.1 L357.6 2074.1 L358.6 2074 L359.6 2074.3 L360.6 2074.7 L361.6 2074.8 L362.6 2075.2 L363.6 2075.5 L364.6 2075.3 L365.6 2075.7 L366.6 2076 L367.6 2076.3 L368.6 2076.7 L369.6 2077.3 L370 2077.4 L370.6 2077.7 L371.6 2078.6 L372.6 2079.5 L373.6 2079.7 L374.6 2079.5 L375.6 2079.7 L376.6 2079.7 L377.6 2080 L378.6 2080.5 L379.6 2080.6 L380.6 2081 L381.6 2081.8 L382.6 2082.3 L383.6 2082.8 L384.6 2082.7 L385.6 2082.6 L386.6 2083 L387.6 2082.9 L388.6 2082.3 L389 2081.6 L389.6 2081.7 L390.6 2082.9 L391.6 2084 L392.6 2084.9 L393.6 2086.3 L394.6 2088 L395.6 2088.8 L396.6 2089.6 L397.6 2090.3 L398.6 2090.8 L399.6 2091.3 L400.5 2091.8 L400.6 2091.1 L401.6 2091.3 L402.6 2091.7 L403.6 2091.9 L404.6 2091.9 L405.6 2092.2 L406.6 2091.9 L407.6 2091.8 L408.6 2091.8 L409.6 2091.5 L410.6 2091.1 L411.6 2090.5 L412.6 2090.1 L413.6 2090.5 L414.6 2091.1 L415.6 2091.8 L416.6 2092.5 L417.6 2093.2 L418.6 2093.5 L419.6 2093 L420.6 2092 L421.6 2091.1 L422.6 2090.9 L423.6 2091 L424.6 2091.4 L425.6 2091.3 L426.6 2091 L427.6 2090.6 L428.6 2089.8 L429.6 2088.4 L430.6 2087.3 L431.6 2086.6 L432.6 2086.3 L433.6 2086.2 L434.6 2085.9 L434.8 2085.5 L435.6 2085.8 L436.6 2086.6 L437.6 2087.6 L438.6 2089.5 L439.6 2091.1 L440.6 2091.9 L441.6 2092.1 L442.6 2092.2 L443.6 2092.5 L444.6 2092.7 L445.6 2093.1 L446.2 2093.3 L446.6 2093.2 L447.6 2093 L448.6 2092.8 L449.6 2092.2 L450.6 2092.4 L451.6 2092.8 L452.6 2092.7 L453.6 2093.4 L454.6 2094.6 L455.6 2095.6 L456.6 2096.4 L457.6 2097 L458.6 2096.7 L459.6 2096.3 L460.6 2096.5 L461.6 2097 L462.6 2096.9 L463.6 2096 L464.6 2095.2 L465.6 2094.9 L466.6 2094.9 L467.6 2095.3 L468.6 2095.6 L469.6 2095.9 L470 2096.5 L470.6 2097 L471.6 2097.1 L472.6 2097.2 L473.6 2097 L474.6 2096.6 L475.6 2096.8 L476.6 2097.6 L477.6 2098.4 L478.6 2098.8 L479.6 2099 L480.6 2098.7 L481.6 2098.4 L482.6 2097.8 L483.6 2097.3 L484.6 2097 L485.6 2096.8 L486.6 2096.8 L487.6 2096.3 L488.6 2095.5 L489.6 2095.4 L490.6 2095.7 L491.6 2095.8 L492.6 2095.6 L493.6 2095.3 L494.6 2094.9 L495.6 2094.6 L496.6 2094.2 L497.6 2094.2 L498.6 2094.4 L499 2094.3 L499.6 2093.9 L500.6 2094.1 L501.6 2094.7 L502.6 2095.3 L503.6 2095.6 L504.6 2096 L505.6 2096 L506.6 2095.9 L507.6 2096 L508.6 2096.6 L509.6 2097.5 L510.6 2098.4 L511.6 2099.6 L512.6 2100.2 L513.6 2100.3 L514.6 2100.1 L515.6 2099.7 L516.6 2099.4 L517.6 2099.7 L518.6 2100.3 L519.6 2100.6 L520.6 2100.7 L521.6 2100.4 L522.6 2099.4 L523.6 2098.5 L524.6 2097.7 L525.6 2096.9 L526.6 2096.5 L527.6 2096.5 L528.6 2096.8 L529.6 2096.8 L530.6 2097.4 L531.6 2098.1 L532.6 2098.8 L533.6 2099.2 L534.6 2099.6 L535.6 2099.9 L536.6 2100.4 L537.6 2101 L538.6 2101.5 L538.7 2102.6 L539.6 2102.8 L540.6 2102.4 L541.6 2101.9 L542.6 2101 L543.6 2100.1 L544.6 2100.3 L545.6 2101 L546.6 2101.2 L547.6 2101.2 L548.6 2101.4 L549.6 2101.1 L550.6 2101 L551.6 2100.9 L552.6 2100.8 L553.6 2100.9 L554.6 2101.5 L555.6 2102.1 L556.6 2102.7 L557.6 2103.2 L558.6 2103 L559.6 2102.5 L560.6 2102.4 L561.6 2102.5 L562.6 2102.7 L563.6 2102.5 L564.6 2102.5 L565.6 2102.3 L566.6 2102.3 L567.6 2102.1 L568.6 2102.2 L569.6 2102.4 L570.6 2102.9 L571.6 2103.1 L572.6 2102.9 L573.6 2102.8 L574.6 2102.9 L575.6 2102.9 L576.6 2102.3 L577.6 2102.3 L578 2102.5 L578.6 2102.8 L579.6 2103.4 L580.6 2103.7 L581.6 2103.6 L582.6 2103.6 L583.6 2104 L584.6 2104.1 L585.6 2104 L586.6 2104.3 L587.6 2104.6 L588.6 2104.8 L589.6 2104.3 L590.6 2103.8 L591.6 2103.5 L592.6 2102.8 L593.6 2102.2 L594.6 2101.3 L595.6 2100.4 L596.6 2099.9 L597.6 2099.7 L598.6 2099.7 L599.6 2099.9 L600.6 2099.9 L601.6 2100.2 L602.6 2100.8 L603.6 2101.1 L604.6 2101.1 L605.6 2101 L606.6 2101 L607.6 2101.4 L608.6 2101.4 L609.6 2101.2 L610.6 2101.1 L611.6 2101.6 L612.6 2101.8 L613.6 2101.9 L614.6 2102.3 L615.6 2102 L616.6 2101.4 L617.5 2100.7 L617.6 2100.2 L618.6 2099.9 L619.6 2100.1 L620.6 2101 L621.6 2102 L622.6 2102.9 L623.6 2103.9 L624.6 2104.4 L625.6 2104.3 L626.6 2103.7 L627.6 2102.5 L628.6 2101.5 L629.6 2100.9 L630.6 2100.7 L631.6 2101.2 L632.6 2102.1 L633.6 2102.9 L634.6 2103.5 L635.6 2103.2 L636.6 2102.7 L637.6 2102 L638.6 2101.2 L639.6 2100.3 L640.6 2099.8 L641.6 2099.8 L642.6 2100.1 L643.6 2100.9 L644.6 2102.1 L645.6 2102.7 L646.6 2103.4 L647.6 2104.3 L648.6 2104.9 L649.6 2104.2 L650.6 2103 L651.6 2102 L652.6 2101.3 L653.6 2101.3 L654.6 2102 L655.6 2102.9 L656.6 2104.1 L657 2104.8 L657.6 2105.5 L658.6 2105.8 L659.6 2105.5 L660.6 2104.8 L661.6 2104.3 L662.6 2103.6 L663.6 2102.7 L664.6 2102.1 L665.6 2101.8 L666.6 2101.4 L667.6 2101.3 L668.6 2101.6 L669.6 2101.7 L670.6 2101.6 L671.6 2101.7 L672.6 2101.5 L673.6 2100.5 L674.6 2099.8 L675.6 2099.8 L676.6 2099.9 L677.6 2100.1 L678.6 2100.3 L679.6 2100.2 L680.6 2099.9 L681.6 2099.9 L682.6 2099.5 L683.6 2099 L684.6 2099.2 L685.6 2099.6 L686.6 2100.6 L687.6 2101.4 L688.6 2101.6 L689.6 2101.3 L690.6 2100.7 L691.6 2100.7 L692.6 2101.1 L693.6 2100.8 L694.6 2100.6 L695.6 2100.9 L696 2101.7 L696.6 2101.8 L697.6 2101.6 L698.6 2100.8 L699.6 2100.3 L700.6 2100 L701.6 2100.3 L702.6 2100.6 L703.6 2100.6 L704.6 2100.2 L705.6 2100.1 L706.6 2100 L707.6 2100.2 L708.6 2100.8 L709.6 2101.5 L710.6 2101.9 L711.6 2101.9 L712.6 2101.7 L713.6 2101.8 L714.6 2102.2 L715.6 2102.6 L716.6 2102.9 L717.6 2102.3 L718.6 2101.7 L719.6 2101.2 L720.6 2100.5 L721.6 2100.3 L722.6 2101.1 L723.6 2102.2 L724.6 2103.1 L725.6 2103.8 L726.6 2104.2 L727.6 2103.5 L728.6 2102.4 L729.6 2101.7 L730.6 2101.3 L731.6 2101.9 L732.6 2102.6 L733.6 2103.4 L734.6 2104 L735.6 2104.7 L736.6 2104.9 L737.6 2104.9 L738.6 2104.7 L739.6 2104.6 L740.6 2104.1 L741.6 2103.6 L742.6 2103.6 L743.6 2103.7 L744.6 2103.9 L745.6 2103.9 L746.6 2104.1 L747.6 2104.6 L748.6 2104.7 L749.6 2104.5 L750.6 2103.7 L751.6 2102.9 L752.6 2102.8 L753.6 2102.3 L754.6 2102 L755.6 2102.2 L756.6 2102.8 L757.6 2102.8 L758.6 2103 L759.6 2102.8 L760.6 2102.3 L761.6 2101.7 L762.6 2101.2 L763.6 2100.4 L764.6 2100.4 L765 2101.2"/>
<path stroke="#000" stroke-width="6.2" d="M174.6 2107.3 L175.6 2111.5 L176.6 2115.4 L177.1 2117.5 L177.6 2118.9 L178.6 2121.4 L179.6 2123.8 L179.7 2124 L180.6 2119.4 L181.6 2114.7 L182.6 2109.9 L183.2 2107 L183.6 2106.1 L184.6 2103.8 L185.6 2101.4 L186.3 2100 L186.6 2099.4 L187.6 2097.7 L188.6 2096 L188.8 2095.7 L189.6 2100 L190.6 2105.2 L191.6 2110.3 L191.8 2111.6 L192.6 2109.3 L193.6 2106 L194.6 2102.8 L195.6 2099.8 L196.4 2097.5 L196.6 2097.2 L197.6 2094.9 L198.6 2092.3 L199.6 2089.7"/>
<path stroke="#d40000" d="M174.6 2062.3 L175.6 2079.7 L176.6 2097 L177.6 2112.5 L178.1 2120.4 L178.6 2117.5 L179.6 2111.7 L180.6 2105.7 L181.2 2101.9 L181.6 2100.4 L182.6 2096.4 L183.6 2092.1 L184.2 2089.7 L184.6 2088.1 L185.6 2083.6 L186.6 2078.9 L187.3 2075.9 L187.6 2075.3 L188.6 2072.6 L189.6 2069.9 L190.3 2067.7 L190.6 2066.7 L191.6 2064.2 L192.6 2061.8 L193.6 2059.4 L194.4 2057.6 L194.6 2057.3 L195.6 2056.3 L196.6 2055.6 L197.4 2054.9 L197.6 2053.9 L198.6 2049.1 L199.6 2044.2 L200.5 2039.3 L200.6 2039.1 L201.6 2038.5 L202.6 2037.7 L203.6 2037.2 L204.6 2037 L205.6 2036.8 L206.6 2034.5 L207.6 2032.5 L208.6 2030.6 L209.6 2029.1 L210.6 2027.5 L210.7 2027.5 L211.6 2026 L212.6 2023.9 L213.6 2021.5 L214.6 2018.8 L214.7 2018.1 L215.6 2017.4 L216.6 2016.6 L217.6 2015.9 L218.6 2015.8 L219.6 2016.2 L219.8 2016.2 L220.6 2014.7 L221.6 2012.9 L222.6 2011.1 L223.6 2009 L223.9 2008.1 L224.6 2007.5 L225.6 2006.5 L226.6 2005.6 L227.6 2004.5 L228.6 2003.6 L228.9 2003.3 L229.6 2002 L230.6 2000.1 L231.6 1998.3 L232.6 1996.4 L233 1995.5 L233.6 1996.1 L234.6 1996.9 L235.6 1997.6 L236.6 1998.6 L237.6 1999.6 L238.1 1999.9 L238.6 1998.9 L239.6 1997.3 L240.6 1995.9 L241.6 1994.2 L242.2 1993.5 L242.6 1994.6 L243.6 1996.5 L244.6 1998 L245.6 1999.5 L246.6 2000.8 L247.6 2002.1 L248.3 2002.8 L248.6 2002.3 L249.6 2000.6 L250.6 1998.8 L251.6 1997.3 L252.3 1996.3 L252.6 1996.5 L253.6 1997.5 L254.6 1998.5 L255.6 1999.4 L256.6 2000.7 L257.6 2002.1 L258.6 2003.2 L259.6 2004.4 L260.4 2005.4 L260.6 2005.1 L261.6 2003.7 L262.6 2002.4 L263.6 2001.1 L264.6 1999.8 L265.6 1998.7 L266.5 1997.8 L266.6 1998.1 L267.6 1999.3 L268.6 2000.5 L269.6 2002.2 L270.6 2003.8 L271.6 2005.3 L272.6 2006.9 L273.6 2006.3 L274.6 2005.5 L275.6 2004.6 L276.6 2003.6 L277.6 2002.5 L277.7 2002.5 L278.6 2004.7 L279.6 2006.8 L280.6 2008.8 L281.6 2010.7 L282.6 2012.6 L282.8 2012.8 L283.6 2013 L284.6 2013.7 L285.6 2014.7 L286.6 2015.8 L287.6 2016.9 L288.6 2017.9 L289.6 2018.8 L290.6 2019.1 L291.6 2019.2 L292 2019.1 L292.6 2018.9 L293.6 2018.4 L294.6 2018.2 L295.6 2018.4 L296.6 2018.4 L297 2018.1 L297.6 2018.9 L298.6 2020.5 L299.6 2021.7 L300.6 2022.9 L301.6 2024.4 L302.6 2025.9 L303.1 2026.6 L303.6 2026.3 L304.6 2025.3 L305.6 2024.6 L306.6 2024.1 L307.6 2023.5 L308.2 2022.8 L308.6 2023.1 L309.6 2024.9 L310.6 2026.8 L311.6 2028.5 L312.6 2029.7 L313.3 2030.7 L313.6 2030.6 L314.6 2029.6 L315.6 2028.7 L316.6 2028 L317.6 2027.8 L318.6 2027.8 L319.4 2027.7 L319.6 2028.4 L320.6 2030.4 L321.6 2032.2 L322.6 2033.4 L323.6 2034.4 L324.6 2035.6 L325.6 2036.6 L326.5 2037.2 L326.6 2036.8 L327.6 2035.3 L328.6 2033.7 L329.6 2032.9 L330 2032.9 L330.6 2033.6 L331.6 2034.7 L332.6 2035.7 L333.6 2036.4 L334.6 2036.5 L335.6 2036.4 L336.6 2036.4 L337.6 2037.1 L338.6 2038.5 L339.6 2040.5 L340.6 2042.3 L341.4 2043.3 L341.6 2043.5 L342.6 2044.1 L343.6 2044.5 L344.6 2045.4 L345.6 2046 L346.6 2045.9 L347.6 2045.3 L348.6 2044.8 L349.6 2045.2 L350.6 2045.8 L351.6 2046.2 L352.6 2046.4 L353.6 2047.2 L354.6 2048.3 L355.6 2049.2 L356.6 2049.7 L357.6 2049.8 L358.6 2049.4 L359.6 2049.1 L360.5 2049 L360.6 2048.7 L361.6 2049.5 L362.6 2050.5 L363.6 2051.6 L364.6 2052.8 L365.6 2054.2 L366.6 2055.1 L367.6 2055.3 L368.6 2055.1 L369.6 2055 L370.6 2054.9 L371.6 2054.8 L372.6 2055.3 L373.6 2056.3 L374.6 2057.2 L375.6 2058.3 L376.6 2059.2 L377.6 2060.3 L378.6 2060.4 L379.5 2059.8 L379.6 2058.9 L380.6 2057.4 L381.6 2056.3 L382.6 2055.8 L383.6 2056 L384.6 2057 L385.6 2058.3 L386.6 2059.7 L387.6 2060.9 L388.6 2061.5 L389.6 2061.9 L390.6 2062.1 L391.6 2062.4 L392.6 2063 L393.6 2064 L394.6 2065 L395.6 2066.1 L396.6 2067.1 L397.6 2067.8 L398.6 2067.9 L399.6 2067.5 L400.6 2067.1 L401.6 2066.6 L402.6 2066.7 L403.6 2067.5 L404.6 2068.4 L405.6 2069.3 L406.6 2070.3 L407.6 2070.6 L408.6 2070.6 L409.6 2070.2 L410.6 2069.2 L411.6 2067.8 L412.6 2067 L413.6 2066.7 L414.6 2067 L415.6 2068 L416.6 2070 L417.6 2071.5 L418.6 2072.9 L419.6 2073.9 L420.6 2073.8 L421.6 2072.6 L422.6 2071.1 L423.6 2069.4 L424.6 2068.5 L425.6 2068.4 L426.6 2069.1 L427.6 2070.1 L428.6 2071.6 L429.6 2073.7 L430.6 2076.3 L431.6 2078.2 L432.6 2078.7 L433.6 2078.4 L434.6 2077.4 L435.6 2076.1 L436.6 2075.6 L436.7 2075.1 L437.6 2075 L438.6 2075.3 L439.6 2075.3 L440.6 2075 L441.6 2074.9 L442.6 2075.4 L443.6 2076 L444.6 2076.1 L445.6 2076.1 L446.6 2075.9 L447.6 2076.1 L448.6 2077 L449.6 2078.3 L450.6 2079.9 L451.6 2080.8 L452.6 2081 L453.6 2081.2 L454.6 2081.5 L455.6 2081.4 L456.6 2081.1 L457.6 2080.5 L458.6 2080 L459.6 2080.5 L460.6 2081.4 L461.6 2082.3 L462.6 2082.5 L463.6 2082.2 L464.6 2081.6 L465.6 2081.2 L466.6 2081.1 L467.6 2080.4 L468.6 2079.4 L469.6 2078.3 L470 2077.9 L470.6 2078.3 L471.6 2079.4 L472.6 2080.4 L473.6 2081.7 L474.6 2083.2 L475.6 2084.3 L476.6 2085 L477.6 2084.9 L478.6 2083.9 L479.6 2083.4 L480.6 2083.7 L481.6 2084.4 L482.6 2084.5 L483.6 2084.6 L484.6 2084.9 L485.6 2084.7 L486.6 2084.5 L487.6 2084.6 L488.6 2085 L489.6 2085.3 L490.6 2085.4 L491.6 2085.4 L492.6 2086.3 L493.6 2087.5 L494.6 2088 L495.6 2088.3 L496.6 2088.4 L497.6 2088.5 L498.6 2089 L499.4 2089.2 L499.6 2089.2 L500.6 2089.2 L501.6 2089.2 L502.6 2089.5 L503.6 2090 L504.6 2090.5 L505.6 2089.7 L506.6 2088.8 L507.6 2088.5 L508.6 2088.4 L509.6 2087.5 L510.6 2086.7 L511.6 2086.4 L512.6 2086.4 L513.6 2086.4 L514.6 2086.7 L515.6 2087.5 L516.6 2088.7 L517.6 2090.1 L518.6 2090.4 L519.6 2089.9 L520.6 2089.5 L521.6 2088.4 L522.6 2087.6 L523.6 2087.5 L524.6 2087.6 L525.6 2087.7 L526.6 2088.8 L527.6 2090.2 L528.6 2091.3 L529.6 2091.8 L530.6 2092.6 L531.6 2092.8 L532.6 2092.7 L533.6 2092.2 L534.6 2091.6 L535.6 2091 L536.6 2091 L537.6 2090.9 L538.6 2091.4 L538.7 2092.1 L539.6 2093.3 L540.6 2093.9 L541.6 2094.2 L542.6 2094.1 L543.6 2093.1 L544.6 2092.2 L545.6 2091.5 L546.6 2091.3 L547.6 2091.6 L548.6 2092.4 L549.6 2094 L550.6 2095.5 L551.6 2096.4 L552.6 2096.3 L553.6 2096.1 L554.6 2095.6 L555.6 2094.9 L556.6 2094.7 L557.6 2095.8 L558.6 2097.5 L559.6 2098.7 L560.6 2099.3 L561.6 2099.8 L562.6 2099.9 L563.6 2099.6 L564.6 2099.4 L565.6 2099.2 L566.6 2099.6 L567.6 2099.7 L568.6 2099.7 L569.6 2099.4 L570.6 2098.9 L571.6 2098.7 L572.6 2099 L573.6 2098.9 L574.6 2099.1 L575.6 2099.4 L576.6 2099.1 L577.6 2098.5 L578.1 2098.4 L578.6 2098.5 L579.6 2099.1 L580.6 2100.1 L581.6 2101 L582.6 2101.6 L583.6 2102.2 L584.6 2102.5 L585.6 2103 L586.6 2103.1 L587.6 2102.9 L588.6 2102.3 L589.6 2102 L590.6 2102.1 L591.6 2102.6 L592.6 2103.3 L593.6 2103.8 L594.6 2103.9 L595.6 2103.6 L596.6 2103.4 L597.6 2102.8 L598.6 2102.2 L599.6 2101.9 L600.6 2101.6 L601.6 2101.8 L602.6 2102 L603.6 2102.2 L604.6 2102.7 L605.6 2103.1 L606.6 2102.8 L607.6 2102.4 L608.6 2101.8 L609.6 2101.5 L610.6 2100.9 L611.6 2100.4 L612.6 2100.3 L613.6 2100.4 L614.6 2100.8 L615.6 2101.1 L616.6 2101.6 L617.5 2102 L617.6 2102.5 L618.6 2103.2 L619.6 2103.9 L620.6 2104.6 L621.6 2105 L622.6 2104.7 L623.6 2104.5 L624.6 2104 L625.6 2103.6 L626.6 2103.9 L627.6 2104.1 L628.6 2104.3 L629.6 2104.3 L630.6 2104.3 L631.6 2103.6 L632.6 2102.6 L633.6 2101.5 L634.6 2100.5 L635.6 2100.1 L636.6 2099.9 L637.6 2100 L638.6 2100.9 L639.6 2103 L640.6 2104.5 L641.6 2104.9 L642.6 2104.3 L643.6 2103 L644.6 2101.5 L645.6 2100.7 L646.6 2100.9 L647.6 2101.8 L648.6 2102.6 L649.6 2103.6 L650.6 2104.9 L651.6 2105.5 L652.6 2105.3 L653.6 2105.2 L654.6 2105.3 L655.6 2105.2 L656.6 2105.1 L656.9 2104.3 L657.6 2104.1 L658.6 2104.5 L659.6 2104.5 L660.6 2105.1 L661.6 2105.5 L662.6 2105.3 L663.6 2105.4 L664.6 2105.9 L665.6 2105.7 L666.6 2105.6 L667.6 2105.6 L668.6 2105.2 L669.6 2104.9 L670.6 2105 L671.6 2105.3 L672.6 2105.7 L673.6 2106.5 L674.6 2107 L675.6 2106.9 L676.6 2106.6 L677.6 2105.8 L678.6 2104.2 L679.6 2103.6 L680.6 2104.1 L681.6 2104.9 L682.6 2106 L683.6 2106.5 L684.6 2106.4 L685.6 2105.5 L686.6 2104.4 L687.6 2103.5 L688.6 2102.4 L689.6 2101.5 L690.6 2100.8 L691.6 2100.4 L692.6 2100.5 L693.6 2101.1 L694.6 2101.9 L695.6 2101.9 L696.2 2101.7 L696.6 2101.7 L697.6 2101.7 L698.6 2101.5 L699.6 2101.3 L700.6 2101.6 L701.6 2102 L702.6 2102.6 L703.6 2102.6 L704.6 2102.3 L705.6 2102.5 L706.6 2103.2 L707.6 2103 L708.6 2102.8 L709.6 2103.1 L710.6 2103.3 L711.6 2102.8 L712.6 2102.7 L713.6 2102.9 L714.6 2103.3 L715.6 2103.7 L716.6 2104.2 L717.6 2105.2 L718.6 2106 L719.6 2106.5 L720.6 2106.5 L721.6 2106 L722.6 2105.3 L723.6 2104.3 L724.6 2103.4 L725.6 2102.8 L726.6 2102.8 L727.6 2103.7 L728.6 2104.8 L729.6 2105.3 L730.6 2105.4 L731.6 2104.9 L732.6 2104.2 L733.6 2104.2 L734.6 2105.2 L735.6 2105.8 L736.6 2106.4 L737.6 2107.2 L738.6 2108.3 L739.6 2108.5 L740.6 2107.8 L741.6 2107.3 L742.6 2106.9 L743.6 2106.3 L744.6 2105.4 L745.6 2104.9 L746.6 2104.4 L747.6 2104.1 L748.6 2103.9 L749.6 2104.3 L750.6 2105.1 L751.6 2106.2 L752.6 2106.6 L753.6 2106.2 L754.6 2105.6 L755.6 2105 L756.6 2104.5 L757.6 2104.6 L758.6 2105.1 L759.6 2105.5 L760.6 2106.3 L761.6 2106.8 L762.6 2107 L763.6 2106.5 L764.6 2106 L765 2106"/>
<path stroke="#d40000" stroke-width="6.2" d="M174.6 2062.3 L175.6 2079.7 L176.6 2097 L177.6 2112.5 L178.1 2120.4 L178.6 2117.5 L179.6 2111.7 L180.6 2105.7 L181.2 2101.9 L181.6 2100.4 L182.6 2096.4 L183.6 2092.1 L184.2 2089.7 L184.6 2088.1 L185.6 2083.6 L186.6 2078.9 L187.3 2075.9 L187.6 2075.3 L188.6 2072.6 L189.6 2069.9 L190.3 2067.7 L190.6 2066.7 L191.6 2064.2 L192.6 2061.8 L193.6 2059.4 L194.4 2057.6 L194.6 2057.3 L195.6 2056.3 L196.6 2055.6 L197.4 2054.9 L197.6 2053.9 L198.6 2049.1 L199.6 2044.2"/>
</g>
<g font-size="50" text-anchor="end" fill="#000">
<text x="162" y="2146.6">0.15</text>
<text x="162" y="1991.5">0.30</text>
<text x="162" y="1836.4">0.45</text>
</g>
<g font-size="50" text-anchor="middle" fill="#000">
<text x="173.5" y="2236.9">0</text>
<text x="321.4" y="2236.9">250</text>
<text x="469.4" y="2236.9">500</text>
<text x="617.3" y="2236.9">750</text>
<text x="765.3" y="2236.9">1000</text>
</g>
<text x="370.99" y="2291.70" font-size="50" textLength="194.26" lengthAdjust="spacingAndGlyphs">Time (fs)</text>
<text x="203.24" y="1845.00" font-size="50" textLength="309.76" lengthAdjust="spacingAndGlyphs">(i) Fragment 1</text>
<path d="M488.6 1942H604.9" stroke="#000" stroke-width="5.0"/>
<text x="616.19" y="1960.40" font-size="50" textLength="107.00" lengthAdjust="spacingAndGlyphs">ChlA</text>
<path d="M488.6 2001.7H604.9" stroke="#d40000" stroke-width="5.0"/>
<text x="616.15" y="2019.90" font-size="50" textLength="108.69" lengthAdjust="spacingAndGlyphs">ChlB</text>
<g stroke="#000" stroke-width="2.2" fill="none" stroke-linecap="round">
<rect x="930.5" y="1765.3" width="591.7" height="413.6" stroke-linejoin="round"/>
<path d="M1078.4 2178.9V2172.9 M1078.4 1765.3V1771.3 M1226.3 2178.9V2172.9 M1226.3 1765.3V1771.3 M1374.3 2178.9V2172.9 M1374.3 1765.3V1771.3 M930.5 2127.2H936.5 M1522.2 2127.2H1516.2 M930.5 1972.1H936.5 M1522.2 1972.1H1516.2 M930.5 1817H936.5 M1522.2 1817H1516.2"/>
</g>
<clipPath id="c9"><rect x="929.5" y="1764.3" width="593.7" height="415.6"/></clipPath>
<g clip-path="url(#c9)" fill="none" stroke-width="5.5" stroke-linejoin="round" stroke-linecap="round">
<path stroke="#000" d="M931.1 2030.2 L932.1 2003.1 L933.1 2002.5 L934.1 2001.5 L934.7 2000.6 L935.1 2004.8 L936.1 2015 L936.2 2016 L937.1 2022.7 L938.1 2030.4 L938.2 2031.7 L939.1 2033.3 L940.1 2034.6 L940.8 2035.6 L941.1 2037.2 L942.1 2042.8 L943.1 2048 L943.3 2048.4 L944.1 2051.3 L945.1 2055.6 L945.3 2056.6 L946.1 2053.5 L947.1 2049.7 L947.9 2046.4 L948.1 2048.6 L949.1 2059.7 L949.9 2069 L950.1 2069.4 L951.1 2072.7 L952.1 2076.2 L953.1 2079.8 L953.5 2080.9 L954.1 2082 L955.1 2084.2 L956.1 2086.5 L957.1 2088.8 L957.5 2089.7 L958.1 2090.6 L959.1 2092.3 L960.1 2094 L961.1 2095.7 L961.6 2096.5 L962.1 2096.2 L963.1 2095.9 L964.1 2095.5 L965.1 2095.3 L965.7 2095.2 L966.1 2095.4 L967.1 2095.9 L968.1 2096.3 L969.1 2096.7 L970.1 2097.1 L970.7 2097.3 L971.1 2096.8 L972.1 2095.6 L973.1 2094.1 L974.1 2092.2 L975.1 2090.7 L975.8 2089.7 L976.1 2089.8 L977.1 2089.6 L978.1 2089.3 L979.1 2089.4 L979.9 2088.9 L980.1 2088.9 L981.1 2089.6 L982.1 2090.2 L983.1 2091 L983.9 2091.7 L984.1 2091 L985.1 2088.4 L986.1 2086.2 L987.1 2084 L988 2082.1 L988.1 2082.2 L989.1 2082 L990.1 2081.4 L991.1 2080.9 L992.1 2080.7 L993.1 2080.6 L994.1 2080.8 L995.1 2081.4 L996.1 2082 L997.1 2082.7 L998.1 2083.2 L998.2 2083.3 L999.1 2081.8 L1000.1 2080.1 L1001.1 2078.1 L1002.1 2076 L1002.2 2075.6 L1003.1 2075.2 L1004.1 2074.7 L1005.1 2074.6 L1006.1 2075 L1007.1 2075.7 L1008.1 2076.2 L1008.3 2076.1 L1009.1 2075.9 L1010.1 2075.4 L1011.1 2074.7 L1012.1 2074.4 L1012.4 2074 L1013.1 2072.8 L1014.1 2071.5 L1015.1 2070.3 L1016.1 2069.1 L1017.1 2068.4 L1018.1 2068.1 L1019.1 2067.6 L1019.5 2067.5 L1020.1 2068.1 L1021.1 2068.7 L1022.1 2068.9 L1023.1 2068.8 L1024.1 2068.7 L1025.1 2068.4 L1025.6 2068.1 L1026.1 2067.9 L1027.1 2068.5 L1028.1 2069.2 L1029.1 2070 L1030.1 2070.8 L1030.7 2071.1 L1031.1 2070.7 L1032.1 2070 L1033.1 2069.6 L1034.1 2069.1 L1035.1 2068.5 L1036.1 2067.4 L1036.8 2066.5 L1037.1 2066 L1038.1 2065.7 L1039.1 2065.8 L1040.1 2065.9 L1041.1 2065.8 L1041.9 2065.5 L1042.1 2064.7 L1043.1 2064.7 L1044.1 2064.7 L1045.1 2064.6 L1046.1 2064.7 L1047.1 2065.5 L1048.1 2066 L1049.1 2066 L1050 2066.2 L1050.1 2065.9 L1051.1 2065 L1052.1 2064.3 L1053.1 2063.6 L1054.1 2063.2 L1055.1 2062.7 L1056.1 2062.5 L1057.1 2062.3 L1058.1 2062.4 L1059.1 2062.2 L1060.1 2061.5 L1061.1 2060.8 L1062.1 2060.3 L1063.1 2060.5 L1064.1 2060.4 L1065.1 2059.8 L1066.1 2059.6 L1067.1 2059.5 L1067.3 2059.2 L1068.1 2058.7 L1069.1 2058 L1070.1 2057.9 L1071.1 2058.2 L1072.1 2058.2 L1072.4 2058.1 L1073.1 2058.1 L1074.1 2057.9 L1075.1 2057.7 L1076.1 2057.8 L1077.1 2057.7 L1078.1 2057.2 L1079.1 2056.1 L1080.1 2055.2 L1081.1 2054.7 L1082.1 2053.9 L1083.1 2053.2 L1084.1 2053.2 L1085 2053.2 L1085.1 2053.2 L1086.1 2053.6 L1087.1 2054 L1088.1 2054.1 L1089.1 2053.6 L1090.1 2053.3 L1091.1 2053.3 L1092.1 2053.5 L1093.1 2053.7 L1094.1 2054.1 L1095.1 2054.3 L1096.1 2054.5 L1096.4 2054.5 L1097.1 2054.7 L1098.1 2054.6 L1099.1 2054.2 L1100.1 2053.6 L1101.1 2052.9 L1102.1 2052.4 L1103.1 2051.9 L1104.1 2051.7 L1105.1 2052.1 L1106.1 2052.6 L1107.1 2052.9 L1108.1 2053.1 L1109.1 2053.8 L1110.1 2054.5 L1111.1 2054.8 L1112.1 2054.7 L1113.1 2054.4 L1114.1 2053.9 L1115.1 2053.2 L1115.5 2052.5 L1116.1 2051.1 L1117.1 2050.2 L1118.1 2049.9 L1119.1 2049.6 L1120.1 2049.2 L1121.1 2049.1 L1122.1 2049.6 L1123.1 2050.2 L1124.1 2050.8 L1125.1 2050.9 L1126.1 2050.4 L1127.1 2049.9 L1128.1 2050.5 L1129.1 2051.2 L1130.1 2051.3 L1131.1 2051 L1132.1 2050.8 L1133.1 2050.6 L1134.1 2049.8 L1134.5 2049.4 L1135.1 2048.8 L1136.1 2048.2 L1137.1 2048.2 L1138.1 2048.6 L1139.1 2048.9 L1140.1 2048.8 L1141.1 2048.4 L1142.1 2048.4 L1143.1 2047.9 L1144.1 2047.2 L1145.1 2046.7 L1146.1 2046.3 L1147.1 2046.4 L1148.1 2047.2 L1149.1 2048.3 L1150.1 2049.2 L1151.1 2049.7 L1152.1 2049.7 L1153.1 2049.4 L1153.6 2048.8 L1154.1 2048.1 L1155.1 2047.1 L1156.1 2046.7 L1157.1 2046.7 L1158.1 2046.1 L1159.1 2045 L1160.1 2044.4 L1161.1 2043.8 L1162.1 2044.1 L1163.1 2045.5 L1164.1 2046.6 L1165.1 2047.3 L1166.1 2048 L1167.1 2048.8 L1168.1 2049.1 L1169.1 2049.2 L1170.1 2048.8 L1171.1 2048.4 L1172.1 2048.3 L1172.6 2048.1 L1173.1 2047.5 L1174.1 2047.4 L1175.1 2047.4 L1176.1 2046.6 L1177.1 2045.8 L1178.1 2045.4 L1179.1 2045.9 L1180.1 2046.8 L1181.1 2047.6 L1182.1 2048.6 L1183.1 2049.2 L1184.1 2049 L1185.1 2048.4 L1186.1 2047.8 L1187.1 2047.1 L1188.1 2046.3 L1189.1 2045.1 L1190.1 2044.2 L1191.1 2043.3 L1191.7 2042.7 L1192.1 2043 L1193.1 2043.4 L1194.1 2043.6 L1195.1 2044.2 L1196.1 2045.1 L1197.1 2046 L1198.1 2046.8 L1199.1 2046.9 L1200.1 2045.7 L1201.1 2044.3 L1202.1 2043.9 L1203.1 2043.5 L1204.1 2043.6 L1205.1 2044.2 L1206.1 2045 L1207.1 2046.2 L1208.1 2046.6 L1209.1 2046.9 L1210.1 2046.8 L1211.1 2046.3 L1212.1 2045.6 L1213.1 2045.5 L1214.1 2045.9 L1215.1 2046.4 L1216.1 2046.6 L1217.1 2046.8 L1218.1 2047.5 L1219.1 2047.9 L1220.1 2047.9 L1221.1 2047.4 L1222.1 2046.9 L1223.1 2046 L1224.1 2045.4 L1225 2044.5 L1225.1 2043.7 L1226.1 2043.7 L1227.1 2044 L1228.1 2044.2 L1229.1 2045 L1230.1 2045.6 L1231.1 2045.8 L1232.1 2045.6 L1233.1 2045.3 L1234.1 2045.3 L1235.1 2045.6 L1236.1 2045.4 L1237.1 2045.4 L1238.1 2046.2 L1239.1 2047.3 L1240.1 2048 L1241.1 2048.3 L1242.1 2048.4 L1243.1 2048.8 L1244.1 2048.8 L1245.1 2047.9 L1246.1 2046.4 L1247.1 2046 L1248.1 2046.2 L1249.1 2046.9 L1250.1 2047.6 L1251.1 2048.2 L1252.1 2048.8 L1253.1 2048.6 L1254.1 2048.2 L1255.1 2048.1 L1256.1 2048.1 L1257.1 2047.6 L1258.1 2047 L1259.1 2046.3 L1260.1 2045.6 L1261.1 2045.6 L1262.1 2045.7 L1263.1 2046.1 L1264.1 2046.5 L1265.1 2046.9 L1266.1 2047.3 L1267.1 2047.9 L1268.1 2048.8 L1269.1 2049.3 L1270.1 2049.5 L1271.1 2049.8 L1272.1 2049.6 L1273.1 2048.8 L1274.1 2048 L1275.1 2047.3 L1276.1 2046.4 L1277.1 2045.6 L1278.1 2044.9 L1279 2044.5 L1279.1 2044.6 L1280.1 2044.5 L1281.1 2044.9 L1282.1 2045.3 L1283.1 2045.8 L1284.1 2045.8 L1285.1 2046 L1286.1 2046.3 L1287.1 2046.8 L1288.1 2046.8 L1289.1 2046.4 L1290.1 2046.2 L1291.1 2045.7 L1292.1 2045.5 L1293.1 2046.1 L1294.1 2046.9 L1295.1 2047.3 L1296.1 2047.4 L1297.1 2047.2 L1298.1 2046.5 L1299.1 2045.9 L1300.1 2045.1 L1301.1 2044.6 L1302.1 2045 L1303.1 2044.9 L1304.1 2044.3 L1305.1 2044.3 L1306.1 2044.5 L1307.1 2044.5 L1308.1 2045.2 L1309.1 2046 L1310.1 2046.5 L1311.1 2045.5 L1312.1 2045 L1313.1 2045.2 L1314.1 2045.1 L1315.1 2044.9 L1316.1 2045.3 L1317.1 2045.9 L1318.1 2046.2 L1319.1 2045.9 L1320.1 2045.2 L1321.1 2044.9 L1322.1 2044.5 L1323.1 2044.1 L1324.1 2043.3 L1325.1 2042.8 L1326.1 2043.8 L1327.1 2045 L1328.1 2045.8 L1329.1 2046.7 L1330.1 2046.7 L1331.1 2046.2 L1332.1 2045.7 L1333.1 2044.9 L1334.1 2044.5 L1335.1 2044.4 L1336.1 2044.7 L1337.1 2045.8 L1338 2046.9 L1338.1 2047.1 L1339.1 2047 L1340.1 2046.7 L1341.1 2046.4 L1342.1 2045.7 L1343.1 2045.3 L1344.1 2044.7 L1345.1 2044.1 L1346.1 2044.1 L1347.1 2044.7 L1348.1 2045.1 L1349.1 2046.3 L1350.1 2047.3 L1351.1 2047.5 L1352.1 2047.4 L1353.1 2047.3 L1354.1 2046.6 L1355.1 2045.6 L1356.1 2045.2 L1357.1 2045.5 L1358.1 2046.1 L1359.1 2046.4 L1360.1 2046.5 L1361.1 2046.8 L1362.1 2047.5 L1363.1 2047.6 L1364.1 2047.5 L1365.1 2047.1 L1366.1 2046.6 L1367.1 2046.2 L1368.1 2045.7 L1369.1 2045.5 L1370.1 2046 L1371.1 2046.4 L1372.1 2046.5 L1373.1 2046.2 L1374.1 2046.1 L1375.1 2046.2 L1376.1 2045.9 L1377.1 2045.8 L1378.1 2045.9 L1379.1 2046 L1380.1 2045.9 L1381.1 2046.1 L1382.1 2046.8 L1383.1 2047.5 L1384.1 2047.5 L1385.1 2047 L1386.1 2046.5 L1387.1 2045.5 L1388.1 2044.5 L1389.1 2043.2 L1390.1 2042.8 L1391.1 2043.3 L1392.1 2044.1 L1393.1 2044.7 L1394.1 2046.1 L1395.1 2047.4 L1396.1 2047.8 L1397 2047.3 L1397.1 2047.2 L1398.1 2047.1 L1399.1 2047.1 L1400.1 2047.8 L1401.1 2048.2 L1402.1 2048.1 L1403.1 2048 L1404.1 2047.9 L1405.1 2047.4 L1406.1 2047.4 L1407.1 2047.5 L1408.1 2047.1 L1409.1 2046.8 L1410.1 2046.8 L1411.1 2046 L1412.1 2045.5 L1413.1 2045.7 L1414.1 2045.2 L1415.1 2044.3 L1416.1 2043.7 L1417.1 2043.2 L1418.1 2043.1 L1419.1 2043.1 L1420.1 2043.3 L1421.1 2043.9 L1422.1 2044.5 L1423.1 2044.9 L1424.1 2045.3 L1425.1 2046.3 L1426.1 2046.9 L1427.1 2047.6 L1428.1 2048.3 L1429.1 2048.8 L1430.1 2048.6 L1431.1 2048.1 L1432.1 2048.2 L1433.1 2048.2 L1434.1 2047.9 L1435.1 2047.6 L1436.1 2047.9 L1437.1 2047.9 L1438.1 2047.9 L1439.1 2048.5 L1440.1 2048.9 L1441.1 2048.6 L1442.1 2048 L1443.1 2047 L1444.1 2046.1 L1445.1 2045.4 L1446.1 2045.3 L1447.1 2045.7 L1448.1 2045.6 L1449.1 2045.7 L1450.1 2046.1 L1451.1 2046.1 L1452.1 2046.3 L1453.1 2046.8 L1454.1 2047.5 L1455.1 2048.3 L1456 2049.2 L1456.1 2049.6 L1457.1 2049.1 L1458.1 2048.4 L1459.1 2047.7 L1460.1 2047.3 L1461.1 2047.1 L1462.1 2047.1 L1463.1 2047.5 L1464.1 2048 L1465.1 2048 L1466.1 2048.1 L1467.1 2048.2 L1468.1 2048.2 L1469.1 2048.5 L1470.1 2049 L1471.1 2049.4 L1472.1 2050.2 L1473.1 2051 L1474.1 2051 L1475.1 2050.8 L1476.1 2050.3 L1477.1 2049.6 L1478.1 2049.3 L1479.1 2049.7 L1480.1 2050.3 L1481.1 2050.9 L1482.1 2051.4 L1483.1 2051.7 L1484.1 2052 L1485.1 2051.8 L1486.1 2051 L1487.1 2050 L1488.1 2049.4 L1489.1 2049.4 L1490.1 2049.7 L1491.1 2050.8 L1492.1 2052.1 L1493.1 2053.1 L1494.1 2053.6 L1495.1 2053.9 L1496.1 2053.4 L1497.1 2052.5 L1498.1 2051.3 L1499.1 2050.7 L1500.1 2050.8 L1501.1 2050.6 L1502.1 2050.4 L1503.1 2050.4 L1504.1 2050.6 L1505.1 2050.8 L1506.1 2050.4 L1507.1 2050.1 L1508.1 2049.9 L1509.1 2049.7 L1510.1 2048.7 L1511.1 2048.2 L1512.1 2048 L1513.1 2048.6 L1514.1 2049.8 L1515.1 2050.9 L1516.1 2051.8 L1517.1 2052 L1518.1 2051.7 L1519.1 2051.6 L1520.1 2051.2 L1521.1 2050.8 L1522 2050.6"/>
<path stroke="#000" stroke-width="6.2" d="M931.1 2030.2 L932.1 2003.1 L933.1 2002.5 L934.1 2001.5 L934.7 2000.6 L935.1 2004.8 L936.1 2015 L936.2 2016 L937.1 2022.7 L938.1 2030.4 L938.2 2031.7 L939.1 2033.3 L940.1 2034.6 L940.8 2035.6 L941.1 2037.2 L942.1 2042.8 L943.1 2048 L943.3 2048.4 L944.1 2051.3 L945.1 2055.6 L945.3 2056.6 L946.1 2053.5 L947.1 2049.7 L947.9 2046.4 L948.1 2048.6 L949.1 2059.7 L949.9 2069 L950.1 2069.4 L951.1 2072.7 L952.1 2076.2 L953.1 2079.8 L953.5 2080.9 L954.1 2082 L955.1 2084.2 L956.1 2086.5 L957.1 2088.8 L957.5 2089.7 L958.1 2090.6 L959.1 2092.3 L960.1 2094 L961.1 2095.7 L961.6 2096.5 L962.1 2096.2 L963.1 2095.9 L964.1 2095.5 L965.1 2095.3 L965.7 2095.2 L966.1 2095.4 L967.1 2095.9 L968.1 2096.3 L969.1 2096.7 L970.1 2097.1 L970.7 2097.3 L971.1 2096.8 L972.1 2095.6 L973.1 2094.1 L974.1 2092.2"/>
<path stroke="#d40000" d="M931.1 2060.7 L932.1 2046.9 L932.6 2039.9 L933.1 2042.2 L934.1 2046.7 L935.1 2051 L935.2 2051.2 L936.1 2067.1 L936.7 2077.7 L937.1 2078.6 L938.1 2082.1 L939.1 2085.9 L939.2 2086.4 L940.1 2086.8 L941.1 2088 L942.1 2089.3 L943.1 2090.2 L943.3 2090.4 L944.1 2092.1 L945.1 2094 L946.1 2095.7 L946.3 2095.8 L947.1 2089.6 L948.1 2082 L949.1 2074.6 L949.4 2072.6 L950.1 2079 L951.1 2087.9 L951.9 2095.1 L952.1 2094.5 L953.1 2092.8 L954.1 2090.8 L955.1 2088.8 L955.5 2087.8 L956.1 2087.3 L957.1 2086.8 L958.1 2086.1 L959.1 2085.4 L959.6 2085.3 L960.1 2086.2 L961.1 2087.8 L962.1 2089.4 L963.1 2090.8 L963.6 2091.5 L964.1 2091.7 L965.1 2092.5 L966.1 2093.5 L967.1 2094.4 L967.7 2095.2 L968.1 2092.8 L969.1 2086.3 L970.1 2079.7 L970.2 2078.8 L971.1 2077.9 L972.1 2077.1 L972.8 2076.7 L973.1 2076.7 L974.1 2077.3 L975.1 2078.2 L976.1 2079.2 L977.1 2079.9 L977.8 2080.2 L978.1 2079.8 L979.1 2078.7 L980.1 2077.8 L981.1 2077.1 L981.9 2076.5 L982.1 2075.8 L983.1 2073.8 L984.1 2072.1 L985.1 2070.5 L986 2068.9 L986.1 2069 L987.1 2069.5 L988.1 2069.6 L989.1 2069.5 L990.1 2069.3 L991.1 2068.9 L992.1 2067.9 L993.1 2066.8 L994.1 2065.2 L995.1 2063.5 L996.1 2062.9 L997.1 2062.9 L998.1 2062.8 L999.1 2062.7 L1000.1 2062.7 L1001.1 2062.3 L1002.1 2061.7 L1002.2 2061.8 L1003.1 2061.5 L1004.1 2060.8 L1005.1 2059.9 L1006.1 2059.5 L1007.1 2059.4 L1008.1 2058.6 L1009.1 2057.8 L1009.3 2058 L1010.1 2058.3 L1011.1 2058.4 L1012.1 2058.1 L1013.1 2057.8 L1014.1 2057 L1015.1 2056.6 L1016.1 2056.7 L1016.5 2056.8 L1017.1 2056.9 L1018.1 2057 L1019.1 2056.9 L1020.1 2056.8 L1021.1 2056.8 L1022.1 2056.4 L1023.1 2055.7 L1024.1 2055.1 L1025.1 2054.9 L1026.1 2054.6 L1026.6 2054.7 L1027.1 2054.8 L1028.1 2055.1 L1029.1 2055.4 L1030.1 2055.7 L1031.1 2055.9 L1032.1 2055.7 L1033.1 2055.4 L1034.1 2055.2 L1035.1 2055 L1036.1 2055.3 L1036.8 2055.6 L1037.1 2055.5 L1038.1 2055.6 L1039.1 2055.9 L1040.1 2055.8 L1041.1 2055.6 L1042.1 2055.7 L1043.1 2056 L1044.1 2056.1 L1045.1 2056 L1046.1 2055.7 L1047 2055.7 L1047.1 2055.5 L1048.1 2054.7 L1049.1 2054.1 L1050.1 2053.8 L1051.1 2053.5 L1052.1 2053.2 L1053.1 2053.2 L1054.1 2053 L1055.1 2052.9 L1056.1 2053.6 L1057.1 2053.7 L1058.1 2053.9 L1059.1 2054.2 L1060.1 2055 L1061.1 2055.5 L1062.1 2056 L1062.2 2056.6 L1063.1 2057 L1064.1 2057 L1065.1 2056.9 L1066.1 2056.4 L1067.1 2055.7 L1068.1 2054.9 L1069.1 2053.8 L1070.1 2052.5 L1070.3 2051.7 L1071.1 2051.5 L1072.1 2051.5 L1073.1 2051.7 L1074.1 2051.9 L1075.1 2051.8 L1076.1 2051.8 L1077.1 2051.8 L1078.1 2051.5 L1079.1 2052 L1080.1 2052.8 L1081.1 2053.4 L1082.1 2053.7 L1083.1 2053.8 L1084.1 2053.6 L1085 2053.6 L1085.1 2053.5 L1086.1 2053.1 L1086.9 2052.8 L1087.1 2052.7 L1088.1 2052.6 L1089.1 2052.4 L1090.1 2052 L1091.1 2052.2 L1092.1 2052.1 L1093.1 2052 L1094.1 2052.3 L1095.1 2052.7 L1096.1 2053.4 L1097.1 2054.2 L1098.1 2054.2 L1099.1 2053.2 L1100.1 2052.3 L1101.1 2050.9 L1102.1 2050 L1103.1 2050.3 L1104.1 2050.8 L1105.1 2051.4 L1106.1 2051.8 L1107.1 2052.2 L1108.1 2052.2 L1109.1 2051.5 L1110.1 2051.2 L1111.1 2051.6 L1112.1 2051.9 L1113.1 2052.6 L1114.1 2052.9 L1115.1 2052.3 L1115.5 2052 L1116.1 2052.1 L1117.1 2052.4 L1118.1 2052 L1119.1 2051.3 L1120.1 2051.1 L1121.1 2050.7 L1122.1 2050.1 L1123.1 2049.6 L1124.1 2049.5 L1125.1 2049.5 L1126.1 2050.1 L1127.1 2050.9 L1128.1 2051.6 L1129.1 2052.4 L1130.1 2052.4 L1131.1 2051.5 L1132.1 2050.9 L1133.1 2050.5 L1134.1 2050.3 L1135.1 2050.5 L1136.1 2050.6 L1137.1 2051.3 L1138.1 2051.9 L1139.1 2052.7 L1140.1 2053.6 L1141.1 2053.7 L1142.1 2053.2 L1143.1 2052.5 L1144 2051.8 L1144.1 2051.2 L1145.1 2050.6 L1146.1 2050.4 L1147.1 2050.9 L1148.1 2051.1 L1149.1 2051 L1150.1 2050.7 L1151.1 2050.5 L1152.1 2050.1 L1153.1 2049.4 L1154.1 2049.9 L1155.1 2050.1 L1156.1 2050.2 L1157.1 2050.8 L1158.1 2050.7 L1159.1 2050.5 L1160.1 2050.7 L1161.1 2050.7 L1162.1 2050.6 L1163.1 2051.2 L1164.1 2051.8 L1165.1 2052.1 L1166.1 2052.1 L1167.1 2052.4 L1168.1 2052.8 L1169.1 2053.1 L1170.1 2053.1 L1171.1 2053.1 L1172.1 2053.3 L1172.6 2053.7 L1173.1 2053.3 L1174.1 2052.6 L1175.1 2052.3 L1176.1 2051.2 L1177.1 2050 L1178.1 2049.1 L1179.1 2048.5 L1180.1 2048.5 L1181.1 2049.1 L1182.1 2050 L1183.1 2050.8 L1184.1 2051.1 L1185.1 2051.4 L1186.1 2051.5 L1187.1 2051.1 L1188.1 2051.4 L1189.1 2051.4 L1190.1 2051.7 L1191.1 2051.9 L1192.1 2052 L1193.1 2051.9 L1194.1 2052.5 L1195.1 2053.1 L1196.1 2053.3 L1197.1 2053.5 L1198.1 2053.5 L1199.1 2053.4 L1200.1 2052.9 L1201.1 2052.4 L1201.2 2052 L1202.1 2051.3 L1203.1 2051 L1204.1 2051.6 L1205.1 2052.2 L1206.1 2052.7 L1207.1 2052.3 L1208.1 2051.1 L1209.1 2050.2 L1210.1 2049.8 L1211.1 2049.4 L1212.1 2049.2 L1213.1 2049.8 L1214.1 2050.4 L1215.1 2050.6 L1216.1 2050.9 L1217.1 2050.4 L1218.1 2049.9 L1219.1 2049.8 L1220.1 2049.9 L1221.1 2049.2 L1222.1 2049.3 L1223.1 2049.8 L1224.1 2050.7 L1225 2051.8 L1225.1 2052.1 L1226.1 2052.6 L1227.1 2052.7 L1228.1 2053.3 L1229.1 2053.4 L1230.1 2052.8 L1231.1 2051.4 L1232.1 2050.4 L1233.1 2049.9 L1234.1 2050.1 L1235.1 2050.6 L1236.1 2051.1 L1237.1 2052.1 L1238.1 2053 L1239.1 2053.6 L1240.1 2053.9 L1241.1 2053.5 L1242.1 2052.4 L1243.1 2052.2 L1244.1 2051.7 L1245.1 2051.5 L1246.1 2051.9 L1247.1 2051.9 L1248.1 2051.6 L1249.1 2051.2 L1250.1 2051.4 L1251.1 2052.1 L1252.1 2052.4 L1253.1 2052.4 L1254.1 2051.9 L1255.1 2051.1 L1256.1 2050.9 L1257.1 2051 L1258.1 2051.2 L1259.1 2051.9 L1260.1 2052.3 L1261.1 2052.4 L1262.1 2052.6 L1263.1 2052.4 L1264.1 2052.1 L1265.1 2051.6 L1266.1 2051 L1267.1 2051.3 L1268.1 2051.2 L1269.1 2050.6 L1270.1 2050.5 L1271.1 2050.6 L1272.1 2051.3 L1273.1 2052.2 L1274.1 2052.6 L1275.1 2052.5 L1276.1 2051.8 L1277.1 2050.9 L1278.1 2050.2 L1279 2050.5 L1279.1 2050.4 L1280.1 2050.8 L1281.1 2052.1 L1282.1 2053.2 L1283.1 2053.7 L1284.1 2054 L1285.1 2053.8 L1286.1 2053 L1287.1 2051.7 L1288.1 2051.2 L1289.1 2050.9 L1290.1 2050.6 L1291.1 2050.8 L1292.1 2051.4 L1293.1 2052 L1294.1 2052.7 L1295.1 2053.6 L1296.1 2054.4 L1297.1 2054.5 L1298.1 2054 L1299.1 2053.2 L1300.1 2052.4 L1301.1 2052.4 L1302.1 2052.2 L1303.1 2051.7 L1304.1 2051.2 L1305.1 2051.2 L1306.1 2051.5 L1307.1 2052 L1308.1 2052.4 L1309.1 2052.4 L1310.1 2052.5 L1311.1 2052.7 L1312.1 2052.8 L1313.1 2052.9 L1314.1 2053 L1315.1 2053.3 L1316.1 2053.6 L1317.1 2053.4 L1318.1 2053 L1319.1 2052 L1320.1 2050.3 L1321.1 2049.3 L1322.1 2049.2 L1323.1 2050.2 L1324.1 2051.5 L1325.1 2052.6 L1326.1 2053.4 L1327.1 2053.7 L1328.1 2053.3 L1329.1 2053.3 L1330.1 2053.9 L1331.1 2053.8 L1332.1 2053.3 L1333.1 2053.1 L1334.1 2053.3 L1335.1 2053.4 L1336.1 2053.1 L1337.1 2053 L1338 2053.1 L1338.1 2053.4 L1339.1 2054.4 L1340.1 2055.5 L1341.1 2056 L1342.1 2055 L1343.1 2053.3 L1344.1 2051.6 L1345.1 2050.2 L1346.1 2050.1 L1347.1 2051.9 L1348.1 2053.7 L1349.1 2054.9 L1350.1 2055.3 L1351.1 2055.4 L1352.1 2055 L1353.1 2054.3 L1354.1 2054.1 L1355.1 2053.8 L1356.1 2054.1 L1357.1 2054.6 L1358.1 2054.9 L1359.1 2055 L1360.1 2055.4 L1361.1 2056.2 L1362.1 2056.9 L1363.1 2057.1 L1364.1 2056.9 L1365.1 2056.2 L1366.1 2055.4 L1367.1 2054.4 L1368.1 2054.1 L1369.1 2053.7 L1370.1 2053.5 L1371.1 2053.6 L1372.1 2053.7 L1373.1 2053.6 L1374.1 2052.8 L1375.1 2051.9 L1376.1 2051.3 L1377.1 2050.7 L1378.1 2050.6 L1379.1 2051.2 L1380.1 2051.7 L1381.1 2052.5 L1382.1 2052.9 L1383.1 2052.3 L1384.1 2051.5 L1385.1 2050.8 L1386.1 2050.2 L1387.1 2050 L1388.1 2049.9 L1389.1 2049.7 L1390.1 2049.6 L1391.1 2049.5 L1392.1 2050 L1393.1 2050.2 L1394.1 2050.7 L1395.1 2051.4 L1396.1 2051.5 L1397 2051.1 L1397.1 2051.2 L1398.1 2051.6 L1399.1 2052 L1400.1 2051.8 L1401.1 2051.4 L1402.1 2051.4 L1403.1 2051.4 L1404.1 2051 L1405.1 2050.7 L1406.1 2050.6 L1407.1 2050.4 L1408.1 2049.6 L1409.1 2048.9 L1410.1 2049.4 L1411.1 2050.9 L1412.1 2052.5 L1413.1 2053.7 L1414.1 2054.1 L1415.1 2053.6 L1416.1 2053.1 L1417.1 2053 L1418.1 2052.6 L1419.1 2052.1 L1420.1 2051.9 L1421.1 2052.4 L1422.1 2052.8 L1423.1 2053.1 L1424.1 2052.6 L1425.1 2051.7 L1426.1 2050.9 L1427.1 2051.2 L1428.1 2051.6 L1429.1 2051.2 L1430.1 2050.7 L1431.1 2050.4 L1432.1 2049.9 L1433.1 2050.1 L1434.1 2051 L1435.1 2051.6 L1436.1 2051.6 L1437.1 2051.9 L1438.1 2052.7 L1439.1 2053 L1440.1 2052.5 L1441.1 2051.5 L1442.1 2051.1 L1443.1 2051 L1444.1 2051 L1445.1 2051.3 L1446.1 2052 L1447.1 2053.3 L1448.1 2054.2 L1449.1 2054.2 L1450.1 2054.1 L1451.1 2053.8 L1452.1 2052.6 L1453.1 2051.7 L1454.1 2051.1 L1455.1 2050.7 L1456 2050.7 L1456.1 2050.3 L1457.1 2050 L1458.1 2050.9 L1459.1 2051.9 L1460.1 2052.2 L1461.1 2052.8 L1462.1 2053.2 L1463.1 2053.3 L1464.1 2052.9 L1465.1 2051.9 L1466.1 2050.9 L1467.1 2050 L1468.1 2049.4 L1469.1 2049.9 L1470.1 2050.7 L1471.1 2052.3 L1472.1 2054.1 L1473.1 2055.3 L1474.1 2055.1 L1475.1 2054.4 L1476.1 2053.4 L1477.1 2052.2 L1478.1 2051.1 L1479.1 2050.5 L1480.1 2049.6 L1481.1 2049.4 L1482.1 2049.4 L1483.1 2049.7 L1484.1 2050.3 L1485.1 2050.3 L1486.1 2050.1 L1487.1 2049.8 L1488.1 2049.7 L1489.1 2049.6 L1490.1 2049.8 L1491.1 2050.1 L1492.1 2050.9 L1493.1 2052.6 L1494.1 2053.6 L1495.1 2053 L1496.1 2052.3 L1497.1 2051.8 L1498.1 2051.5 L1499.1 2051.1 L1500.1 2050.4 L1501.1 2050.2 L1502.1 2050.7 L1503.1 2051.5 L1504.1 2052 L1505.1 2052.2 L1506.1 2051.6 L1507.1 2050.9 L1508.1 2050.5 L1509.1 2050 L1510.1 2049.5 L1511.1 2050.2 L1512.1 2051.2 L1513.1 2052.2 L1514.1 2053.3 L1515.1 2054.2 L1516.1 2054 L1517.1 2053.6 L1518.1 2053.3 L1519.1 2052.8 L1520.1 2053.1 L1521.1 2053.6 L1522 2053.3"/>
<path stroke="#d40000" stroke-width="6.4" d="M931.1 2060.7 L932.1 2046.9 L932.6 2039.9 L933.1 2042.2 L934.1 2046.7 L935.1 2051 L935.2 2051.2 L936.1 2067.1 L936.7 2077.7 L937.1 2078.6 L938.1 2082.1 L939.1 2085.9 L939.2 2086.4 L940.1 2086.8 L941.1 2088 L942.1 2089.3 L943.1 2090.2 L943.3 2090.4 L944.1 2092.1 L945.1 2094 L946.1 2095.7 L946.3 2095.8 L947.1 2089.6 L948.1 2082 L949.1 2074.6 L949.4 2072.6 L950.1 2079 L951.1 2087.9 L951.9 2095.1 L952.1 2094.5 L953.1 2092.8 L954.1 2090.8 L955.1 2088.8 L955.5 2087.8 L956.1 2087.3 L957.1 2086.8 L958.1 2086.1 L959.1 2085.4 L959.6 2085.3 L960.1 2086.2 L961.1 2087.8 L962.1 2089.4 L963.1 2090.8 L963.6 2091.5 L964.1 2091.7 L965.1 2092.5 L966.1 2093.5 L967.1 2094.4 L967.7 2095.2 L968.1 2092.8 L969.1 2086.3 L970.1 2079.7 L970.2 2078.8 L971.1 2077.9 L972.1 2077.1 L972.8 2076.7 L973.1 2076.7 L974.1 2077.3"/>
</g>
<g font-size="50" text-anchor="end" fill="#000">
<text x="919" y="2146.6">0.15</text>
<text x="919" y="1991.5">0.30</text>
<text x="919" y="1836.4">0.45</text>
</g>
<g font-size="50" text-anchor="middle" fill="#000">
<text x="930.5" y="2236.9">0</text>
<text x="1078.4" y="2236.9">250</text>
<text x="1226.3" y="2236.9">500</text>
<text x="1374.3" y="2236.9">750</text>
<text x="1522.2" y="2236.9">1000</text>
</g>
<text x="1127.99" y="2291.70" font-size="50" textLength="194.26" lengthAdjust="spacingAndGlyphs">Time (fs)</text>
<text x="960.25" y="1844.90" font-size="50" textLength="308.99" lengthAdjust="spacingAndGlyphs">(j) Fragment 4</text>
<path d="M1245.6 1942H1361.9" stroke="#000" stroke-width="5.0"/>
<text x="1373.19" y="1960.40" font-size="50" textLength="107.00" lengthAdjust="spacingAndGlyphs">ChlA</text>
<path d="M1245.6 2001.7H1361.9" stroke="#d40000" stroke-width="5.0"/>
<text x="1373.15" y="2019.90" font-size="50" textLength="108.69" lengthAdjust="spacingAndGlyphs">ChlB</text>
<g transform="translate(36.3 0) rotate(-90)"><text x="-1637.33" y="0.00" font-size="50" textLength="1091.39" lengthAdjust="spacingAndGlyphs">Squared Transition Density Localization (tot. frac.)</text></g>
</svg></body></html>
